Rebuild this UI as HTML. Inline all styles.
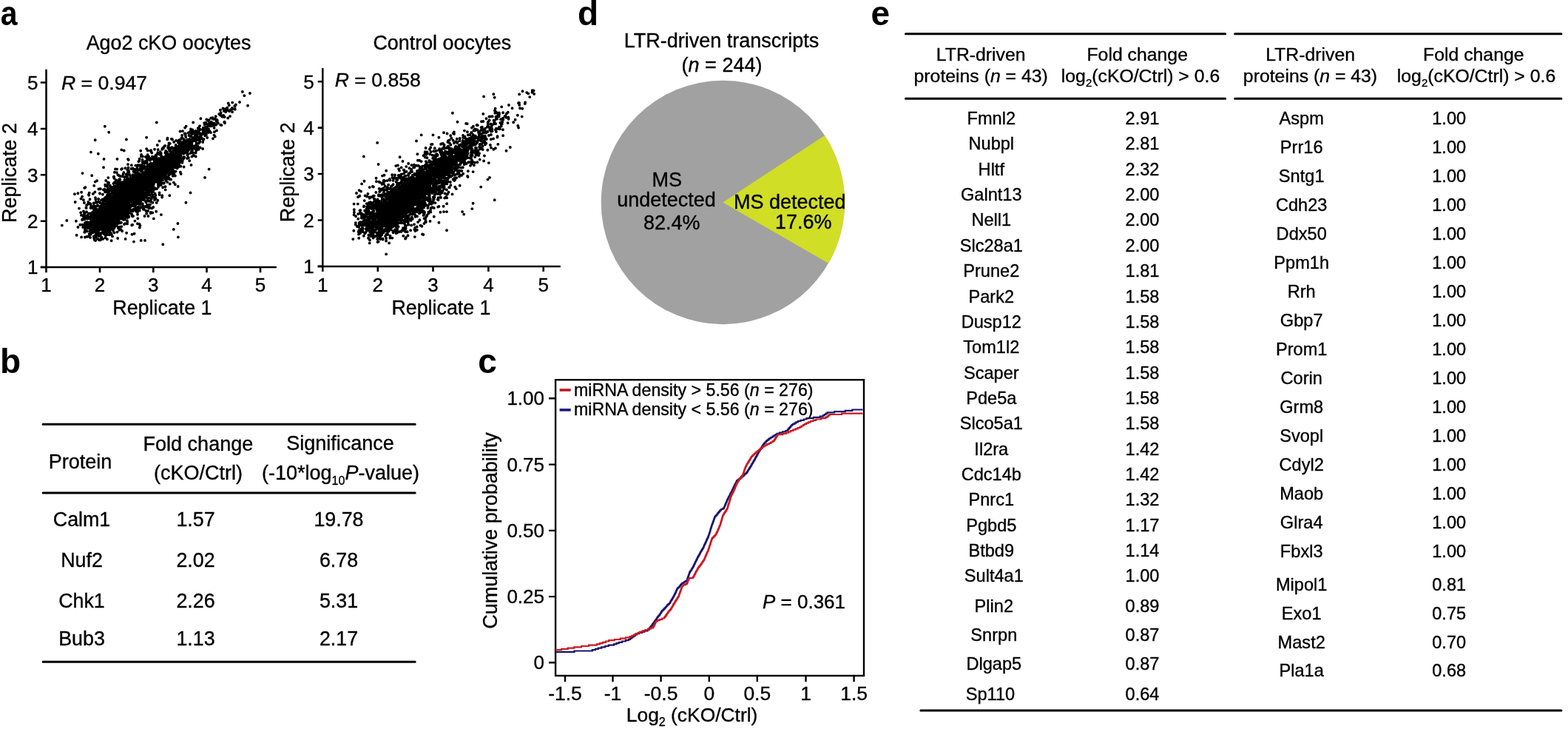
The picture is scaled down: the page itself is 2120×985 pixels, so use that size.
<!DOCTYPE html>
<html><head><meta charset="utf-8"><title>Figure</title>
<style>html,body{margin:0;padding:0;background:#fff;}svg{display:block;}text{fill:#000;stroke:#000;stroke-width:0.35px;}.lab text{stroke:none;}</style></head>
<body><svg width="2120" height="985" viewBox="0 0 2120 985" font-family="'Liberation Sans', Arial, sans-serif">
<rect width="2120" height="985" fill="#fff"/>
<g font-weight="bold" font-size="46" class="lab"><text transform="translate(0.8 34.3) scale(0.89 1)">a</text><text x="0" y="503.8">b</text><text x="646.2" y="504">c</text><text x="781" y="34">d</text><text x="1177.6" y="34">e</text></g><path d="M62.5 93.8V361M54.8 361H373.9" stroke="#000" stroke-width="2.5" fill="none"/><path d="M54.8 111.5H62.5M54.8 174H62.5M54.8 236.3H62.5M54.8 298.7H62.5M54.8 361H62.5M62.5 361V368.2M135 361V368.2M207.3 361V368.2M279.5 361V368.2M352 361V368.2" stroke="#000" stroke-width="2.6" fill="none"/><text x="51.5" y="120.8" font-size="26" text-anchor="end" >5</text><text x="51.5" y="183.3" font-size="26" text-anchor="end" >4</text><text x="51.5" y="245.60000000000002" font-size="26" text-anchor="end" >3</text><text x="51.5" y="308.0" font-size="26" text-anchor="end" >2</text><text x="51.5" y="370.3" font-size="26" text-anchor="end" >1</text><text x="62.5" y="393.6" font-size="26" text-anchor="middle" >1</text><text x="135" y="393.6" font-size="26" text-anchor="middle" >2</text><text x="207.3" y="393.6" font-size="26" text-anchor="middle" >3</text><text x="279.5" y="393.6" font-size="26" text-anchor="middle" >4</text><text x="352" y="393.6" font-size="26" text-anchor="middle" >5</text><text x="228" y="67.1" font-size="26.9" text-anchor="middle" >Ago2 cKO oocytes</text><text x="141" y="120.9" font-size="26.6" text-anchor="middle"><tspan font-style="italic">R</tspan> = 0.947</text><text x="219.4" y="425.3" font-size="26.8" text-anchor="middle" >Replicate 1</text><text transform="translate(21.5 233.5) rotate(-90)" font-size="27" text-anchor="middle">Replicate 2</text><path d="M436.3 91.9V359.9M429.7 359.9H757.8" stroke="#000" stroke-width="2.5" fill="none"/><path d="M429.7 110.2H436.3M429.7 172.6H436.3M429.7 235H436.3M429.7 297.5H436.3M429.7 359.9H436.3M436.3 359.9V367.09999999999997M510.8 359.9V367.09999999999997M585.5 359.9V367.09999999999997M660.4 359.9V367.09999999999997M734.7 359.9V367.09999999999997" stroke="#000" stroke-width="2.6" fill="none"/><text x="424.7" y="119.5" font-size="26" text-anchor="end" >5</text><text x="424.7" y="181.9" font-size="26" text-anchor="end" >4</text><text x="424.7" y="244.3" font-size="26" text-anchor="end" >3</text><text x="424.7" y="306.8" font-size="26" text-anchor="end" >2</text><text x="424.7" y="369.2" font-size="26" text-anchor="end" >1</text><text x="436.3" y="393.6" font-size="26" text-anchor="middle" >1</text><text x="510.8" y="393.6" font-size="26" text-anchor="middle" >2</text><text x="585.5" y="393.6" font-size="26" text-anchor="middle" >3</text><text x="660.4" y="393.6" font-size="26" text-anchor="middle" >4</text><text x="734.7" y="393.6" font-size="26" text-anchor="middle" >5</text><text x="597.8" y="66.7" font-size="26.9" text-anchor="middle" >Control oocytes</text><text x="510.8" y="116.7" font-size="26.6" text-anchor="middle"><tspan font-style="italic">R</tspan> = 0.858</text><text x="596.5" y="425.3" font-size="26.8" text-anchor="middle" >Replicate 1</text><text transform="translate(397.6 232.8) rotate(-90)" font-size="27" text-anchor="middle">Replicate 2</text><path d="M143.4 285.2h0M150.3 297.6h0M143.2 295.7h0M119.6 308.0h0M151.5 303.3h0M144.9 297.9h0M130.7 297.0h0M146.8 273.3h0M143.7 295.4h0M142.7 280.1h0M138.8 276.2h0M146.3 294.4h0M127.8 281.0h0M136.1 289.5h0M131.4 304.1h0M147.1 292.0h0M139.0 296.9h0M134.2 301.2h0M127.1 302.6h0M134.7 296.6h0M138.5 292.2h0M134.4 308.9h0M157.1 292.6h0M153.0 311.7h0M111.1 297.0h0M135.9 296.1h0M132.3 295.5h0M141.5 289.5h0M141.6 304.5h0M169.0 292.3h0M122.3 295.4h0M133.0 286.8h0M168.0 285.0h0M147.8 264.5h0M148.0 296.0h0M131.0 287.4h0M114.6 288.4h0M140.8 298.3h0M140.0 306.7h0M120.7 316.0h0M128.5 298.0h0M137.4 284.4h0M124.8 297.7h0M137.0 295.7h0M139.8 301.5h0M138.9 290.5h0M147.0 292.4h0M151.3 293.7h0M143.1 312.5h0M126.6 274.5h0M149.0 311.1h0M131.2 312.1h0M151.1 308.4h0M122.9 288.1h0M151.6 304.5h0M138.1 289.5h0M120.4 295.0h0M133.9 295.4h0M139.2 312.7h0M142.4 303.6h0M124.2 281.1h0M122.4 316.9h0M141.3 306.5h0M131.7 301.0h0M141.8 286.8h0M149.4 291.5h0M114.6 294.7h0M142.1 309.1h0M156.1 281.5h0M134.1 291.7h0M126.7 319.4h0M149.3 276.2h0M142.1 269.1h0M151.4 303.1h0M133.4 298.0h0M117.0 286.3h0M136.8 315.4h0M132.0 322.7h0M149.6 309.9h0M141.2 303.4h0M114.8 310.3h0M121.1 294.6h0M151.2 290.8h0M148.2 309.6h0M129.2 293.0h0M138.4 275.0h0M144.9 281.4h0M145.2 283.8h0M151.1 293.8h0M142.1 284.7h0M137.0 309.2h0M134.7 289.4h0M153.7 294.4h0M136.4 292.3h0M138.9 310.2h0M117.8 301.2h0M143.2 281.6h0M129.0 313.2h0M150.9 300.8h0M136.6 307.0h0M148.1 312.7h0M156.0 281.3h0M144.0 280.3h0M125.8 291.1h0M116.5 300.1h0M163.8 291.4h0M136.8 294.9h0M128.5 308.6h0M140.5 286.2h0M135.6 285.6h0M150.7 283.1h0M138.9 303.5h0M138.6 296.4h0M128.1 302.0h0M145.2 274.3h0M123.5 299.1h0M148.0 317.3h0M160.5 286.9h0M116.4 280.7h0M147.3 284.6h0M175.3 287.4h0M146.9 310.0h0M126.3 302.0h0M131.1 295.6h0M133.4 290.4h0M146.1 299.4h0M132.6 287.5h0M142.4 299.6h0M135.9 306.4h0M126.2 290.4h0M133.8 309.4h0M138.5 309.9h0M122.2 300.4h0M159.5 296.1h0M137.6 301.5h0M137.6 314.5h0M145.8 313.1h0M132.3 304.4h0M135.1 304.7h0M144.6 280.8h0M142.5 291.8h0M150.5 304.4h0M129.9 291.2h0M123.1 278.7h0M125.4 296.1h0M132.8 295.1h0M161.9 269.1h0M121.4 302.0h0M140.7 300.4h0M138.4 303.5h0M151.4 268.0h0M135.0 315.2h0M129.3 299.6h0M141.8 313.3h0M148.5 293.2h0M148.0 284.3h0M166.9 292.9h0M141.4 287.9h0M129.8 291.0h0M136.6 292.5h0M137.4 277.2h0M140.0 287.7h0M138.0 301.1h0M140.9 304.8h0M114.3 313.7h0M150.4 288.6h0M130.1 303.4h0M121.5 269.3h0M147.6 273.0h0M157.5 295.0h0M145.5 299.4h0M140.7 276.6h0M179.9 292.0h0M151.1 282.7h0M121.9 312.5h0M127.1 305.9h0M139.7 301.2h0M115.9 295.3h0M140.9 295.1h0M131.8 294.3h0M156.1 285.7h0M152.3 293.4h0M139.0 305.9h0M115.0 320.5h0M154.5 314.4h0M140.8 316.0h0M146.3 301.9h0M123.0 289.1h0M164.9 288.4h0M167.6 296.9h0M123.0 314.1h0M143.8 302.3h0M128.7 304.7h0M138.1 304.2h0M120.1 319.1h0M165.4 296.0h0M124.4 288.9h0M134.1 324.3h0M145.7 298.3h0M129.1 325.0h0M135.0 296.1h0M130.3 308.4h0M136.5 322.7h0M121.5 300.5h0M132.1 277.4h0M135.4 296.8h0M133.6 284.8h0M139.2 298.0h0M134.2 324.1h0M149.3 288.7h0M133.7 303.5h0M136.4 315.3h0M128.8 290.5h0M130.8 295.9h0M120.1 308.3h0M145.9 285.1h0M121.9 312.0h0M127.6 292.5h0M143.6 307.2h0M144.2 289.5h0M132.6 312.0h0M109.2 287.2h0M144.5 292.8h0M142.2 279.3h0M118.0 312.4h0M149.6 300.1h0M128.3 290.0h0M139.8 309.7h0M135.8 285.7h0M141.3 291.1h0M115.2 291.7h0M164.6 294.3h0M129.7 292.9h0M116.2 311.8h0M147.4 311.4h0M133.3 318.9h0M143.1 302.7h0M133.5 305.2h0M137.6 305.1h0M127.6 323.9h0M148.2 301.2h0M131.6 295.7h0M125.8 307.5h0M139.5 307.5h0M144.9 323.2h0M135.1 274.1h0M125.9 313.7h0M147.4 275.0h0M113.0 285.4h0M123.5 298.0h0M139.0 304.0h0M118.7 300.9h0M138.8 311.0h0M137.6 294.5h0M151.4 294.0h0M125.2 294.4h0M129.4 288.4h0M143.2 275.5h0M183.2 273.3h0M128.3 309.4h0M127.9 310.7h0M150.9 301.5h0M137.8 309.2h0M112.7 292.3h0M147.5 284.0h0M150.8 279.0h0M131.9 299.3h0M134.3 295.1h0M145.4 302.4h0M125.3 314.5h0M144.8 290.4h0M141.3 293.4h0M128.7 313.1h0M118.3 295.6h0M135.2 318.9h0M125.8 302.8h0M152.9 301.1h0M140.5 303.1h0M149.7 307.3h0M140.4 285.5h0M142.2 289.6h0M127.1 286.2h0M148.1 293.3h0M164.2 306.1h0M133.9 303.0h0M129.8 313.8h0M136.1 292.6h0M131.5 284.9h0M128.3 296.2h0M140.4 304.1h0M134.2 303.0h0M159.2 289.7h0M138.4 314.7h0M143.1 294.5h0M152.2 291.6h0M134.1 305.1h0M159.2 297.1h0M129.3 297.9h0M126.7 310.4h0M133.1 308.7h0M136.8 288.7h0M118.2 300.2h0M137.9 277.7h0M158.5 313.6h0M137.2 286.7h0M129.1 288.6h0M125.3 309.8h0M132.9 316.6h0M135.2 299.0h0M125.1 305.2h0M135.7 324.4h0M130.9 302.5h0M152.0 319.4h0M154.9 296.3h0M138.6 279.6h0M145.3 299.2h0M119.1 293.6h0M147.6 303.0h0M138.0 308.5h0M145.4 313.8h0M161.6 279.4h0M105.4 307.0h0M142.2 277.5h0M122.5 316.0h0M147.0 298.3h0M119.4 301.8h0M131.3 282.9h0M141.3 275.4h0M147.3 303.3h0M139.5 311.1h0M127.0 321.6h0M130.4 284.1h0M151.2 295.7h0M138.3 305.7h0M114.1 304.9h0M150.6 325.3h0M144.4 316.9h0M151.0 283.6h0M133.5 294.5h0M150.4 293.1h0M123.1 313.9h0M146.7 288.8h0M131.3 278.6h0M148.2 310.0h0M153.0 294.0h0M127.8 305.9h0M137.7 293.9h0M139.0 297.7h0M155.6 295.3h0M148.7 305.8h0M120.8 302.7h0M145.0 303.6h0M149.2 296.9h0M169.1 290.8h0M114.1 296.5h0M130.7 306.9h0M157.7 296.9h0M118.8 290.3h0M121.1 305.1h0M145.9 299.2h0M153.1 283.9h0M128.7 297.3h0M146.2 294.9h0M140.1 294.9h0M160.4 307.1h0M138.4 292.5h0M152.7 278.5h0M125.4 294.4h0M135.7 317.2h0M137.0 294.9h0M154.9 304.4h0M146.8 298.4h0M127.5 299.2h0M148.3 309.5h0M149.6 279.1h0M136.8 299.1h0M134.7 289.4h0M135.6 291.0h0M113.9 288.2h0M141.1 282.9h0M141.8 314.5h0M125.9 300.5h0M118.6 308.3h0M130.4 291.3h0M131.5 288.7h0M167.2 275.0h0M115.3 308.2h0M146.6 291.8h0M152.0 293.1h0M143.9 281.3h0M155.5 274.4h0M123.9 305.8h0M105.4 261.2h0M149.5 294.9h0M121.1 306.6h0M133.7 291.8h0M121.4 293.1h0M153.6 287.3h0M150.9 302.2h0M128.0 282.9h0M151.5 293.7h0M140.2 278.9h0M136.4 281.6h0M139.2 312.6h0M135.5 310.1h0M147.3 307.2h0M142.9 293.5h0M133.4 298.3h0M153.0 290.6h0M129.6 309.6h0M142.6 291.4h0M144.5 279.3h0M159.8 307.9h0M131.1 301.8h0M163.6 288.1h0M141.0 298.4h0M135.6 300.6h0M128.7 279.0h0M146.9 280.1h0M139.1 287.2h0M122.5 310.7h0M122.1 275.1h0M130.4 295.3h0M128.6 306.9h0M154.2 297.5h0M158.3 298.2h0M151.0 269.0h0M143.6 293.7h0M132.2 298.4h0M139.2 322.9h0M151.2 285.4h0M169.2 302.1h0M145.5 283.4h0M210.9 225.2h0M143.1 266.4h0M221.9 215.9h0M240.8 208.0h0M142.3 317.7h0M188.8 265.0h0M136.9 300.9h0M180.7 253.8h0M229.7 216.2h0M142.7 294.1h0M276.5 181.6h0M165.7 254.9h0M162.1 300.8h0M186.6 262.5h0M216.5 215.0h0M125.5 280.2h0M188.9 257.5h0M140.2 292.7h0M248.1 207.7h0M186.3 242.8h0M180.2 274.0h0M231.9 208.1h0M149.4 296.0h0M173.0 266.0h0M278.3 179.9h0M169.0 247.5h0M258.9 204.4h0M195.6 247.7h0M166.4 277.7h0M168.5 254.0h0M184.1 247.7h0M170.0 264.5h0M153.7 273.7h0M144.9 263.8h0M126.3 287.1h0M192.1 251.9h0M200.4 235.3h0M222.7 224.6h0M133.4 311.4h0M231.6 227.5h0M176.6 248.2h0M128.0 285.6h0M188.3 249.8h0M225.2 221.3h0M206.8 229.9h0M226.3 229.7h0M231.0 215.2h0M233.1 221.2h0M176.4 249.1h0M127.4 321.7h0M167.6 282.2h0M183.3 223.6h0M168.8 266.9h0M225.8 232.5h0M203.3 203.6h0M185.4 251.4h0M270.1 170.1h0M164.1 291.2h0M235.6 220.2h0M173.6 271.1h0M158.4 275.3h0M214.7 231.1h0M170.3 276.3h0M234.8 225.6h0M152.8 292.1h0M204.7 269.0h0M150.9 272.3h0M178.8 262.3h0M185.2 275.5h0M160.4 296.6h0M215.9 226.4h0M139.0 284.6h0M138.6 269.4h0M236.6 224.4h0M230.5 212.1h0M208.7 219.1h0M196.7 236.2h0M303.2 164.9h0M178.5 316.7h0M155.4 270.5h0M145.0 275.6h0M233.5 220.9h0M203.9 246.8h0M240.8 209.3h0M233.5 214.7h0M173.4 256.9h0M163.6 281.8h0M161.5 289.6h0M293.4 161.9h0M228.0 210.2h0M218.9 233.9h0M188.7 276.4h0M162.1 245.5h0M162.2 253.8h0M176.6 265.1h0M188.2 260.4h0M158.4 252.6h0M205.6 247.9h0M199.3 249.2h0M220.3 213.2h0M188.1 257.6h0M224.0 221.1h0M142.2 279.0h0M267.8 180.6h0M144.7 287.8h0M164.5 252.1h0M226.3 230.7h0M150.5 273.9h0M205.9 211.7h0M136.7 292.6h0M137.2 320.3h0M156.1 303.8h0M135.4 304.2h0M182.4 252.9h0M178.8 266.6h0M192.4 233.2h0M142.8 275.9h0M307.2 145.8h0M175.4 251.1h0M172.0 245.5h0M212.6 239.9h0M174.0 258.3h0M166.0 273.1h0M185.4 247.6h0M237.4 222.3h0M219.3 228.0h0M233.4 216.9h0M181.8 283.0h0M156.0 272.6h0M271.4 160.2h0M185.7 268.1h0M214.1 239.2h0M208.5 212.5h0M265.2 203.9h0M122.7 276.1h0M153.8 254.0h0M173.7 268.6h0M176.8 263.8h0M184.2 258.7h0M196.7 239.3h0M218.4 237.8h0M225.5 238.8h0M145.8 287.7h0M243.6 224.3h0M173.9 292.8h0M141.0 284.8h0M179.1 303.8h0M156.5 276.9h0M189.0 243.0h0M231.0 224.2h0M116.3 312.5h0M158.4 261.2h0M229.1 216.1h0M199.0 248.8h0M210.1 232.7h0M142.3 300.9h0M235.1 216.6h0M129.1 293.2h0M198.8 249.2h0M255.1 199.2h0M275.9 173.4h0M206.0 228.4h0M233.8 221.3h0M174.2 278.0h0M175.6 272.2h0M236.6 199.4h0M182.8 251.3h0M178.4 254.8h0M150.9 303.1h0M169.4 227.2h0M210.9 221.2h0M161.6 277.7h0M154.9 255.8h0M261.3 186.0h0M192.3 244.6h0M171.6 258.0h0M153.5 290.0h0M168.7 274.1h0M173.9 257.8h0M252.1 195.9h0M150.1 257.4h0M267.7 173.5h0M150.9 276.0h0M159.1 251.1h0M231.8 222.7h0M176.1 259.1h0M152.0 271.5h0M171.9 249.4h0M208.0 235.4h0M147.3 317.1h0M168.7 253.2h0M172.0 248.2h0M173.5 266.1h0M212.3 215.0h0M165.0 268.0h0M191.6 279.5h0M200.5 263.5h0M220.4 222.4h0M174.7 256.9h0M259.1 189.5h0M160.1 282.8h0M253.8 204.3h0M159.9 279.8h0M181.0 259.0h0M192.3 229.0h0M284.4 166.0h0M216.8 205.3h0M171.0 264.0h0M245.3 195.9h0M166.1 249.0h0M159.9 276.1h0M207.5 234.9h0M185.8 246.0h0M224.7 207.2h0M161.9 264.3h0M201.2 235.1h0M198.6 211.6h0M202.7 245.2h0M180.7 251.2h0M144.0 257.1h0M240.1 224.7h0M195.0 250.4h0M219.9 241.6h0M173.3 262.9h0M185.6 252.7h0M186.4 247.3h0M226.4 224.6h0M201.4 259.7h0M221.7 212.6h0M194.5 235.2h0M248.4 193.1h0M168.8 250.0h0M134.7 301.9h0M195.4 225.9h0M180.8 259.0h0M150.1 277.9h0M225.0 232.9h0M198.7 242.8h0M201.2 229.8h0M155.0 246.1h0M215.5 263.0h0M190.7 236.8h0M280.2 186.0h0M158.5 268.9h0M177.3 247.2h0M207.9 242.4h0M119.4 293.6h0M135.3 300.4h0M287.7 159.5h0M117.9 294.6h0M204.3 221.5h0M161.0 280.3h0M150.1 266.1h0M115.9 305.0h0M144.8 269.2h0M210.8 209.5h0M161.2 310.7h0M223.5 236.4h0M193.9 234.6h0M292.9 176.4h0M147.1 247.3h0M247.2 200.6h0M223.4 211.6h0M180.1 265.2h0M137.5 305.8h0M250.7 182.9h0M159.9 308.3h0M153.1 252.4h0M223.3 212.0h0M248.5 214.1h0M127.2 250.9h0M179.6 263.2h0M243.7 204.4h0M310.1 150.3h0M227.8 213.0h0M175.8 244.2h0M154.4 289.1h0M282.1 169.3h0M190.6 244.2h0M172.6 284.0h0M167.2 266.0h0M176.0 277.9h0M185.5 237.9h0M193.8 269.8h0M219.5 227.8h0M265.5 193.1h0M225.6 229.2h0M144.5 287.2h0M120.1 288.5h0M154.8 269.7h0M234.1 206.9h0M175.8 264.2h0M169.3 277.3h0M193.6 249.1h0M136.7 291.2h0M158.2 294.2h0M214.9 236.1h0M181.6 267.4h0M163.0 259.8h0M193.0 233.5h0M156.1 261.2h0M150.5 262.0h0M188.7 282.3h0M211.8 225.7h0M181.3 245.1h0M131.0 273.8h0M175.5 262.1h0M222.1 230.8h0M275.6 173.9h0M141.2 279.6h0M203.6 240.8h0M184.7 267.6h0M204.5 232.2h0M266.8 199.9h0M192.5 216.0h0M158.7 261.3h0M185.0 283.5h0M195.0 227.8h0M202.7 235.4h0M298.0 148.8h0M265.7 181.7h0M148.5 287.8h0M200.9 237.6h0M160.5 306.9h0M150.7 316.7h0M216.5 217.9h0M213.8 231.7h0M146.9 278.8h0M265.5 184.4h0M165.1 291.1h0M163.9 300.7h0M226.3 234.0h0M188.2 237.4h0M188.5 265.4h0M187.6 259.4h0M177.4 227.9h0M177.5 254.7h0M190.9 268.1h0M118.5 302.4h0M144.5 293.7h0M196.9 212.1h0M161.9 272.9h0M210.9 229.8h0M242.3 198.7h0M171.0 261.2h0M207.3 248.7h0M288.6 167.8h0M215.2 220.9h0M273.9 174.9h0M274.1 201.0h0M221.1 221.0h0M185.9 260.4h0M160.4 294.5h0M219.1 241.7h0M213.2 238.2h0M175.7 255.1h0M221.3 213.2h0M172.2 276.2h0M234.9 202.9h0M183.7 248.8h0M194.3 263.4h0M188.5 256.3h0M175.6 250.8h0M304.8 147.1h0M146.4 310.5h0M189.2 242.0h0M247.3 202.2h0M216.1 219.7h0M174.0 260.8h0M269.7 179.8h0M150.9 283.9h0M142.3 289.9h0M198.5 217.1h0M130.0 287.5h0M231.3 218.9h0M205.2 206.6h0M211.0 214.0h0M175.1 272.1h0M200.0 250.8h0M151.0 278.2h0M272.4 182.7h0M204.1 203.2h0M213.8 215.6h0M224.6 219.5h0M255.7 188.5h0M246.1 203.6h0M233.1 228.4h0M183.6 252.2h0M167.3 257.2h0M198.9 214.7h0M204.2 237.6h0M200.6 246.9h0M184.3 270.1h0M271.5 186.4h0M152.9 291.2h0M177.4 248.0h0M160.3 264.6h0M236.6 210.9h0M254.5 192.8h0M253.1 207.3h0M155.3 306.4h0M287.2 166.2h0M202.9 225.2h0M172.4 248.6h0M187.6 253.8h0M174.4 263.3h0M208.5 237.9h0M199.8 239.9h0M176.6 266.3h0M195.2 264.1h0M217.2 240.9h0M220.9 240.0h0M176.6 254.7h0M201.6 229.5h0M246.4 219.7h0M164.8 262.3h0M253.4 188.8h0M129.6 315.3h0M140.0 285.3h0M142.1 267.1h0M161.2 288.9h0M246.7 201.4h0M247.4 202.6h0M165.0 227.9h0M264.5 177.0h0M193.8 240.7h0M175.2 272.8h0M189.1 236.5h0M183.1 259.4h0M219.8 221.4h0M128.1 288.6h0M231.8 209.6h0M166.9 263.5h0M230.2 220.3h0M144.1 304.6h0M174.9 268.2h0M188.8 250.0h0M213.7 202.2h0M145.8 287.9h0M269.7 186.0h0M213.8 237.5h0M174.5 273.8h0M226.5 186.6h0M188.0 247.3h0M244.7 207.3h0M299.3 156.3h0M214.8 214.3h0M177.8 276.7h0M169.8 264.1h0M194.2 237.0h0M162.6 280.8h0M151.4 261.9h0M225.1 231.9h0M303.6 158.0h0M233.5 234.2h0M179.0 260.0h0M225.5 222.6h0M229.2 218.4h0M189.0 252.3h0M156.4 285.7h0M142.7 295.2h0M237.7 195.9h0M172.6 254.4h0M162.2 264.0h0M181.0 265.5h0M199.8 240.4h0M252.4 200.4h0M242.0 206.7h0M132.2 295.6h0M260.0 203.2h0M171.8 284.8h0M116.2 301.4h0M136.3 280.3h0M149.8 277.2h0M183.8 252.7h0M152.0 282.8h0M141.0 300.2h0M174.7 259.2h0M279.0 172.4h0M147.0 260.0h0M218.0 242.7h0M206.7 265.3h0M317.6 143.9h0M118.5 302.5h0M241.8 210.1h0M144.4 290.2h0M162.2 266.9h0M183.8 257.7h0M178.2 290.3h0M132.2 313.8h0M238.1 189.9h0M158.4 277.5h0M184.1 266.2h0M182.0 252.1h0M198.3 256.7h0M183.7 261.7h0M182.8 228.9h0M209.8 242.1h0M216.4 208.5h0M171.0 265.2h0M139.9 256.4h0M125.8 261.9h0M205.6 221.2h0M190.1 260.3h0M215.3 232.9h0M274.8 188.8h0M197.0 246.2h0M226.4 225.6h0M154.8 294.7h0M146.5 280.8h0M184.8 270.6h0M140.5 283.3h0M216.7 222.6h0M153.5 301.0h0M209.5 268.7h0M158.0 292.0h0M180.6 268.5h0M173.4 257.9h0M112.5 291.3h0M172.7 233.5h0M233.4 213.0h0M222.0 230.7h0M160.3 269.0h0M169.4 272.8h0M147.6 287.7h0M219.1 229.7h0M258.4 195.2h0M168.2 268.3h0M134.1 304.7h0M193.1 243.5h0M216.7 221.1h0M298.2 168.7h0M221.5 215.7h0M221.9 238.8h0M213.5 244.1h0M223.2 196.9h0M157.3 276.9h0M223.5 252.2h0M165.2 274.8h0M193.6 239.0h0M127.1 310.8h0M218.3 218.2h0M218.1 210.6h0M198.6 261.3h0M195.7 248.7h0M266.0 186.7h0M163.0 295.2h0M148.3 272.9h0M151.6 285.9h0M165.0 259.9h0M178.2 304.3h0M192.3 256.5h0M155.9 264.8h0M130.8 287.9h0M142.6 303.8h0M247.5 205.2h0M191.2 262.5h0M183.4 264.7h0M179.1 246.0h0M181.9 255.3h0M224.8 223.9h0M202.9 221.4h0M144.8 251.7h0M149.6 269.0h0M160.0 292.7h0M135.8 281.1h0M256.7 197.1h0M157.8 281.3h0M129.1 318.4h0M153.0 273.0h0M159.5 275.6h0M209.1 246.3h0M149.8 272.7h0M223.9 241.9h0M201.9 235.2h0M248.2 201.2h0M293.7 164.5h0M335.0 142.8h0M253.8 198.9h0M153.2 291.0h0M169.9 263.0h0M193.5 239.8h0M289.6 169.4h0M223.0 229.1h0M241.2 200.4h0M174.1 253.7h0M221.3 234.9h0M215.3 219.0h0M165.8 262.4h0M220.3 218.3h0M229.5 201.5h0M193.1 269.2h0M237.0 212.4h0M265.3 183.8h0M184.0 246.8h0M178.9 248.0h0M176.3 263.2h0M167.3 272.8h0M198.7 252.0h0M172.8 265.9h0M177.4 264.3h0M162.0 276.9h0M144.0 304.2h0M162.0 286.1h0M191.3 231.0h0M148.4 288.2h0M160.8 268.8h0M274.2 192.0h0M244.3 209.6h0M168.8 278.3h0M179.7 285.3h0M263.7 184.1h0M161.4 265.8h0M172.5 235.6h0M248.1 191.2h0M157.5 276.0h0M261.8 209.7h0M154.6 273.0h0M202.5 248.4h0M186.6 271.3h0M182.5 256.2h0M189.7 243.9h0M183.9 256.5h0M166.0 294.0h0M229.9 219.0h0M224.7 226.9h0M244.7 196.1h0M254.8 196.9h0M146.2 295.3h0M261.0 210.6h0M240.9 192.2h0M171.4 271.4h0M222.0 197.9h0M266.1 199.6h0M159.3 261.4h0M141.8 293.5h0M183.3 272.0h0M324.0 138.0h0M193.9 241.1h0M129.7 273.8h0M179.1 262.5h0M148.2 277.4h0M171.4 264.0h0M195.2 254.1h0M223.7 256.4h0M255.9 195.4h0M182.9 262.6h0M193.5 282.2h0M243.7 211.8h0M149.4 293.7h0M153.2 295.9h0M124.3 279.0h0M175.7 254.2h0M211.9 243.4h0M173.5 248.5h0M217.8 235.3h0M231.4 223.4h0M165.3 281.8h0M173.7 258.6h0M248.2 202.7h0M136.9 270.6h0M171.2 255.6h0M178.9 271.5h0M191.0 268.6h0M133.1 268.9h0M133.0 284.2h0M233.3 215.3h0M156.6 268.9h0M180.1 252.4h0M213.7 221.1h0M187.0 274.4h0M207.7 221.0h0M151.3 258.8h0M163.5 254.9h0M176.3 250.6h0M179.6 274.3h0M197.8 262.6h0M204.5 248.1h0M201.9 227.8h0M157.1 285.0h0M214.8 250.0h0M205.5 252.8h0M202.3 228.1h0M155.7 281.6h0M231.5 209.1h0M285.2 159.5h0M167.0 270.5h0M176.1 284.3h0M181.2 250.7h0M199.6 209.1h0M133.1 272.3h0M244.5 199.7h0M220.0 200.0h0M205.0 214.9h0M155.2 257.9h0M229.0 214.1h0M233.4 222.9h0M143.9 285.3h0M288.7 166.8h0M177.9 264.1h0M212.7 246.1h0M170.0 269.8h0M199.8 233.7h0M244.0 206.5h0M162.9 279.6h0M140.1 307.5h0M172.3 267.6h0M171.1 314.7h0M171.6 284.4h0M177.1 253.6h0M202.0 271.6h0M252.2 202.6h0M138.6 270.3h0M213.8 248.5h0M151.7 253.1h0M253.9 197.8h0M307.1 145.8h0M205.4 245.3h0M261.8 178.5h0M183.1 281.4h0M134.8 299.8h0M146.7 291.6h0M157.4 283.1h0M201.7 281.2h0M240.7 204.5h0M222.2 226.5h0M201.9 228.8h0M167.4 261.9h0M148.0 261.9h0M198.6 262.2h0M197.7 252.7h0M201.5 246.0h0M215.2 248.1h0M173.0 249.6h0M121.8 306.8h0M152.8 288.2h0M157.0 275.5h0M260.4 175.4h0M170.1 264.4h0M223.7 229.9h0M268.4 201.9h0M207.4 244.6h0M165.4 258.5h0M146.1 277.1h0M199.7 240.2h0M240.4 206.1h0M210.1 227.0h0M223.7 221.7h0M214.9 218.6h0M284.6 170.4h0M151.6 260.1h0M187.9 242.6h0M211.2 216.5h0M245.3 200.3h0M170.5 270.1h0M181.6 262.1h0M153.1 283.6h0M236.6 226.5h0M191.6 240.6h0M171.1 263.5h0M147.6 312.8h0M151.7 298.9h0M153.3 281.3h0M201.2 229.0h0M149.1 290.8h0M102.9 298.7h0M122.6 281.0h0M151.9 258.0h0M264.6 181.1h0M308.0 148.7h0M171.4 268.6h0M234.4 216.4h0M255.6 196.2h0M244.0 196.1h0M177.5 253.4h0M154.4 300.1h0M158.9 258.2h0M142.5 321.2h0M208.8 253.7h0M233.9 230.0h0M111.7 296.3h0M195.0 264.9h0M195.2 237.5h0M244.3 199.3h0M249.0 192.4h0M228.2 223.1h0M168.5 277.6h0M172.0 262.8h0M248.4 206.6h0M166.0 270.9h0M199.0 267.8h0M257.1 184.1h0M183.3 241.1h0M136.0 288.2h0M188.6 273.0h0M224.9 233.9h0M188.0 266.6h0M251.8 202.9h0M162.3 270.3h0M165.9 265.2h0M175.5 251.0h0M160.2 299.4h0M215.6 247.9h0M185.8 264.1h0M225.7 222.3h0M173.9 277.4h0M164.9 285.4h0M287.8 187.2h0M163.6 284.2h0M180.8 282.5h0M155.4 268.9h0M189.6 274.4h0M135.0 261.6h0M191.1 261.1h0M153.2 265.5h0M177.6 270.3h0M208.7 243.2h0M218.1 222.7h0M206.9 232.9h0M146.6 261.5h0M197.0 230.2h0M179.4 255.2h0M185.3 259.6h0M122.4 296.0h0M226.6 232.7h0M176.4 253.8h0M265.0 178.6h0M210.2 221.2h0M120.7 260.6h0M141.3 292.7h0M237.3 201.5h0M138.9 262.7h0M220.5 226.3h0M172.5 259.4h0M289.8 166.6h0M198.5 258.2h0M260.0 190.3h0M245.7 193.3h0M172.2 260.6h0M259.5 192.2h0M179.2 247.7h0M152.1 273.3h0M249.5 206.7h0M313.9 146.8h0M173.9 245.0h0M250.9 190.7h0M191.3 266.6h0M248.2 191.5h0M180.9 261.6h0M254.8 198.7h0M215.1 230.6h0M168.8 247.6h0M204.3 246.7h0M183.5 280.2h0M157.5 290.4h0M155.1 284.3h0M180.8 250.1h0M156.1 284.9h0M217.0 239.4h0M240.7 251.9h0M223.7 242.1h0M170.0 264.9h0M200.3 256.5h0M197.3 260.7h0M250.5 193.0h0M144.0 259.6h0M188.9 274.6h0M201.1 276.6h0M176.6 250.3h0M168.9 277.7h0M171.2 272.9h0M240.2 209.5h0M151.0 255.9h0M226.1 205.6h0M292.3 168.6h0M242.4 189.2h0M130.3 303.7h0M228.7 219.9h0M217.0 234.6h0M215.0 227.4h0M131.5 294.6h0M224.0 217.1h0M152.5 282.5h0M252.0 196.2h0M244.3 208.3h0M308.7 139.5h0M170.7 258.9h0M150.4 305.4h0M258.5 222.9h0M232.1 214.8h0M163.4 252.5h0M262.0 199.8h0M219.4 219.6h0M135.1 279.0h0M191.7 275.3h0M168.5 260.6h0M194.4 264.1h0M202.1 246.7h0M159.2 266.7h0M175.1 252.4h0M226.2 234.0h0M178.8 248.7h0M181.0 261.7h0M180.2 262.9h0M193.0 262.5h0M124.7 305.4h0M186.0 235.6h0M148.0 275.7h0M195.4 248.2h0M143.4 296.7h0M236.9 215.3h0M199.2 240.5h0M144.3 290.7h0M197.8 239.2h0M157.9 269.2h0M279.3 177.8h0M208.5 227.1h0M158.2 271.5h0M197.0 239.6h0M175.1 242.3h0M251.2 204.2h0M200.5 231.3h0M192.9 211.5h0M156.7 288.1h0M228.9 218.9h0M288.8 160.9h0M222.0 226.0h0M177.9 244.9h0M204.3 250.6h0M173.9 293.5h0M197.7 242.9h0M156.2 286.4h0M191.1 249.2h0M169.2 257.7h0M152.2 267.8h0M202.2 213.5h0M140.6 294.8h0M186.6 252.4h0M151.9 295.3h0M281.9 176.9h0M286.2 168.4h0M238.4 222.2h0M289.9 178.2h0M201.2 211.5h0M196.9 212.0h0M181.3 270.1h0M188.4 302.7h0M198.6 248.6h0M180.3 275.5h0M185.8 274.7h0M237.6 231.6h0M193.5 264.0h0M132.6 292.0h0M179.7 257.2h0M146.4 259.2h0M169.0 252.4h0M143.8 275.7h0M251.2 203.9h0M276.2 166.2h0M158.0 288.8h0M221.9 225.1h0M220.0 227.7h0M151.8 281.4h0M188.4 242.4h0M267.6 200.3h0M241.3 225.2h0M260.8 177.0h0M146.3 282.1h0M167.9 277.0h0M209.1 244.4h0M201.3 232.5h0M198.8 258.2h0M174.1 262.4h0M179.7 268.6h0M162.5 264.8h0M213.7 235.4h0M262.9 181.3h0M146.2 246.5h0M137.5 289.8h0M221.7 234.8h0M165.2 312.3h0M217.9 245.0h0M164.1 255.2h0M220.5 230.2h0M232.4 223.9h0M243.9 191.3h0M200.4 292.0h0M154.3 240.8h0M191.9 256.7h0M129.9 282.9h0M218.7 229.1h0M188.6 242.2h0M134.9 283.1h0M254.5 208.1h0M249.2 190.4h0M149.6 294.6h0M215.9 228.6h0M242.6 194.6h0M228.0 216.6h0M169.6 293.1h0M139.2 290.3h0M175.4 249.6h0M181.8 276.5h0M188.5 254.2h0M192.2 263.5h0M190.9 211.2h0M174.0 273.5h0M168.8 246.6h0M327.8 124.0h0M192.5 265.4h0M214.6 214.3h0M206.3 244.9h0M195.2 241.4h0M168.4 288.7h0M212.0 229.9h0M178.8 249.3h0M231.9 222.8h0M282.3 162.3h0M189.1 239.2h0M223.9 220.6h0M171.8 298.1h0M191.5 247.1h0M261.1 186.3h0M178.3 249.6h0M165.3 270.8h0M190.3 238.6h0M174.8 253.6h0M173.6 255.7h0M283.1 168.7h0M160.9 280.2h0M167.9 260.5h0M178.3 278.3h0M247.2 200.7h0M164.9 250.4h0M248.4 196.3h0M188.0 240.1h0M156.0 228.4h0M133.6 289.8h0M241.0 197.8h0M206.9 224.8h0M209.5 238.6h0M185.4 259.1h0M169.3 261.9h0M147.6 291.1h0M232.4 212.7h0M200.1 241.9h0M172.8 261.8h0M148.0 255.6h0M185.9 258.0h0M251.6 170.6h0M226.6 222.2h0M165.4 268.7h0M152.3 286.0h0M154.1 238.7h0M154.2 276.7h0M200.8 258.7h0M213.8 242.3h0M222.2 229.9h0M210.1 238.0h0M175.4 254.4h0M222.7 233.2h0M145.4 267.7h0M185.0 256.3h0M228.0 219.8h0M203.9 243.2h0M140.2 284.5h0M146.5 283.4h0M145.6 308.5h0M276.0 177.4h0M179.2 254.4h0M280.0 178.0h0M243.6 210.5h0M255.4 200.4h0M171.4 267.8h0M223.3 221.4h0M337.9 126.0h0M192.0 259.6h0M195.2 224.5h0M160.8 248.2h0M192.8 225.7h0M252.9 192.2h0M173.0 291.6h0M127.9 282.3h0M191.0 253.3h0M184.0 232.2h0M255.8 192.5h0M198.1 201.1h0M154.2 259.8h0M214.3 227.8h0M244.6 207.7h0M202.3 241.0h0M176.1 262.7h0M223.3 226.3h0M168.3 256.8h0M113.5 294.4h0M253.2 197.0h0M139.9 284.8h0M176.9 263.2h0M206.2 287.4h0M169.5 256.9h0M165.8 250.9h0M112.9 270.2h0M220.2 236.7h0M187.3 250.4h0M176.4 240.0h0M244.3 211.7h0M232.5 199.2h0M252.2 196.1h0M274.8 172.6h0M211.6 235.8h0M125.3 286.6h0M182.0 230.5h0M178.3 244.1h0M175.7 237.1h0M185.8 286.1h0M169.4 288.2h0M227.1 220.3h0M229.9 208.0h0M154.4 288.1h0M215.2 231.6h0M185.0 261.2h0M146.3 240.1h0M222.0 225.2h0M193.8 262.2h0M195.5 292.0h0M213.2 270.7h0M124.2 311.5h0M164.6 259.0h0M149.3 299.7h0M173.4 226.5h0M205.9 246.9h0M155.4 260.5h0M191.9 267.8h0M218.9 224.4h0M245.1 214.6h0M178.1 289.2h0M215.2 249.6h0M237.5 210.1h0M179.6 249.6h0M157.7 272.5h0M166.0 279.4h0M193.4 278.1h0M154.8 284.8h0M285.1 169.5h0M149.9 254.7h0M206.0 239.1h0M190.0 241.8h0M201.3 213.3h0M167.6 259.7h0M152.1 297.7h0M268.3 187.1h0M181.6 254.7h0M194.1 251.3h0M189.7 240.5h0M204.8 205.6h0M239.0 201.0h0M232.6 225.1h0M172.5 229.6h0M195.2 240.6h0M159.2 272.7h0M129.3 314.0h0M180.8 263.1h0M155.6 288.1h0M314.5 147.1h0M268.4 193.8h0M171.8 272.7h0M281.5 163.1h0M107.0 281.6h0M156.9 296.8h0M155.8 271.9h0M163.8 288.7h0M193.4 249.3h0M200.2 250.0h0M283.5 177.3h0M233.2 210.8h0M241.9 199.4h0M211.6 240.9h0M171.4 249.8h0M161.2 271.2h0M141.6 300.6h0M159.2 279.8h0M185.5 275.1h0M221.0 220.0h0M139.4 308.6h0M143.6 294.2h0M197.4 245.4h0M146.3 278.7h0M213.9 249.9h0M179.1 271.3h0M150.9 266.0h0M127.0 278.0h0M187.5 260.7h0M128.7 245.6h0M159.2 265.4h0M160.2 267.6h0M193.8 245.1h0M191.0 245.9h0M118.1 291.8h0M187.1 264.1h0M202.3 234.6h0M240.2 213.4h0M224.2 221.2h0M198.1 247.0h0M159.3 295.3h0M152.1 268.2h0M237.2 221.3h0M163.2 274.0h0M231.8 207.3h0M248.8 201.0h0M159.1 290.6h0M187.4 218.3h0M182.3 257.3h0M286.3 170.0h0M227.8 219.6h0M159.6 260.0h0M202.7 234.2h0M172.5 294.0h0M183.2 234.5h0M179.8 236.2h0M194.4 235.5h0M151.7 275.5h0M129.7 309.7h0M194.7 282.1h0M155.1 277.7h0M155.5 267.1h0M285.2 159.8h0M241.3 204.0h0M211.2 285.7h0M137.3 292.6h0M146.1 292.6h0M189.8 227.1h0M246.7 216.5h0M177.7 263.2h0M200.7 255.5h0M204.8 249.0h0M237.1 208.5h0M135.7 316.4h0M196.9 250.5h0M199.8 231.9h0M232.7 214.5h0M209.3 240.9h0M153.5 288.0h0M175.0 277.3h0M129.4 291.0h0M189.7 241.1h0M207.5 256.6h0M201.9 224.8h0M143.8 272.2h0M144.7 282.5h0M260.4 189.9h0M199.8 250.7h0M269.3 179.0h0M198.9 228.3h0M131.6 289.3h0M222.4 217.7h0M247.7 203.4h0M165.0 261.4h0M217.8 225.6h0M190.5 266.0h0M195.7 239.2h0M205.9 232.9h0M152.0 273.6h0M228.0 215.8h0M127.0 305.7h0M123.2 304.6h0M181.2 275.3h0M270.6 188.5h0M268.8 189.5h0M171.8 276.1h0M232.4 210.1h0M218.8 233.8h0M206.2 249.7h0M191.8 229.3h0M186.3 295.2h0M230.9 225.5h0M239.5 211.0h0M318.8 141.4h0M227.0 212.5h0M152.4 293.0h0M206.0 243.6h0M177.1 241.1h0M120.1 302.0h0M171.0 249.3h0M169.4 260.2h0M192.8 263.1h0M189.4 264.3h0M241.8 225.2h0M253.1 189.2h0M226.6 232.0h0M153.5 288.8h0M150.4 272.3h0M131.0 244.2h0M187.2 258.6h0M164.1 259.5h0M171.1 261.2h0M153.2 277.9h0M228.3 211.1h0M213.2 206.3h0M234.5 216.0h0M187.6 260.3h0M216.5 242.5h0M157.0 280.6h0M162.7 291.1h0M164.8 266.7h0M209.9 225.8h0M172.5 251.0h0M168.0 303.0h0M185.3 246.0h0M206.5 236.5h0M195.5 248.8h0M157.8 267.4h0M170.6 235.7h0M198.1 288.5h0M176.8 264.6h0M190.8 263.5h0M224.7 224.3h0M268.9 172.1h0M255.5 183.0h0M219.6 230.4h0M181.3 272.7h0M166.3 254.6h0M182.1 265.8h0M239.4 203.3h0M185.9 232.4h0M114.2 304.1h0M195.6 262.7h0M252.8 200.2h0M167.2 289.1h0M257.8 206.9h0M267.5 197.7h0M208.8 231.9h0M243.7 198.2h0M135.1 255.3h0M240.9 202.8h0M275.5 188.1h0M201.0 213.2h0M197.0 240.0h0M249.5 200.9h0M235.6 201.7h0M160.9 274.5h0M250.8 195.5h0M216.6 217.9h0M189.4 243.8h0M253.1 202.2h0M235.1 218.6h0M232.0 231.1h0M148.9 250.7h0M223.6 216.4h0M147.5 283.2h0M188.8 263.7h0M142.6 311.8h0M125.6 297.8h0M200.5 229.3h0M178.5 252.3h0M184.0 245.3h0M212.1 226.9h0M209.1 244.7h0M148.2 271.3h0M190.9 252.3h0M172.1 246.0h0M148.9 251.3h0M175.7 252.3h0M180.6 270.0h0M161.9 269.9h0M200.0 285.0h0M178.8 228.2h0M286.8 167.4h0M153.3 271.8h0M205.3 226.9h0M143.3 299.4h0M265.9 189.2h0M182.2 269.6h0M182.6 239.6h0M248.4 200.4h0M242.8 220.0h0M141.8 299.8h0M211.5 229.4h0M178.9 260.8h0M211.6 224.1h0M203.8 256.7h0M232.0 231.9h0M198.2 240.1h0M186.0 262.0h0M244.6 205.6h0M136.9 298.5h0M165.0 260.4h0M144.9 272.4h0M177.7 255.1h0M172.6 266.7h0M181.2 258.4h0M145.8 247.0h0M156.6 255.2h0M122.8 291.9h0M206.2 273.8h0M197.0 237.7h0M168.5 272.6h0M159.7 268.4h0M156.2 264.7h0M263.2 179.4h0M195.5 246.5h0M213.9 245.6h0M184.2 269.5h0M188.8 284.6h0M162.2 283.0h0M261.4 189.3h0M142.8 312.4h0M213.9 252.9h0M191.0 259.9h0M179.2 262.7h0M140.5 302.9h0M248.6 225.5h0M162.6 272.9h0M229.7 217.9h0M212.3 220.4h0M218.0 233.0h0M216.9 216.7h0M151.0 291.9h0M165.4 263.0h0M220.5 226.8h0M159.4 302.1h0M268.6 185.2h0M168.9 270.9h0M173.8 247.3h0M168.5 296.6h0M206.9 241.4h0M152.4 266.4h0M182.9 265.2h0M148.1 285.5h0M238.5 199.1h0M144.7 310.2h0M221.9 247.1h0M192.1 239.5h0M205.4 234.0h0M162.9 291.6h0M238.4 212.3h0M224.4 206.0h0M196.9 250.1h0M207.3 246.2h0M174.9 253.4h0M228.3 236.5h0M171.9 288.1h0M225.8 241.8h0M208.7 239.6h0M145.6 298.5h0M186.9 261.5h0M178.1 256.5h0M239.9 198.1h0M202.8 263.8h0M155.5 255.8h0M142.5 293.0h0M199.1 270.4h0M144.2 280.0h0M187.1 261.9h0M233.3 206.0h0M193.4 252.7h0M145.0 277.7h0M173.7 216.0h0M114.3 254.0h0M149.0 310.9h0M188.6 214.8h0M164.1 266.2h0M239.4 206.5h0M195.5 236.2h0M166.3 282.5h0M199.5 247.4h0M252.3 202.2h0M205.2 281.4h0M139.9 274.0h0M175.8 282.6h0M164.7 281.4h0M120.2 263.7h0M145.3 291.6h0M208.4 238.0h0M247.6 213.9h0M168.9 259.7h0M222.3 219.2h0M227.9 213.8h0M257.9 174.4h0M170.2 251.0h0M171.3 261.1h0M205.8 235.8h0M206.4 263.5h0M200.1 240.9h0M246.5 197.2h0M170.5 264.9h0M194.0 242.8h0M128.3 259.5h0M179.1 257.2h0M177.9 285.0h0M152.3 267.6h0M190.3 270.2h0M169.7 265.2h0M199.8 234.8h0M221.3 216.9h0M237.2 213.9h0M194.8 241.0h0M230.1 232.4h0M146.7 256.8h0M188.3 269.1h0M160.5 276.1h0M236.4 222.3h0M160.3 286.5h0M121.7 307.5h0M194.9 246.0h0M248.0 198.3h0M254.2 212.6h0M224.2 230.9h0M173.0 222.1h0M152.1 267.9h0M245.5 202.9h0M224.2 234.6h0M146.8 267.8h0M140.4 286.7h0M160.2 267.3h0M238.2 208.1h0M248.2 202.5h0M259.2 181.3h0M165.5 280.0h0M170.1 260.7h0M190.9 239.9h0M218.7 218.0h0M144.3 292.4h0M163.1 255.2h0M179.2 249.2h0M174.8 264.4h0M170.0 263.6h0M145.2 310.6h0M257.0 178.0h0M172.6 230.1h0M134.9 291.7h0M227.9 199.3h0M192.3 253.5h0M228.5 229.9h0M181.3 260.5h0M166.3 280.6h0M169.2 281.6h0M206.0 241.5h0M217.5 215.0h0M199.7 223.5h0M215.9 224.3h0M253.4 209.6h0M198.5 239.2h0M240.9 215.3h0M241.6 207.1h0M185.5 227.1h0M203.8 272.3h0M168.8 262.2h0M148.3 287.6h0M135.4 296.2h0M255.8 201.1h0M182.8 249.7h0M166.4 266.1h0M270.4 191.0h0M232.1 209.0h0M198.4 256.5h0M235.9 209.1h0M170.4 249.0h0M215.2 245.4h0M275.4 174.0h0M239.3 207.0h0M153.7 238.9h0M221.8 222.4h0M248.6 204.3h0M173.5 247.0h0M166.8 257.9h0M282.0 174.1h0M186.2 267.5h0M154.5 297.4h0M193.8 243.1h0M298.6 152.4h0M214.4 218.9h0M230.0 204.2h0M112.2 307.0h0M157.0 254.7h0M254.9 203.1h0M165.3 252.8h0M263.6 200.5h0M228.3 240.5h0M213.2 233.9h0M278.9 182.3h0M171.2 262.5h0M171.6 260.8h0M205.0 250.5h0M185.8 224.4h0M124.9 289.3h0M251.0 195.4h0M209.6 244.0h0M165.4 238.2h0M224.6 223.8h0M199.0 280.0h0M255.8 201.2h0M206.3 254.7h0M209.0 201.7h0M150.5 265.7h0M182.0 258.7h0M202.4 225.5h0M173.4 288.8h0M169.6 269.5h0M197.2 257.1h0M247.2 202.2h0M235.4 221.7h0M241.3 214.8h0M206.1 235.1h0M241.3 215.1h0M260.4 177.9h0M200.3 241.6h0M226.4 241.6h0M214.3 218.8h0M121.7 304.0h0M175.9 243.4h0M217.5 235.8h0M237.8 225.0h0M179.5 259.7h0M240.1 208.6h0M178.3 276.7h0M191.9 262.5h0M270.3 175.2h0M154.5 296.3h0M187.5 252.5h0M176.9 248.3h0M176.6 244.4h0M178.8 271.9h0M218.4 218.5h0M144.1 272.2h0M150.1 291.6h0M236.8 249.2h0M143.7 279.1h0M209.7 235.0h0M189.3 247.4h0M175.0 278.0h0M156.7 243.3h0M181.1 250.6h0M198.5 220.0h0M156.4 259.5h0M178.1 254.6h0M147.9 297.2h0M167.6 249.4h0M122.8 303.2h0M184.0 250.4h0M163.9 256.8h0M294.8 166.4h0M248.9 195.0h0M180.4 254.3h0M206.2 243.0h0M162.3 295.1h0M237.3 200.9h0M211.8 239.6h0M120.3 304.6h0M217.3 223.9h0M231.4 212.9h0M157.7 265.8h0M225.4 218.4h0M140.9 309.7h0M160.8 242.6h0M184.9 247.3h0M217.9 212.9h0M206.8 235.7h0M181.8 229.1h0M204.9 221.0h0M164.5 270.6h0M258.9 190.0h0M203.8 287.0h0M212.9 208.1h0M188.9 254.5h0M183.1 263.9h0M217.1 229.3h0M210.8 235.7h0M243.9 188.8h0M227.6 197.3h0M184.4 283.1h0M196.0 218.3h0M188.1 245.1h0M165.0 279.2h0M133.1 268.8h0M207.8 249.3h0M159.8 260.1h0M146.0 296.1h0M181.9 254.5h0M185.3 232.8h0M180.9 239.3h0M138.8 279.7h0M158.7 261.8h0M255.5 196.9h0M167.0 279.7h0M174.7 261.5h0M301.3 157.7h0M200.6 235.7h0M161.9 260.4h0M127.6 311.8h0M204.0 242.1h0M135.0 287.2h0M188.1 256.4h0M172.2 290.1h0M125.2 294.9h0M263.9 181.1h0M195.2 267.4h0M240.2 222.5h0M229.4 228.5h0M165.4 276.8h0M189.9 249.3h0M170.2 260.1h0M225.7 206.6h0M211.8 239.6h0M175.3 264.5h0M268.3 185.0h0M197.9 220.2h0M198.3 225.5h0M170.9 284.8h0M210.7 240.8h0M113.9 274.0h0M202.0 228.7h0M161.1 285.0h0M197.6 248.4h0M173.2 258.5h0M192.0 239.8h0M220.2 253.3h0M187.5 258.6h0M188.1 259.0h0M128.7 288.3h0M130.6 313.0h0M233.1 188.5h0M225.7 240.1h0M141.8 299.1h0M282.1 176.3h0M157.7 269.9h0M216.2 237.2h0M203.5 233.5h0M194.4 252.2h0M209.9 223.6h0M132.1 284.8h0M195.8 264.7h0M180.0 263.3h0M210.6 268.0h0M178.5 263.1h0M160.5 268.2h0M163.4 275.8h0M230.8 218.3h0M162.8 281.8h0M200.9 236.5h0M204.5 240.7h0M154.9 232.8h0M209.3 238.6h0M222.5 240.0h0M161.4 262.8h0M192.3 231.3h0M285.1 179.1h0M161.0 292.8h0M165.2 253.2h0M142.0 259.3h0M279.4 167.6h0M144.1 296.8h0M190.5 257.5h0M225.1 209.7h0M149.8 271.7h0M193.8 268.6h0M141.5 255.7h0M149.2 297.7h0M177.4 250.7h0M205.4 229.4h0M177.3 269.0h0M194.4 247.7h0M227.7 232.7h0M226.2 188.4h0M136.7 281.0h0M212.3 225.4h0M165.1 271.0h0M131.0 312.5h0M164.2 279.1h0M224.6 233.6h0M196.6 237.6h0M144.6 280.0h0M263.6 186.1h0M207.3 238.7h0M168.4 242.9h0M167.9 269.0h0M190.7 223.1h0M194.1 282.9h0M237.7 203.4h0M201.5 241.2h0M221.6 233.2h0M181.2 267.2h0M169.6 322.9h0M202.2 223.9h0M153.4 282.6h0M179.7 254.8h0M181.5 251.1h0M228.5 216.2h0M142.2 296.4h0M251.2 185.2h0M184.0 285.5h0M231.2 212.3h0M242.7 194.6h0M160.4 280.3h0M166.9 278.9h0M224.4 208.5h0M184.4 237.1h0M180.9 242.9h0M109.9 290.8h0M150.2 315.1h0M205.3 225.8h0M256.8 195.0h0M170.4 280.4h0M155.8 276.5h0M180.5 231.9h0M198.3 225.9h0M215.1 232.1h0M156.3 253.2h0M114.8 301.4h0M261.8 197.5h0M175.4 272.8h0M248.8 203.1h0M124.7 312.4h0M211.7 245.3h0M170.4 268.6h0M156.2 289.0h0M212.8 196.0h0M250.0 201.3h0M163.7 267.7h0M213.4 223.7h0M139.4 273.9h0M166.6 272.0h0M188.1 269.7h0M175.2 264.2h0M220.1 230.2h0M129.7 272.9h0M219.2 201.8h0M235.7 216.3h0M171.5 253.8h0M119.8 263.1h0M185.8 257.5h0M146.6 260.1h0M183.7 243.6h0M162.5 292.7h0M193.5 260.4h0M180.2 252.6h0M198.6 264.1h0M195.7 238.7h0M200.7 242.4h0M229.2 210.4h0M153.4 269.6h0M232.2 233.9h0M194.2 247.8h0M179.6 271.8h0M157.2 284.7h0M258.6 195.1h0M200.2 246.3h0M166.6 266.1h0M195.1 255.8h0M172.5 242.0h0M168.2 267.8h0M136.2 287.7h0M209.6 261.6h0M168.8 248.2h0M168.7 254.8h0M239.7 218.3h0M130.3 278.8h0M151.3 277.1h0M189.8 243.8h0M244.7 235.1h0M212.0 225.4h0M224.5 226.5h0M122.0 320.9h0M216.7 239.0h0M208.9 238.8h0M215.4 222.3h0M153.8 264.3h0M205.4 228.1h0M235.9 213.4h0M269.8 192.4h0M193.2 238.9h0M161.8 306.7h0M189.6 252.1h0M208.4 219.3h0M224.4 244.0h0M290.7 184.5h0M200.8 277.6h0M155.4 283.8h0M162.0 268.3h0M217.5 226.0h0M153.5 270.1h0M161.3 290.2h0M164.0 281.1h0M240.7 200.1h0M187.1 273.3h0M228.4 219.3h0M221.6 226.9h0M165.8 290.2h0M219.0 212.6h0M203.4 248.0h0M111.4 303.6h0M140.6 280.2h0M201.3 244.8h0M184.2 267.9h0M154.3 281.6h0M188.7 234.8h0M143.2 318.1h0M210.7 228.1h0M180.5 257.0h0M184.4 253.5h0M164.7 271.1h0M230.2 222.0h0M163.9 282.3h0M227.3 240.3h0M160.4 270.1h0M259.4 194.4h0M216.3 243.4h0M157.6 270.9h0M244.1 210.3h0M177.5 250.6h0M231.1 242.5h0M159.9 264.3h0M154.1 258.4h0M235.4 235.1h0M195.7 251.5h0M161.7 273.3h0M155.1 274.3h0M215.9 222.9h0M277.1 183.2h0M135.9 255.3h0M227.9 230.4h0M140.8 289.7h0M207.1 212.5h0M266.1 187.4h0M173.8 234.7h0M204.1 220.6h0M200.3 241.0h0M238.2 211.4h0M159.3 288.6h0M219.1 225.8h0M177.7 268.4h0M176.4 262.0h0M209.0 270.3h0M173.5 252.1h0M158.6 270.3h0M199.0 276.8h0M158.8 280.4h0M258.5 189.3h0M217.5 218.9h0M180.3 269.4h0M258.1 179.8h0M249.5 197.7h0M218.8 237.6h0M143.2 244.0h0M195.0 236.1h0M220.6 232.1h0M264.0 201.5h0M179.2 255.4h0M157.0 257.6h0M300.2 157.6h0M256.7 195.3h0M201.0 236.7h0M160.7 280.4h0M212.1 231.7h0M256.2 217.3h0M232.0 226.6h0M239.6 227.4h0M180.6 241.5h0M239.4 201.2h0M174.3 274.7h0M172.1 263.6h0M172.3 267.2h0M159.9 264.6h0M280.9 169.4h0M136.6 302.8h0M177.8 223.2h0M151.6 276.5h0M149.9 289.4h0M197.9 252.0h0M130.7 290.8h0M186.1 256.7h0M297.7 155.5h0M185.3 257.2h0M206.5 230.0h0M169.2 284.5h0M211.5 232.4h0M135.1 290.8h0M201.2 248.0h0M159.3 236.1h0M293.8 163.0h0M194.4 264.4h0M189.5 275.7h0M186.6 284.3h0M143.4 282.8h0M217.5 215.0h0M246.1 182.9h0M157.9 249.4h0M217.2 220.0h0M193.0 278.9h0M210.1 239.8h0M219.9 243.4h0M150.6 302.5h0M153.9 268.6h0M228.4 211.0h0M117.9 301.0h0M166.5 235.5h0M180.9 268.2h0M134.9 261.2h0M187.6 250.3h0M189.9 230.7h0M214.4 232.5h0M272.3 186.9h0M175.7 271.4h0M237.2 210.0h0M168.4 245.2h0M168.3 270.9h0M171.9 245.0h0M260.9 186.5h0M179.7 267.7h0M189.7 237.6h0M239.9 205.8h0M229.4 242.2h0M185.5 246.1h0M183.5 262.2h0M150.9 283.9h0M214.1 214.7h0M247.7 214.2h0M291.7 157.3h0M171.0 271.6h0M215.9 224.8h0M183.6 253.6h0M231.9 187.7h0M190.6 263.4h0M160.0 267.8h0M135.3 305.1h0M215.2 218.8h0M185.5 239.9h0M233.0 199.8h0M178.0 277.9h0M309.7 142.2h0M149.5 262.2h0M206.8 228.6h0M204.4 234.8h0M231.9 200.5h0M183.4 261.0h0M155.7 279.3h0M152.8 280.8h0M227.4 221.1h0M175.7 236.2h0M201.2 238.1h0M168.3 284.5h0M199.7 254.1h0M202.9 216.8h0M136.4 293.5h0M156.5 271.8h0M269.6 180.7h0M157.8 251.9h0M160.9 237.2h0M183.8 274.6h0M140.2 298.7h0M157.4 289.9h0M200.3 235.3h0M160.2 269.7h0M289.6 172.8h0M141.3 299.7h0M117.5 304.2h0M165.5 258.5h0M162.0 301.4h0M256.1 198.4h0M176.5 269.9h0M206.8 228.7h0M137.1 291.6h0M215.0 223.5h0M211.5 222.8h0M249.4 205.0h0M187.7 237.7h0M214.0 235.4h0M173.8 230.2h0M235.5 219.6h0M161.7 256.8h0M217.5 236.2h0M166.7 269.9h0M211.5 217.5h0M171.9 258.1h0M168.2 275.8h0M166.3 275.9h0M266.6 200.7h0M141.0 303.4h0M131.9 291.4h0M224.5 234.6h0M155.5 284.4h0M175.0 271.5h0M161.7 261.5h0M303.7 164.6h0M173.0 281.4h0M171.3 282.6h0M168.5 261.5h0M196.7 244.7h0M195.2 220.7h0M128.4 287.6h0M221.3 247.7h0M276.6 168.4h0M132.9 309.1h0M208.4 225.5h0M234.6 231.8h0M189.6 244.8h0M178.4 258.9h0M244.1 203.7h0M163.2 253.1h0M175.7 257.2h0M246.7 203.7h0M175.6 249.4h0M223.1 236.4h0M217.0 220.8h0M215.2 228.5h0M282.9 166.5h0M198.6 241.5h0M243.9 218.7h0M211.4 211.4h0M128.6 288.0h0M162.3 277.0h0M285.8 165.1h0M185.9 269.5h0M189.1 260.7h0M154.5 301.0h0M173.8 263.0h0M141.7 289.7h0M160.2 266.2h0M210.2 228.5h0M133.4 255.5h0M152.1 259.5h0M241.7 189.6h0M210.0 235.4h0M229.7 248.5h0M238.2 215.5h0M149.8 253.9h0M171.9 264.0h0M129.2 320.8h0M225.0 226.1h0M172.9 254.5h0M168.4 239.3h0M161.8 294.6h0M212.4 224.9h0M212.4 224.3h0M190.2 242.6h0M133.9 298.5h0M170.1 287.8h0M188.5 258.3h0M160.5 279.3h0M190.2 225.3h0M238.9 215.1h0M175.2 287.3h0M175.4 255.2h0M154.4 265.4h0M236.5 210.9h0M228.5 215.3h0M317.3 143.3h0M196.3 262.5h0M152.1 277.4h0M200.7 232.4h0M179.1 261.3h0M203.1 252.9h0M235.2 191.9h0M182.1 266.8h0M228.8 230.2h0M239.5 211.1h0M174.3 232.6h0M190.6 271.5h0M248.8 188.8h0M156.6 257.1h0M253.1 205.0h0M164.1 263.5h0M177.2 242.3h0M199.1 235.1h0M284.3 167.9h0M182.9 229.9h0M184.7 232.4h0M179.9 252.2h0M165.6 253.0h0M172.9 276.3h0M274.4 177.2h0M257.5 191.1h0M161.2 270.7h0M191.5 244.4h0M146.0 285.1h0M237.8 218.5h0M223.8 227.8h0M202.8 258.0h0M165.7 281.2h0M228.9 225.5h0M223.2 233.1h0M178.6 257.0h0M214.8 215.6h0M145.9 294.2h0M177.0 279.1h0M160.3 284.6h0M205.3 260.0h0M263.2 179.1h0M201.1 261.9h0M179.8 249.8h0M158.4 252.4h0M241.9 216.0h0M215.9 233.2h0M258.0 195.7h0M224.1 204.0h0M149.9 268.1h0M188.5 243.9h0M145.2 284.5h0M138.8 292.1h0M131.9 290.1h0M186.0 289.7h0M178.8 258.7h0M190.1 256.6h0M285.1 166.8h0M142.1 283.9h0M177.7 247.2h0M140.1 284.1h0M153.0 281.2h0M184.6 246.8h0M215.4 243.8h0M144.6 290.3h0M243.5 206.9h0M151.8 276.6h0M228.0 209.3h0M180.6 252.2h0M230.8 216.1h0M206.0 223.3h0M162.2 249.5h0M214.4 238.1h0M157.6 304.9h0M139.7 287.0h0M176.9 266.1h0M257.2 199.7h0M148.9 263.9h0M142.2 249.8h0M263.5 180.5h0M205.0 266.7h0M174.2 243.7h0M162.0 292.2h0M179.7 243.4h0M212.6 226.9h0M196.4 266.2h0M215.3 214.8h0M199.6 238.0h0M228.6 202.3h0M229.2 221.6h0M191.2 266.0h0M270.4 174.7h0M202.0 242.2h0M142.2 284.8h0M219.1 266.5h0M191.5 270.0h0M313.8 146.0h0M222.3 221.8h0M152.5 287.4h0M178.7 258.5h0M258.9 194.1h0M181.6 315.7h0M186.1 282.0h0M172.7 242.8h0M176.9 254.9h0M169.5 273.5h0M197.4 253.5h0M118.9 275.9h0M167.2 270.9h0M158.2 264.4h0M172.9 260.4h0M175.8 262.8h0M175.4 245.9h0M154.6 247.4h0M160.0 256.1h0M209.1 245.0h0M217.8 207.3h0M137.4 277.9h0M197.7 245.0h0M216.0 218.8h0M181.6 266.4h0M208.8 236.2h0M176.5 259.4h0M201.1 237.2h0M116.7 281.0h0M205.2 233.7h0M178.7 276.2h0M155.8 270.7h0M176.4 263.9h0M234.8 215.1h0M226.4 211.5h0M200.0 247.3h0M215.2 208.6h0M183.7 276.4h0M147.2 291.9h0M125.2 307.9h0M175.1 247.9h0M172.6 252.2h0M186.5 253.7h0M198.4 261.3h0M254.9 213.2h0M151.6 277.6h0M166.2 282.0h0M278.4 174.7h0M209.2 211.7h0M176.7 264.6h0M143.6 266.9h0M176.2 267.5h0M187.4 261.7h0M207.1 258.9h0M186.6 269.1h0M228.0 196.4h0M148.2 290.0h0M178.8 265.7h0M165.7 276.6h0M222.3 223.1h0M183.2 239.7h0M223.7 223.1h0M194.2 257.6h0M215.8 222.1h0M179.0 292.3h0M186.5 256.9h0M170.7 265.4h0M211.4 215.1h0M237.7 219.8h0M196.5 233.7h0M202.4 280.2h0M171.8 281.0h0M258.7 184.2h0M236.9 206.2h0M189.4 253.5h0M152.4 273.6h0M174.0 266.2h0M261.8 178.7h0M145.0 283.5h0M149.1 281.8h0M302.7 149.7h0M172.0 269.7h0M172.7 256.7h0M239.9 205.4h0M169.4 269.1h0M197.8 262.1h0M190.7 238.2h0M126.6 294.0h0M170.0 287.5h0M176.8 253.6h0M227.6 213.6h0M156.3 264.7h0M203.8 230.7h0M161.2 261.6h0M177.5 269.0h0M247.5 199.9h0M188.5 269.5h0M330.3 129.3h0M209.3 244.0h0M241.4 207.1h0M199.7 203.5h0M140.9 302.6h0M135.5 297.1h0M129.0 267.1h0M171.2 272.1h0M170.8 259.9h0M156.7 280.4h0M246.2 206.5h0M219.8 217.7h0M196.3 248.4h0M223.3 239.1h0M154.0 277.5h0M231.5 219.8h0M159.8 279.4h0M260.3 186.8h0M165.8 274.3h0M174.4 275.4h0M229.8 193.9h0M217.9 227.0h0M150.1 276.8h0M214.9 228.3h0M172.5 242.6h0M189.3 255.5h0M221.8 232.8h0M201.7 215.6h0M233.0 208.7h0M203.6 228.6h0M191.9 231.6h0M175.7 250.8h0M243.5 177.5h0M160.0 275.3h0M279.9 173.9h0M290.9 160.5h0M299.5 169.1h0M203.0 276.4h0M292.4 168.3h0M228.4 193.5h0M241.9 211.5h0M189.9 240.2h0M215.4 230.6h0M141.8 286.1h0M117.9 319.7h0M198.4 239.8h0M201.3 230.4h0M232.7 234.1h0M200.7 240.3h0M201.3 234.9h0M248.3 212.5h0M265.3 189.2h0M157.0 281.9h0M147.2 270.3h0M171.1 279.8h0M168.5 274.6h0M144.7 309.2h0M160.8 270.6h0M263.0 186.7h0M152.4 284.5h0M129.2 310.1h0M178.6 263.2h0M184.0 280.9h0M208.4 216.2h0M159.3 272.9h0M176.5 256.2h0M168.9 286.7h0M139.9 269.2h0M186.1 223.2h0M185.3 243.4h0M180.9 252.9h0M199.7 222.6h0M161.6 279.8h0M176.6 244.7h0M189.0 239.8h0M237.8 199.5h0M121.6 305.2h0M163.1 254.5h0M204.0 232.2h0M175.9 278.2h0M188.5 249.1h0M216.4 223.0h0M208.8 233.9h0M125.6 299.4h0M138.3 281.2h0M209.3 219.7h0M191.6 241.7h0M255.7 201.2h0M191.8 255.3h0M160.9 297.3h0M236.8 208.0h0M144.6 293.1h0M201.2 267.8h0M225.1 222.8h0M227.1 213.3h0M162.4 258.0h0M173.1 284.7h0M183.1 254.9h0M163.2 267.4h0M244.4 224.7h0M196.7 231.9h0M249.2 191.4h0M317.8 147.8h0M160.9 281.6h0M172.2 276.5h0M193.0 220.2h0M211.1 242.3h0M175.2 264.6h0M311.9 148.2h0M191.3 252.0h0M163.4 300.9h0M260.5 200.3h0M193.7 233.3h0M171.6 241.9h0M158.0 289.0h0M191.4 265.0h0M157.4 251.8h0M314.2 138.6h0M203.8 232.8h0M177.4 266.5h0M147.3 275.8h0M161.1 267.3h0M311.0 157.1h0M200.0 233.4h0M135.6 286.6h0M231.5 218.6h0M192.7 218.4h0M206.5 227.8h0M181.7 258.4h0M187.8 265.8h0M196.2 245.5h0M182.5 263.5h0M109.5 268.5h0M153.5 283.4h0M184.0 252.5h0M133.9 300.4h0M177.8 255.3h0M177.5 265.4h0M226.7 227.9h0M209.7 261.8h0M175.6 262.7h0M179.9 266.3h0M215.8 244.2h0M230.5 213.8h0M145.6 280.7h0M137.0 299.3h0M154.3 269.7h0M146.8 265.5h0M228.7 221.2h0M235.2 214.2h0M247.0 177.1h0M192.3 254.9h0M192.3 247.3h0M160.0 265.9h0M159.5 261.5h0M205.9 247.8h0M237.0 221.7h0M205.3 235.4h0M207.0 231.2h0M182.3 251.5h0M166.0 271.2h0M182.3 240.2h0M228.3 215.5h0M197.6 253.4h0M155.9 270.1h0M162.0 270.2h0M203.2 231.0h0M246.8 201.0h0M148.6 271.7h0M212.6 231.9h0M152.7 274.5h0M168.3 255.0h0M163.9 279.1h0M272.6 180.8h0M127.2 282.5h0M209.9 232.6h0M185.7 252.5h0M269.3 180.4h0M155.3 261.0h0M173.5 259.3h0M201.9 251.1h0M171.2 293.9h0M155.3 272.7h0M157.8 233.1h0M188.8 307.5h0M208.5 267.0h0M259.4 211.6h0M161.5 291.6h0M140.8 306.0h0M162.3 242.4h0M204.4 237.7h0M217.9 226.6h0M145.0 282.0h0M226.7 216.5h0M213.4 219.2h0M265.3 196.0h0M141.3 271.5h0M208.6 227.8h0M220.9 200.6h0M129.5 310.7h0M238.6 211.8h0M245.7 186.3h0M216.1 232.8h0M214.0 234.5h0M219.8 222.3h0M176.0 261.5h0M117.1 277.2h0M181.5 261.6h0M163.5 284.0h0M237.2 213.4h0M180.4 273.7h0M187.1 262.8h0M125.4 303.1h0M217.7 249.9h0M153.0 266.7h0M264.8 196.4h0M205.1 245.2h0M154.8 251.5h0M164.2 257.1h0M271.2 185.6h0M231.6 214.4h0M155.5 277.2h0M258.8 201.0h0M161.2 270.8h0M236.1 232.0h0M127.3 302.7h0M182.3 270.5h0M183.7 269.9h0M176.8 266.1h0M132.3 298.8h0M127.2 311.5h0M171.0 243.5h0M215.6 230.4h0M177.5 245.9h0M166.6 257.9h0M135.5 296.7h0M169.2 256.1h0M165.8 269.3h0M151.9 266.4h0M184.9 240.0h0M198.2 251.9h0M197.9 232.3h0M181.6 266.0h0M156.3 276.6h0M181.5 262.6h0M203.6 288.1h0M130.6 300.0h0M171.9 262.9h0M135.6 305.4h0M117.1 307.0h0M189.4 304.7h0M172.2 279.8h0M219.2 226.1h0M172.5 261.3h0M217.2 238.5h0M258.8 197.4h0M194.5 253.5h0M200.4 236.6h0M166.6 277.7h0M223.2 219.1h0M172.1 239.4h0M171.9 238.6h0M146.0 284.5h0M145.3 273.1h0M164.6 275.0h0M178.4 241.0h0M246.9 217.0h0M144.8 305.2h0M153.4 248.0h0M176.3 264.7h0M303.9 166.2h0M186.7 267.5h0M165.3 268.0h0M236.8 237.5h0M155.1 291.4h0M209.5 231.2h0M121.2 294.0h0M278.4 165.8h0M184.4 257.0h0M178.2 273.1h0M163.6 310.3h0M168.5 249.2h0M198.8 260.7h0M170.6 283.6h0M253.0 214.0h0M159.6 251.5h0M206.4 266.3h0M212.0 255.0h0M260.9 206.5h0M173.9 266.8h0M179.8 245.1h0M197.7 241.7h0M191.1 209.0h0M119.4 301.2h0M236.5 202.9h0M182.8 259.6h0M153.1 267.7h0M178.5 250.6h0M121.2 307.4h0M165.1 280.5h0M248.0 194.8h0M176.8 252.0h0M204.6 238.4h0M178.0 264.8h0M224.2 216.1h0M170.2 263.9h0M202.0 230.6h0M159.5 286.6h0M152.4 281.9h0M154.9 264.5h0M249.2 212.3h0M182.6 263.4h0M161.2 275.0h0M214.9 235.4h0M203.2 228.9h0M166.2 267.6h0M280.4 174.7h0M225.0 214.9h0M239.0 221.1h0M185.5 248.9h0M202.8 258.2h0M233.9 213.8h0M147.6 299.5h0M167.5 283.7h0M195.9 255.5h0M142.1 298.7h0M264.5 183.5h0M179.2 283.5h0M174.3 268.2h0M229.3 264.3h0M260.0 190.9h0M191.3 261.1h0M161.4 276.1h0M155.6 280.4h0M210.1 255.4h0M185.9 286.7h0M308.1 159.5h0M243.2 197.5h0M159.9 283.9h0M216.0 250.3h0M296.2 154.3h0M128.9 318.3h0M186.7 279.6h0M242.4 201.3h0M173.9 282.7h0M186.9 248.9h0M159.0 258.9h0M216.4 223.8h0M142.8 278.6h0M196.0 260.9h0M154.2 308.5h0M230.2 210.0h0M218.0 230.8h0M188.3 258.2h0M182.7 248.2h0M179.2 246.0h0M180.3 270.0h0M195.0 248.7h0M208.1 242.3h0M177.3 250.5h0M168.3 272.3h0M162.9 257.1h0M164.8 261.6h0M217.0 242.6h0M190.1 244.7h0M281.3 170.2h0M174.4 253.9h0M190.8 252.0h0M148.7 257.3h0M204.9 262.0h0M172.1 267.1h0M150.0 271.3h0M182.8 237.8h0M254.7 179.4h0M168.3 287.5h0M175.4 281.6h0M176.6 248.3h0M179.6 227.4h0M246.6 197.0h0M167.4 274.5h0M180.9 257.7h0M162.2 278.5h0M145.6 268.8h0M165.4 263.3h0M153.9 289.6h0M209.0 237.2h0M241.3 214.3h0M164.1 265.0h0M162.3 274.1h0M245.2 195.2h0M180.4 262.5h0M259.3 194.0h0M172.1 252.7h0M144.4 276.8h0M153.8 257.7h0M227.1 223.7h0M215.5 190.6h0M177.0 257.6h0M233.5 218.5h0M129.3 269.6h0M206.8 251.4h0M168.6 249.3h0M126.7 300.0h0M225.4 214.4h0M162.5 273.2h0M210.1 240.7h0M152.0 269.3h0M206.0 258.8h0M214.6 229.3h0M176.6 247.6h0M165.7 264.8h0M216.0 231.1h0M201.0 251.2h0M174.8 269.4h0M188.0 254.1h0M177.9 253.0h0M176.0 265.8h0M228.0 216.2h0M271.4 183.1h0M172.3 272.1h0M180.3 256.9h0M147.8 274.9h0M152.6 301.0h0M234.8 202.2h0M165.3 274.9h0M198.4 237.7h0M132.7 285.1h0M154.0 263.4h0M214.9 240.6h0M188.3 217.5h0M196.1 244.5h0M188.2 223.1h0M194.1 244.3h0M233.4 212.0h0M266.3 181.8h0M211.0 229.6h0M181.2 257.2h0M150.8 282.4h0M160.7 260.6h0M178.7 267.0h0M246.7 186.7h0M128.7 292.6h0M164.2 281.0h0M148.7 280.9h0M243.9 232.7h0M165.4 276.5h0M119.3 300.8h0M108.3 303.7h0M195.3 238.2h0M123.0 292.8h0M237.5 208.1h0M243.1 216.2h0M154.5 292.2h0M184.0 273.2h0M194.6 262.2h0M149.4 308.3h0M157.0 300.5h0M174.4 281.8h0M184.4 257.1h0M190.1 238.0h0M129.0 312.7h0M190.0 241.0h0M179.9 257.8h0M169.7 257.5h0M159.4 259.6h0M238.9 217.0h0M270.6 199.5h0M172.9 271.1h0M174.1 256.1h0M123.7 292.2h0M177.0 271.6h0M222.8 232.0h0M184.5 261.2h0M202.6 242.3h0M172.4 251.1h0M167.3 233.3h0M220.9 231.5h0M219.6 221.9h0M182.5 265.0h0M178.4 248.2h0M152.2 256.9h0M157.9 264.4h0M262.4 190.3h0M198.6 236.3h0M244.7 210.8h0M208.8 222.2h0M271.9 187.3h0M163.9 249.4h0M172.6 257.3h0M181.5 255.8h0M305.2 151.3h0M175.7 270.0h0M174.2 242.1h0M264.6 206.5h0M240.6 223.8h0M166.4 265.3h0M267.0 177.3h0M204.9 230.1h0M252.3 189.6h0M213.0 226.5h0M221.8 219.6h0M167.4 279.8h0M255.5 194.7h0M164.1 228.8h0M241.7 210.7h0M171.4 260.6h0M184.9 243.2h0M183.9 251.7h0M194.0 247.9h0M234.8 246.6h0M134.8 294.2h0M163.5 264.2h0M288.1 168.3h0M131.1 316.5h0M167.4 273.9h0M225.8 221.3h0M129.7 308.9h0M174.2 292.4h0M155.6 273.1h0M264.4 189.8h0M153.5 274.9h0M223.6 233.4h0M172.1 277.5h0M188.3 255.3h0M135.6 274.3h0M145.0 301.4h0M175.7 271.6h0M129.1 282.4h0M165.3 246.2h0M194.9 251.9h0M218.2 247.5h0M249.7 180.5h0M259.3 198.0h0M152.6 287.4h0M156.6 270.9h0M272.8 186.8h0M178.0 250.4h0M160.5 253.9h0M241.5 211.9h0M158.0 265.1h0M231.0 214.5h0M168.8 256.3h0M249.5 200.0h0M195.3 270.5h0M222.6 216.8h0M232.1 204.9h0M269.5 190.2h0M162.4 278.6h0M158.0 251.6h0M140.4 294.5h0M127.8 300.8h0M181.4 278.2h0M198.6 251.7h0M245.2 199.7h0M184.3 276.1h0M289.5 182.6h0M184.1 237.3h0M235.3 222.6h0M158.7 245.0h0M152.6 296.0h0M262.4 186.8h0M187.2 271.6h0M232.0 200.4h0M164.0 256.1h0M213.2 228.5h0M197.4 273.2h0M171.3 261.1h0M186.5 263.2h0M230.2 235.2h0M140.9 283.4h0M158.1 285.0h0M239.6 218.0h0M153.7 267.9h0M190.2 242.9h0M119.4 272.9h0M179.1 260.8h0M229.2 199.6h0M180.2 242.8h0M177.9 269.9h0M185.4 246.3h0M123.2 300.8h0M148.8 314.7h0M189.5 223.9h0M130.6 306.5h0M240.9 192.8h0M230.7 222.7h0M141.3 284.2h0M185.4 260.1h0M245.0 193.3h0M202.8 230.8h0M250.9 180.7h0M222.6 213.8h0M146.3 274.4h0M178.0 259.0h0M168.1 287.6h0M181.8 269.7h0M170.5 271.3h0M174.4 258.7h0M246.3 194.1h0M172.1 274.7h0M138.4 281.9h0M152.2 262.1h0M164.3 263.9h0M152.6 259.6h0M167.6 249.3h0M160.1 257.5h0M241.0 210.0h0M235.5 222.1h0M164.7 280.0h0M226.8 208.3h0M256.7 199.0h0M175.6 246.1h0M167.3 286.5h0M214.0 243.1h0M200.2 271.8h0M205.4 243.8h0M139.7 274.7h0M285.6 164.6h0M164.5 247.4h0M201.3 223.6h0M150.1 257.2h0M187.3 242.9h0M134.4 283.1h0M235.9 214.3h0M134.9 288.2h0M135.2 297.9h0M237.3 203.3h0M162.5 261.3h0M177.3 255.8h0M230.4 201.5h0M205.7 229.2h0M207.6 245.7h0M205.4 214.9h0M134.6 318.7h0M246.9 196.8h0M274.7 173.7h0M161.2 279.7h0M165.1 266.8h0M268.4 180.0h0M208.7 224.5h0M276.6 181.2h0M142.5 251.4h0M134.7 281.6h0M164.4 266.3h0M256.5 195.1h0M158.7 277.1h0M130.4 304.8h0M187.2 229.3h0M254.8 195.8h0M301.5 146.4h0M248.6 200.5h0M241.9 218.4h0M124.1 299.6h0M178.3 267.2h0M169.0 259.2h0M199.0 251.7h0M155.9 279.0h0M232.6 225.4h0M246.6 198.7h0M193.9 249.7h0M187.4 270.5h0M187.4 237.5h0M202.1 234.2h0M219.5 214.4h0M152.8 272.9h0M255.3 190.4h0M193.4 256.1h0M161.9 242.2h0M214.8 219.3h0M167.5 276.6h0M226.4 213.7h0M292.4 163.6h0M205.1 232.6h0M219.2 264.3h0M188.0 282.0h0M256.5 187.9h0M242.0 205.9h0M127.6 288.3h0M236.1 214.4h0M161.2 269.9h0M156.0 294.2h0M178.2 251.4h0M164.3 272.6h0M244.9 206.9h0M146.5 291.1h0M141.3 288.2h0M162.5 287.3h0M177.1 254.5h0M215.4 230.0h0M153.0 287.1h0M160.6 273.3h0M128.7 293.2h0M160.5 243.6h0M172.2 300.1h0M287.6 159.3h0M277.9 171.6h0M163.2 287.3h0M188.1 245.0h0M207.1 237.7h0M145.2 250.1h0M190.2 280.3h0M219.2 229.7h0M176.8 262.1h0M159.6 248.9h0M193.5 263.0h0M243.3 200.4h0M192.8 275.3h0M206.1 239.8h0M190.1 238.5h0M220.8 224.9h0M175.7 256.8h0M163.5 263.0h0M156.1 267.6h0M215.5 260.5h0M194.8 250.9h0M180.1 264.1h0M195.5 244.5h0M302.1 155.9h0M230.5 227.0h0M126.3 306.2h0M247.7 198.5h0M210.4 263.9h0M164.6 293.3h0M250.4 197.2h0M182.3 255.9h0M231.1 208.1h0M173.4 278.2h0M236.6 209.5h0M162.1 249.8h0M223.4 206.5h0M225.7 220.1h0M145.4 284.3h0M214.6 248.6h0M206.5 232.9h0M177.8 250.9h0M201.8 244.9h0M181.0 268.3h0M240.4 201.1h0M172.0 302.4h0M238.4 217.3h0M179.4 237.7h0M314.1 151.2h0M147.7 278.2h0M236.5 218.0h0M156.9 259.7h0M156.1 282.2h0M227.1 199.7h0M216.6 230.6h0M236.9 210.5h0M159.2 322.0h0M144.1 285.8h0M216.2 231.4h0M185.9 302.2h0M264.7 211.5h0M269.2 186.0h0M207.3 280.0h0M211.7 273.9h0M193.1 258.2h0M178.6 264.2h0M189.4 259.2h0M174.2 257.1h0M191.9 223.2h0M170.5 259.5h0M164.0 264.5h0M177.1 263.4h0M145.9 254.0h0M192.0 263.9h0M198.8 219.8h0M279.3 161.5h0M126.5 294.3h0M137.6 289.8h0M163.0 238.2h0M188.9 254.0h0M179.2 250.8h0M281.7 179.1h0M126.0 304.9h0M169.7 248.8h0M139.2 285.2h0M179.3 265.4h0M214.7 235.6h0M126.9 284.2h0M237.5 212.4h0M182.4 298.6h0M149.4 281.5h0M123.5 292.7h0M161.3 272.2h0M165.3 278.0h0M228.0 220.6h0M137.7 300.2h0M194.6 243.7h0M219.5 212.3h0M175.5 259.2h0M211.0 211.0h0M158.0 268.9h0M208.7 238.9h0M188.4 275.0h0M288.3 160.6h0M184.2 268.6h0M171.6 258.5h0M208.0 239.2h0M169.4 269.6h0M176.0 256.5h0M192.4 231.2h0M227.3 216.1h0M172.1 275.7h0M188.1 250.9h0M173.3 252.9h0M207.3 213.8h0M223.2 217.1h0M216.3 246.3h0M184.5 230.4h0M275.7 180.6h0M157.7 278.7h0M258.6 178.9h0M214.4 233.3h0M131.1 292.9h0M204.9 259.5h0M153.4 305.5h0M178.5 254.5h0M129.8 319.6h0M221.6 223.4h0M164.4 279.8h0M257.9 177.0h0M149.2 263.0h0M111.1 265.7h0M176.8 253.3h0M184.2 248.7h0M226.3 246.1h0M306.1 149.4h0M270.7 188.2h0M223.5 220.1h0M156.9 247.1h0M196.7 279.0h0M165.8 253.5h0M162.3 281.1h0M233.7 237.8h0M177.2 248.9h0M218.4 236.3h0M182.3 263.9h0M210.4 242.1h0M274.0 180.1h0M208.1 241.5h0M241.4 221.6h0M173.5 289.3h0M190.7 264.6h0M211.8 165.5h0M141.8 170.7h0M147.2 178.7h0M128.7 189.2h0M170.9 188.5h0M198.1 185.8h0M122.9 205.6h0M132.8 207.7h0M164.3 202.4h0M167.7 203.5h0M190.2 203.8h0M140.5 214.9h0M158.5 214.9h0M173.0 215.1h0M140.0 226.2h0M158.2 228.6h0M111.5 234.1h0M124.2 237.3h0M100.9 262.3h0M101.7 273.0h0M110.1 259.7h0M115.4 253.1h0M83.8 304.6h0M90.3 298.0h0M103.6 317.8h0M110.1 320.4h0M180.9 326.6h0M190.7 324.9h0M196.0 324.9h0M220.3 330.2h0M234.8 309.9h0M240.9 320.4h0M251.4 273.7h0M257.5 260.5h0M277.0 239.9h0M282.6 228.6h0M240.4 302.0h0M217.9 290.1h0M207.8 295.4h0M197.3 284.8h0M261.2 165.5h0M250.1 172.6h0" stroke="#000" stroke-width="3.9" stroke-linecap="round" fill="none"/><path d="M521.5 296.3h0M509.8 277.6h0M511.6 318.4h0M478.3 311.7h0M547.9 299.5h0M537.1 309.5h0M513.0 312.3h0M531.1 303.1h0M523.0 283.8h0M509.3 299.2h0M534.4 297.4h0M513.3 287.7h0M513.0 292.1h0M505.4 300.6h0M525.8 287.5h0M516.7 305.6h0M527.3 283.9h0M508.4 290.8h0M520.4 299.3h0M503.7 314.0h0M532.2 271.0h0M521.4 292.4h0M523.8 253.1h0M525.1 301.2h0M501.8 287.4h0M531.2 296.8h0M552.1 282.6h0M491.5 290.2h0M490.0 312.0h0M493.7 301.9h0M532.2 288.8h0M520.5 292.4h0M536.1 282.1h0M530.2 278.0h0M521.8 282.6h0M523.0 289.8h0M515.6 299.6h0M532.6 305.6h0M499.8 308.7h0M511.4 303.0h0M522.3 284.4h0M547.9 291.7h0M505.8 313.8h0M500.7 290.6h0M509.1 307.2h0M534.3 300.4h0M514.5 298.3h0M540.1 282.7h0M536.9 304.4h0M535.3 287.8h0M495.1 305.0h0M520.9 305.1h0M538.3 296.5h0M519.8 275.9h0M534.8 296.2h0M557.3 275.3h0M522.9 282.9h0M513.8 301.4h0M505.7 291.7h0M529.0 297.6h0M515.1 303.2h0M515.4 309.9h0M516.6 283.4h0M529.0 296.9h0M500.9 306.0h0M493.3 315.4h0M538.0 279.7h0M519.6 295.8h0M543.1 297.3h0M518.2 314.5h0M506.2 293.6h0M526.2 288.6h0M517.1 313.1h0M497.8 284.3h0M503.8 287.9h0M547.4 299.7h0M524.2 300.2h0M525.2 298.3h0M513.8 293.4h0M507.0 299.1h0M533.0 312.2h0M516.6 275.5h0M505.9 293.4h0M516.2 278.4h0M503.5 281.7h0M521.5 296.3h0M536.9 285.3h0M504.6 288.2h0M541.8 278.4h0M507.4 299.3h0M520.9 301.8h0M504.6 297.4h0M514.7 305.8h0M519.1 301.5h0M511.2 322.8h0M506.8 296.2h0M507.2 310.6h0M504.9 305.0h0M492.6 301.5h0M514.0 291.4h0M524.9 268.0h0M533.3 288.0h0M529.0 310.2h0M558.7 282.5h0M523.6 300.9h0M510.9 291.0h0M549.1 295.6h0M501.2 308.0h0M534.3 297.1h0M502.7 306.5h0M524.2 316.8h0M486.1 311.2h0M533.1 290.9h0M515.8 279.3h0M502.5 302.2h0M545.9 292.3h0M530.9 283.6h0M519.1 287.1h0M506.1 276.5h0M517.6 286.9h0M515.7 295.3h0M530.3 273.9h0M531.5 271.1h0M507.4 303.4h0M509.3 294.6h0M509.6 318.6h0M496.2 304.7h0M508.7 308.4h0M516.8 297.6h0M529.7 297.8h0M540.0 291.1h0M505.1 299.1h0M527.4 285.6h0M511.1 293.2h0M552.4 293.2h0M517.6 311.5h0M526.6 276.1h0M503.0 279.7h0M505.1 303.7h0M521.7 286.2h0M512.1 315.9h0M524.2 313.4h0M492.7 304.3h0M529.2 272.4h0M503.6 311.8h0M546.6 298.2h0M513.6 274.5h0M536.4 314.7h0M495.5 291.7h0M525.4 286.2h0M503.8 300.7h0M510.4 293.9h0M518.8 259.9h0M513.2 310.4h0M522.7 297.4h0M530.6 294.4h0M529.1 300.7h0M516.9 312.3h0M496.0 279.1h0M505.2 294.8h0M515.1 318.2h0M530.7 286.0h0M514.4 290.1h0M514.2 314.3h0M533.9 291.7h0M529.3 288.2h0M522.0 288.3h0M501.9 293.3h0M523.5 317.0h0M524.0 268.8h0M503.8 295.3h0M535.5 266.4h0M526.7 254.8h0M486.0 304.6h0M520.4 310.0h0M497.6 288.3h0M537.0 292.1h0M531.6 297.0h0M500.2 312.5h0M503.8 275.9h0M520.0 299.8h0M514.4 313.7h0M543.4 294.0h0M530.5 306.5h0M513.7 293.5h0M527.8 297.5h0M485.0 316.6h0M523.4 285.2h0M532.6 299.2h0M515.4 285.6h0M506.7 280.8h0M527.6 296.8h0M550.5 294.8h0M521.7 290.9h0M500.0 287.3h0M542.1 288.5h0M487.5 300.3h0M526.6 292.7h0M508.8 292.7h0M533.6 282.3h0M504.4 307.1h0M540.1 295.2h0M523.3 292.6h0M490.0 310.2h0M486.0 300.7h0M513.2 288.7h0M539.6 289.3h0M520.4 301.8h0M519.5 304.3h0M514.5 272.4h0M530.5 279.8h0M524.6 307.5h0M523.0 304.2h0M502.2 273.9h0M537.9 269.7h0M540.7 287.1h0M497.0 284.6h0M556.1 304.4h0M530.2 291.4h0M510.4 286.7h0M529.1 301.9h0M527.5 281.8h0M508.6 282.0h0M489.0 309.5h0M536.8 286.0h0M508.7 275.8h0M510.6 301.3h0M565.1 300.1h0M553.3 286.4h0M534.0 295.6h0M510.9 279.2h0M529.0 289.6h0M520.1 262.5h0M505.9 304.1h0M497.3 293.5h0M492.4 292.0h0M527.0 281.9h0M519.8 291.7h0M521.0 286.0h0M532.2 291.8h0M504.5 316.4h0M498.1 302.3h0M489.2 304.3h0M512.9 298.1h0M530.8 289.5h0M515.9 303.2h0M528.9 274.4h0M499.0 278.7h0M505.8 297.4h0M497.9 308.8h0M548.9 320.9h0M532.3 285.5h0M505.9 305.6h0M505.8 302.5h0M517.4 303.1h0M494.7 286.1h0M525.5 276.4h0M497.1 296.1h0M512.3 286.8h0M501.5 300.1h0M510.5 294.5h0M496.5 309.6h0M492.5 300.4h0M502.5 307.7h0M507.2 292.3h0M513.5 284.8h0M519.5 290.0h0M543.4 272.6h0M531.7 255.8h0M514.2 323.0h0M530.3 291.2h0M507.1 304.7h0M542.1 294.4h0M527.4 309.9h0M496.1 299.3h0M530.8 294.7h0M531.8 299.3h0M506.1 305.2h0M510.6 327.0h0M486.7 288.2h0M500.8 302.7h0M502.8 310.7h0M526.7 288.3h0M523.3 301.8h0M561.5 312.0h0M511.9 284.4h0M537.3 311.6h0M519.7 296.9h0M522.8 291.7h0M499.3 281.5h0M487.0 286.7h0M505.8 295.4h0M530.9 301.2h0M544.3 293.3h0M528.3 277.6h0M526.5 268.9h0M504.6 290.7h0M543.5 296.5h0M540.4 275.4h0M509.6 301.5h0M517.6 299.9h0M502.0 302.1h0M542.4 280.6h0M525.0 289.1h0M516.8 281.8h0M525.0 275.7h0M525.6 285.8h0M511.6 326.6h0M498.0 321.7h0M497.3 297.6h0M489.8 302.4h0M525.9 264.2h0M554.8 285.6h0M490.5 303.4h0M520.6 281.4h0M525.1 278.7h0M502.2 301.5h0M521.7 287.3h0M500.4 313.7h0M538.1 301.8h0M508.6 280.7h0M520.0 312.4h0M529.6 279.5h0M511.3 287.3h0M489.0 291.7h0M509.6 284.6h0M530.9 283.9h0M517.0 322.8h0M522.1 306.6h0M500.6 306.7h0M520.7 281.8h0M530.3 306.2h0M519.0 303.5h0M549.7 291.3h0M514.9 278.0h0M501.3 317.5h0M491.8 318.8h0M537.3 281.4h0M517.4 322.5h0M535.0 285.9h0M525.9 298.4h0M545.0 308.3h0M539.1 294.7h0M512.2 309.1h0M522.9 291.1h0M536.2 285.1h0M498.1 280.0h0M542.2 288.6h0M538.3 288.1h0M534.5 297.9h0M515.1 295.5h0M523.3 279.4h0M500.0 324.2h0M519.3 285.5h0M508.7 303.8h0M519.8 293.1h0M510.2 292.2h0M523.0 282.1h0M537.7 286.4h0M496.9 304.9h0M533.5 286.5h0M485.7 302.4h0M482.9 306.0h0M516.4 292.2h0M518.5 282.9h0M525.6 290.7h0M491.3 299.1h0M517.4 311.5h0M520.4 295.5h0M539.0 313.5h0M516.7 285.4h0M527.0 304.5h0M502.3 281.4h0M515.3 256.0h0M511.0 301.4h0M529.9 274.1h0M502.1 293.2h0M504.7 305.1h0M527.8 303.0h0M547.7 279.7h0M524.6 274.5h0M523.3 288.5h0M512.7 315.6h0M536.2 303.5h0M527.2 295.1h0M546.8 269.5h0M523.8 289.3h0M502.8 294.0h0M509.0 280.9h0M502.2 301.1h0M497.8 300.7h0M539.1 291.6h0M531.6 314.3h0M498.0 293.4h0M547.6 281.7h0M522.4 280.6h0M502.7 313.9h0M524.7 303.5h0M517.2 282.4h0M505.7 293.3h0M486.5 284.4h0M519.0 305.5h0M523.2 290.5h0M527.5 288.0h0M528.5 298.2h0M510.6 289.3h0M520.2 279.8h0M513.8 286.7h0M504.6 321.5h0M512.5 283.5h0M540.5 283.0h0M494.6 314.0h0M522.3 305.0h0M521.4 293.5h0M506.7 289.8h0M511.1 302.1h0M504.4 294.2h0M518.6 292.1h0M523.7 261.1h0M503.6 315.0h0M568.5 248.7h0M509.0 273.9h0M520.4 289.9h0M514.6 273.6h0M511.8 294.8h0M539.7 276.2h0M510.5 306.0h0M540.3 287.8h0M537.1 303.0h0M501.2 319.3h0M535.4 293.7h0M507.7 305.7h0M563.3 275.6h0M512.0 279.3h0M502.9 300.5h0M487.0 301.5h0M497.1 297.2h0M508.8 318.7h0M502.0 295.0h0M498.2 299.3h0M506.9 297.9h0M548.6 308.1h0M485.3 306.9h0M552.4 261.4h0M575.4 239.0h0M632.4 199.6h0M626.8 212.7h0M639.9 196.1h0M567.6 228.0h0M624.3 208.5h0M567.9 271.8h0M590.3 225.0h0M611.0 216.5h0M706.2 146.7h0M577.3 246.9h0M542.4 313.0h0M629.9 194.3h0M539.6 282.4h0M559.3 256.1h0M553.5 264.9h0M549.2 297.3h0M631.1 199.0h0M591.0 228.3h0M547.8 278.8h0M586.8 269.6h0M518.7 244.0h0M581.1 218.4h0M554.5 270.7h0M541.7 282.7h0M573.4 302.1h0M536.9 259.4h0M577.3 242.9h0M534.8 285.9h0M546.7 247.2h0M597.7 246.9h0M682.6 156.9h0M609.6 221.7h0M575.1 295.7h0M549.4 267.5h0M594.8 254.9h0M659.3 202.7h0M604.9 227.5h0M564.7 230.9h0M570.2 252.4h0M583.3 237.4h0M643.6 207.4h0M532.2 293.8h0M622.9 211.9h0M557.1 246.3h0M578.2 236.0h0M670.6 151.3h0M538.8 276.5h0M512.5 312.7h0M600.7 228.7h0M538.3 273.8h0M649.6 195.0h0M530.9 270.3h0M523.5 274.0h0M628.7 204.7h0M570.3 254.5h0M616.9 215.5h0M516.2 300.4h0M664.0 199.6h0M533.8 265.7h0M611.7 226.6h0M528.7 285.8h0M515.4 306.7h0M543.6 254.5h0M568.8 245.6h0M635.3 182.0h0M569.3 231.1h0M604.7 229.6h0M719.7 122.1h0M550.6 293.2h0M632.4 206.9h0M565.0 266.0h0M572.2 241.1h0M516.6 248.9h0M618.9 203.4h0M516.3 290.2h0M512.8 291.2h0M550.7 257.5h0M523.1 290.2h0M595.1 222.7h0M600.5 208.6h0M523.1 266.4h0M610.5 228.7h0M557.3 289.7h0M562.6 257.8h0M655.9 173.7h0M540.6 236.9h0M544.0 293.2h0M523.1 276.1h0M618.0 199.5h0M550.8 273.0h0M539.8 258.5h0M540.0 263.9h0M613.6 212.7h0M578.5 249.0h0M532.5 282.9h0M590.9 220.2h0M579.7 225.6h0M663.5 167.5h0M543.9 283.2h0M560.7 276.4h0M550.3 241.5h0M557.8 259.4h0M539.1 228.3h0M559.6 259.0h0M524.8 264.4h0M503.5 300.0h0M544.6 273.1h0M514.4 296.6h0M536.4 295.0h0M512.7 245.7h0M593.6 238.4h0M615.3 227.2h0M536.7 294.8h0M589.0 252.1h0M601.7 220.6h0M566.9 262.2h0M511.4 309.5h0M617.7 235.3h0M614.6 222.4h0M580.1 248.0h0M527.1 288.6h0M646.6 203.8h0M627.9 208.5h0M595.4 286.7h0M565.0 271.7h0M498.4 317.8h0M590.8 217.0h0M491.7 292.1h0M600.1 230.9h0M598.2 225.2h0M540.0 230.6h0M648.5 195.0h0M517.0 237.6h0M608.9 246.0h0M598.2 219.5h0M549.3 225.1h0M553.0 273.3h0M622.4 202.8h0M611.5 262.4h0M549.6 257.2h0M560.4 264.6h0M566.9 249.9h0M673.1 155.8h0M572.0 256.2h0M557.4 266.4h0M527.1 289.5h0M534.3 304.6h0M489.9 307.2h0M577.3 249.7h0M557.3 250.5h0M542.2 300.0h0M504.8 295.7h0M555.6 270.1h0M550.1 277.2h0M527.9 306.2h0M565.2 234.1h0M556.8 255.0h0M600.9 224.1h0M555.1 289.0h0M628.4 197.1h0M542.5 299.7h0M593.8 240.1h0M593.1 229.2h0M571.4 279.7h0M579.7 242.3h0M515.2 292.7h0M494.8 288.5h0M567.1 272.6h0M534.1 276.1h0M585.8 227.0h0M559.1 252.4h0M596.3 233.6h0M593.1 256.3h0M565.8 252.7h0M549.1 267.7h0M539.4 265.0h0M680.1 183.2h0M491.3 300.8h0M538.4 247.8h0M622.2 222.5h0M577.7 235.0h0M643.9 206.2h0M596.8 239.9h0M512.2 289.2h0M553.3 268.8h0M617.2 220.1h0M613.9 178.4h0M554.7 276.6h0M575.3 222.8h0M576.2 292.9h0M499.1 288.8h0M537.4 262.7h0M510.9 307.2h0M552.6 282.6h0M554.1 233.7h0M601.0 229.1h0M637.3 211.1h0M555.6 271.4h0M568.4 243.7h0M579.6 237.4h0M603.3 245.9h0M537.0 282.2h0M609.6 230.8h0M516.2 284.9h0M570.9 245.3h0M609.3 227.6h0M543.9 253.7h0M576.6 251.1h0M560.9 256.2h0M527.5 318.7h0M581.7 246.3h0M539.6 272.1h0M604.6 225.1h0M563.0 223.8h0M538.6 270.8h0M569.4 250.9h0M526.2 268.9h0M521.8 265.8h0M518.0 314.3h0M543.2 256.8h0M610.4 232.4h0M547.0 238.4h0M573.0 269.5h0M512.6 254.9h0M534.3 267.0h0M592.2 223.7h0M507.4 301.6h0M659.8 168.3h0M564.6 265.7h0M653.3 153.9h0M619.5 210.6h0M526.7 255.1h0M590.3 223.9h0M564.8 243.4h0M577.3 236.5h0M603.3 230.3h0M528.1 264.5h0M546.5 284.2h0M545.2 271.4h0M513.4 300.6h0M554.0 269.8h0M591.8 269.5h0M563.0 243.8h0M577.2 260.6h0M549.6 274.3h0M591.6 222.4h0M549.8 274.9h0M562.7 281.9h0M605.9 225.9h0M594.8 236.5h0M607.3 235.6h0M567.7 266.4h0M605.4 221.7h0M493.6 264.4h0M556.9 254.5h0M645.4 191.1h0M632.2 190.5h0M538.8 279.1h0M532.8 288.8h0M497.2 299.2h0M538.7 236.9h0M547.3 260.5h0M488.2 288.4h0M529.8 266.0h0M540.3 284.4h0M579.8 242.5h0M590.3 230.8h0M544.3 261.6h0M560.5 255.4h0M578.9 277.9h0M571.6 260.0h0M556.4 262.4h0M598.4 233.8h0M589.2 224.9h0M543.5 285.3h0M572.8 253.4h0M630.5 221.3h0M513.0 308.7h0M526.4 310.3h0M607.0 219.9h0M516.3 281.2h0M587.0 236.5h0M558.6 272.2h0M591.5 225.2h0M567.6 245.9h0M556.9 260.2h0M619.0 230.5h0M657.5 160.3h0M565.8 271.9h0M613.7 213.3h0M560.5 255.1h0M604.3 262.9h0M529.7 290.8h0M543.4 283.4h0M571.0 250.4h0M550.6 256.0h0M605.4 192.0h0M525.4 308.4h0M541.1 262.5h0M535.3 277.8h0M545.8 258.1h0M622.7 218.1h0M514.2 293.5h0M577.5 206.9h0M537.0 276.4h0M564.3 283.6h0M617.0 227.2h0M573.7 289.0h0M616.8 255.1h0M543.1 240.0h0M560.5 271.4h0M560.2 282.1h0M495.6 308.5h0M545.3 292.2h0M567.7 256.4h0M572.7 257.5h0M522.3 316.6h0M615.9 225.4h0M583.6 234.7h0M531.4 312.9h0M532.4 298.5h0M572.1 230.5h0M485.7 301.4h0M540.5 287.5h0M549.7 254.7h0M560.5 268.0h0M554.3 258.6h0M575.5 242.8h0M561.1 307.7h0M542.9 274.2h0M651.0 164.3h0M507.8 298.4h0M558.0 284.5h0M570.0 261.5h0M557.8 295.8h0M612.3 202.2h0M566.2 260.5h0M593.9 226.2h0M616.0 208.0h0M600.3 198.1h0M527.3 276.3h0M642.2 219.6h0M564.8 243.4h0M599.6 216.0h0M637.9 172.6h0M577.6 267.8h0M513.2 279.2h0M564.9 263.6h0M526.5 305.7h0M536.2 285.9h0M531.2 279.4h0M523.7 270.0h0M628.5 219.1h0M588.8 213.8h0M513.5 272.2h0M621.4 215.7h0M497.0 304.1h0M531.7 273.0h0M565.3 270.6h0M616.8 206.6h0M601.3 232.7h0M586.5 243.4h0M626.7 204.6h0M604.6 236.0h0M604.6 180.5h0M536.1 283.6h0M504.5 310.2h0M540.4 265.4h0M607.9 228.5h0M571.4 246.4h0M610.2 225.2h0M612.6 242.4h0M578.4 230.3h0M584.5 209.6h0M536.6 279.4h0M627.7 222.3h0M523.5 285.5h0M548.6 254.1h0M516.7 303.8h0M575.2 228.3h0M494.3 293.0h0M637.3 203.6h0M506.2 290.8h0M572.2 246.7h0M563.5 268.0h0M532.8 285.6h0M623.4 205.2h0M550.5 274.1h0M648.0 207.3h0M540.9 301.1h0M524.2 274.0h0M587.3 234.3h0M608.7 221.1h0M577.1 253.6h0M545.9 254.5h0M540.1 294.2h0M669.0 149.5h0M602.3 230.5h0M496.0 311.5h0M556.2 271.8h0M637.8 189.0h0M663.9 176.8h0M637.2 198.3h0M568.3 266.7h0M536.9 272.0h0M499.6 288.5h0M585.5 234.1h0M538.3 282.2h0M541.4 263.0h0M530.5 269.4h0M547.9 264.5h0M614.6 227.1h0M653.2 192.0h0M580.7 262.3h0M575.1 267.9h0M530.6 297.2h0M497.5 276.4h0M496.2 265.5h0M603.6 218.8h0M588.4 260.4h0M609.4 216.4h0M590.0 246.5h0M556.7 277.1h0M504.3 282.7h0M566.6 283.3h0M499.3 289.4h0M665.4 174.7h0M578.7 250.0h0M543.9 264.2h0M661.7 172.0h0M538.4 260.5h0M583.8 229.6h0M571.6 275.2h0M601.6 261.4h0M537.8 259.0h0M589.6 239.7h0M625.7 190.1h0M526.1 301.9h0M648.7 215.6h0M564.3 246.3h0M620.5 232.8h0M539.0 255.3h0M634.5 186.9h0M518.7 290.4h0M588.1 222.8h0M519.3 257.8h0M496.4 298.0h0M549.5 265.1h0M592.2 235.6h0M513.4 298.3h0M533.8 310.5h0M628.8 209.5h0M569.5 262.6h0M575.7 236.9h0M527.8 297.5h0M539.1 278.1h0M580.7 265.8h0M561.4 244.1h0M580.4 263.9h0M644.3 193.5h0M574.0 257.3h0M501.6 299.9h0M552.3 303.5h0M574.6 274.0h0M616.5 198.5h0M552.5 293.2h0M550.1 273.8h0M554.0 255.6h0M545.9 289.4h0M532.1 285.0h0M550.3 265.4h0M596.2 207.6h0M579.6 237.8h0M572.9 287.9h0M569.7 236.8h0M498.5 284.8h0M610.2 219.7h0M607.0 239.3h0M567.8 244.6h0M490.8 299.2h0M662.4 174.6h0M516.5 283.3h0M508.3 271.9h0M599.7 237.3h0M505.9 304.2h0M587.4 266.6h0M556.6 266.8h0M532.2 254.6h0M596.8 221.1h0M631.1 200.9h0M596.2 260.0h0M547.6 266.4h0M639.1 203.4h0M545.2 265.8h0M487.8 309.9h0M542.7 235.5h0M639.9 205.7h0M523.9 299.4h0M575.3 223.1h0M576.1 246.8h0M615.9 222.2h0M568.7 271.1h0M677.5 165.6h0M546.1 281.3h0M540.0 275.5h0M513.6 303.1h0M521.4 275.8h0M539.9 254.6h0M582.2 257.8h0M527.4 243.6h0M658.7 171.6h0M591.0 245.2h0M597.1 237.7h0M625.1 198.2h0M600.8 241.1h0M519.9 256.4h0M504.4 304.2h0M565.5 235.1h0M530.3 283.3h0M630.0 206.3h0M520.0 271.0h0M570.3 264.9h0M598.2 200.8h0M549.6 262.4h0M569.9 253.9h0M654.8 192.1h0M561.2 236.3h0M560.4 261.6h0M537.1 276.4h0M513.5 317.6h0M628.7 197.4h0M618.3 211.1h0M514.5 277.6h0M602.8 244.8h0M571.0 242.5h0M544.4 268.6h0M556.7 274.9h0M598.4 228.7h0M505.4 285.1h0M539.4 272.8h0M552.9 257.7h0M537.8 240.9h0M561.9 273.1h0M566.6 248.4h0M584.6 236.4h0M515.5 275.0h0M565.1 258.2h0M538.2 272.2h0M638.0 196.7h0M514.3 304.6h0M531.6 249.3h0M594.9 230.5h0M553.1 270.2h0M545.5 266.7h0M567.4 297.2h0M584.2 254.7h0M499.3 277.3h0M560.0 263.6h0M572.7 275.4h0M493.8 290.4h0M566.5 242.8h0M522.9 255.1h0M578.8 249.7h0M603.4 222.6h0M568.6 237.9h0M541.5 312.8h0M570.0 240.7h0M493.3 297.2h0M540.3 286.9h0M646.9 188.4h0M569.0 264.8h0M639.8 191.8h0M550.5 260.2h0M554.0 251.7h0M520.4 290.5h0M632.1 238.0h0M542.2 253.9h0M583.4 224.3h0M571.2 230.3h0M577.0 226.4h0M586.3 251.9h0M557.2 256.3h0M541.8 241.0h0M530.9 272.9h0M585.2 236.0h0M661.6 162.4h0M618.9 212.7h0M669.6 146.7h0M593.1 241.8h0M514.4 273.9h0M518.0 278.1h0M577.4 205.5h0M594.1 254.0h0M581.2 208.4h0M551.9 299.2h0M597.3 240.3h0M563.8 273.6h0M587.7 263.5h0M621.7 203.1h0M557.7 259.7h0M625.7 190.0h0M621.4 190.3h0M537.5 279.4h0M694.2 165.2h0M537.4 307.7h0M564.6 262.7h0M601.6 224.1h0M621.8 215.3h0M609.4 195.8h0M554.7 254.8h0M579.5 245.2h0M573.3 244.8h0M565.3 269.3h0M619.8 209.9h0M546.1 263.0h0M572.3 265.3h0M585.2 241.7h0M600.9 213.1h0M621.5 208.5h0M514.1 301.9h0M556.7 257.9h0M555.6 252.0h0M530.5 292.2h0M570.7 234.8h0M595.0 227.2h0M571.8 229.2h0M662.9 196.0h0M549.0 304.9h0M579.4 266.6h0M653.3 164.0h0M589.6 218.5h0M537.4 300.2h0M567.3 241.1h0M616.3 197.8h0M668.6 163.6h0M599.2 228.1h0M606.0 190.3h0M488.1 258.6h0M551.8 260.6h0M619.0 198.9h0M505.8 264.6h0M583.1 275.8h0M506.7 319.5h0M636.6 189.2h0M535.8 240.6h0M507.3 298.3h0M512.9 291.7h0M650.6 172.1h0M556.1 270.2h0M536.7 266.0h0M586.2 227.1h0M480.8 303.6h0M529.6 285.7h0M553.5 243.2h0M550.0 244.3h0M588.7 246.8h0M550.9 271.0h0M553.5 264.3h0M579.5 250.8h0M538.2 275.8h0M541.8 287.5h0M523.5 255.2h0M564.2 256.1h0M558.5 260.8h0M547.6 271.3h0M548.0 258.1h0M555.0 252.0h0M584.5 246.2h0M484.0 266.3h0M606.3 208.3h0M515.4 311.2h0M615.3 252.8h0M531.4 271.5h0M586.8 226.1h0M616.9 210.1h0M504.9 319.1h0M594.0 230.5h0M586.4 252.5h0M553.0 275.3h0M579.2 237.1h0M532.6 260.2h0M570.4 252.6h0M538.1 297.7h0M605.8 225.1h0M593.0 231.2h0M590.9 216.3h0M541.7 277.3h0M657.7 178.1h0M664.6 172.2h0M564.0 262.4h0M538.7 260.8h0M520.1 244.7h0M593.2 223.2h0M617.2 214.0h0M513.2 259.0h0M487.4 313.2h0M581.5 233.4h0M568.3 263.4h0M577.2 254.1h0M593.1 237.8h0M537.5 301.0h0M575.4 261.9h0M545.0 259.2h0M578.3 237.7h0M618.3 198.9h0M573.3 265.4h0M534.2 283.5h0M613.9 193.4h0M614.7 240.2h0M562.8 269.0h0M488.4 301.5h0M535.7 286.3h0M547.2 232.8h0M583.7 228.8h0M555.2 282.4h0M577.5 233.5h0M515.2 255.4h0M572.6 290.9h0M586.7 233.2h0M544.8 258.8h0M563.6 247.7h0M605.9 220.2h0M636.0 223.7h0M544.2 277.3h0M551.6 263.7h0M524.3 304.2h0M510.8 291.8h0M590.5 257.3h0M575.8 300.0h0M495.9 311.8h0M585.3 233.4h0M534.0 283.9h0M551.0 267.1h0M580.6 239.2h0M575.8 236.9h0M569.4 267.5h0M485.4 311.2h0M585.0 230.3h0M567.4 297.5h0M503.9 292.8h0M627.3 201.3h0M570.0 253.9h0M559.2 247.5h0M602.3 241.0h0M562.0 262.5h0M521.1 310.6h0M590.2 224.9h0M596.6 202.7h0M584.0 233.5h0M642.7 195.5h0M651.9 171.8h0M525.2 273.9h0M540.5 265.9h0M599.8 215.0h0M575.5 255.2h0M579.7 255.8h0M606.6 216.5h0M598.8 226.5h0M558.0 280.1h0M561.3 247.6h0M557.1 295.2h0M556.8 264.6h0M507.7 277.3h0M490.8 313.3h0M533.7 262.9h0M545.9 278.7h0M604.5 217.9h0M639.8 189.5h0M563.9 257.3h0M584.9 237.3h0M539.7 275.8h0M560.4 310.2h0M561.2 273.1h0M555.8 268.5h0M576.6 245.0h0M578.0 261.7h0M648.7 189.2h0M551.1 260.4h0M514.3 313.7h0M560.7 246.2h0M541.7 278.4h0M557.8 236.6h0M619.1 209.5h0M523.5 262.1h0M556.8 256.7h0M586.4 233.7h0M524.8 280.8h0M567.1 243.2h0M609.3 250.3h0M582.5 205.2h0M620.9 213.0h0M596.0 238.3h0M583.8 241.9h0M516.4 299.7h0M539.5 293.9h0M635.5 197.2h0M577.5 259.7h0M539.7 262.0h0M580.4 241.1h0M489.2 303.5h0M589.8 230.9h0M512.9 282.0h0M618.9 215.3h0M565.5 256.5h0M719.5 124.7h0M521.7 300.0h0M585.8 251.8h0M510.7 299.1h0M637.9 221.6h0M557.5 241.3h0M606.1 214.2h0M565.4 249.7h0M534.7 301.1h0M532.0 268.4h0M513.8 287.4h0M543.6 301.1h0M571.7 251.2h0M620.5 213.3h0M610.7 223.1h0M591.9 236.7h0M553.6 281.1h0M580.7 227.6h0M547.1 292.7h0M575.4 249.0h0M607.8 222.4h0M566.8 270.0h0M534.2 259.3h0M556.5 275.8h0M593.0 229.1h0M540.6 255.3h0M515.5 299.4h0M555.7 274.0h0M517.1 279.8h0M648.6 200.4h0M573.4 263.8h0M511.3 298.8h0M591.4 257.3h0M601.6 227.4h0M575.7 234.5h0M523.6 244.1h0M569.5 248.9h0M580.8 247.3h0M611.3 211.4h0M559.9 222.6h0M669.4 152.8h0M563.5 268.8h0M650.2 199.4h0M557.7 250.0h0M490.5 294.9h0M534.3 300.4h0M514.2 321.3h0M500.6 304.1h0M625.3 206.2h0M549.3 282.9h0M584.3 222.7h0M533.4 283.1h0M542.9 239.7h0M534.7 293.7h0M620.7 230.8h0M569.5 276.1h0M547.5 269.2h0M543.4 249.0h0M665.6 157.4h0M586.2 237.4h0M601.4 217.2h0M499.8 275.4h0M552.3 284.8h0M587.8 251.7h0M631.4 199.9h0M567.4 236.6h0M558.9 253.4h0M563.9 268.1h0M559.6 266.7h0M557.2 280.5h0M629.4 193.6h0M600.9 229.4h0M637.1 212.6h0M511.9 264.5h0M644.4 209.0h0M516.2 287.8h0M518.4 254.1h0M607.3 232.7h0M620.0 211.8h0M530.5 305.5h0M546.3 257.8h0M549.0 241.9h0M544.3 248.0h0M518.7 269.0h0M596.0 226.4h0M545.7 272.1h0M544.6 254.5h0M566.7 265.4h0M490.7 308.8h0M587.2 216.5h0M591.6 238.2h0M553.8 277.9h0M592.7 267.2h0M560.9 245.1h0M544.7 249.2h0M582.9 242.1h0M554.0 255.6h0M567.7 287.7h0M549.6 291.0h0M648.1 185.6h0M589.0 261.4h0M558.5 253.3h0M590.8 218.3h0M550.9 268.5h0M544.4 262.7h0M611.3 209.5h0M591.6 223.3h0M517.5 304.3h0M556.4 245.7h0M559.2 254.1h0M577.3 229.7h0M527.8 278.1h0M508.2 271.2h0M558.1 258.7h0M542.2 290.4h0M521.6 283.4h0M562.2 259.3h0M620.4 226.1h0M568.0 249.0h0M614.3 205.0h0M531.1 287.3h0M611.4 237.1h0M560.6 254.7h0M533.4 282.4h0M563.7 281.0h0M528.8 277.4h0M562.1 267.9h0M570.4 305.7h0M645.4 219.3h0M568.7 281.7h0M495.4 282.1h0M558.2 263.5h0M587.3 244.3h0M559.3 271.5h0M606.2 220.2h0M528.5 280.1h0M560.0 303.3h0M641.9 185.9h0M582.4 272.2h0M585.0 229.3h0M584.0 232.3h0M592.3 232.5h0M588.5 274.1h0M530.4 239.9h0M616.0 209.8h0M546.7 270.9h0M565.3 248.6h0M590.5 221.9h0M543.1 262.3h0M524.0 312.1h0M600.8 249.4h0M617.3 211.1h0M579.5 248.7h0M512.8 310.9h0M580.3 217.0h0M665.5 177.2h0M515.9 305.8h0M556.4 264.5h0M558.1 245.5h0M611.3 231.0h0M599.7 218.2h0M573.9 257.2h0M595.3 237.7h0M588.3 248.9h0M571.8 252.8h0M553.0 250.6h0M548.3 252.2h0M590.1 219.7h0M579.6 235.7h0M564.4 281.4h0M610.2 204.0h0M555.7 262.8h0M537.9 223.4h0M496.7 309.3h0M550.4 266.7h0M607.9 222.0h0M596.2 215.7h0M503.4 274.2h0M544.6 287.8h0M543.0 300.5h0M565.9 271.5h0M560.1 256.8h0M585.7 248.2h0M548.7 237.6h0M548.9 248.0h0M525.7 262.9h0M540.7 247.5h0M513.4 316.0h0M568.6 241.0h0M573.8 247.0h0M542.9 244.8h0M534.4 299.2h0M618.0 207.8h0M504.9 314.1h0M583.4 238.3h0M584.6 261.0h0M569.6 218.1h0M621.7 250.7h0M601.6 228.1h0M571.5 249.3h0M553.5 284.9h0M529.7 257.0h0M602.7 246.3h0M615.0 201.9h0M581.5 298.9h0M571.3 278.4h0M576.4 208.9h0M487.1 315.0h0M582.5 234.7h0M548.4 256.4h0M599.0 221.6h0M520.9 272.4h0M606.4 226.0h0M627.0 194.8h0M510.3 282.3h0M528.4 294.8h0M574.3 265.4h0M504.0 305.8h0M605.4 230.1h0M566.5 242.5h0M608.8 212.1h0M522.1 325.5h0M588.8 259.7h0M499.4 304.4h0M606.1 216.8h0M545.3 318.8h0M573.0 247.8h0M525.8 298.8h0M610.9 229.2h0M649.3 185.3h0M556.8 243.9h0M576.1 262.3h0M637.8 208.7h0M555.5 273.5h0M576.7 260.8h0M591.6 209.2h0M579.0 231.4h0M627.9 176.6h0M620.5 201.2h0M662.3 175.6h0M565.0 254.6h0M625.2 210.1h0M520.1 263.0h0M609.2 213.7h0M687.3 158.4h0M525.4 291.2h0M558.6 257.0h0M605.9 225.3h0M522.1 266.7h0M601.2 234.6h0M589.2 225.2h0M561.1 276.6h0M540.7 262.4h0M552.5 294.3h0M580.5 237.0h0M628.6 197.4h0M582.7 240.1h0M709.8 140.0h0M548.1 322.5h0M544.8 268.1h0M594.9 218.4h0M528.6 286.8h0M600.5 250.0h0M614.7 223.1h0M575.6 243.2h0M558.5 259.2h0M600.4 200.7h0M586.9 232.9h0M609.7 226.3h0M572.6 210.2h0M556.3 283.0h0M510.5 269.4h0M539.3 252.1h0M582.0 248.7h0M586.8 281.0h0M623.3 219.3h0M583.6 243.8h0M621.2 215.7h0M568.1 242.4h0M544.4 276.2h0M614.1 220.5h0M589.0 228.4h0M528.8 270.3h0M552.0 265.0h0M710.1 138.5h0M638.5 217.7h0M545.8 229.8h0M566.3 257.7h0M550.8 258.3h0M541.3 262.8h0M684.7 153.8h0M564.5 278.5h0M572.1 277.0h0M582.2 199.3h0M594.8 245.1h0M563.3 262.8h0M561.3 267.4h0M527.5 299.8h0M620.8 208.9h0M504.5 264.9h0M612.8 205.4h0M597.2 217.5h0M606.5 259.8h0M547.8 270.7h0M625.0 204.1h0M523.6 283.2h0M582.6 255.5h0M618.8 231.7h0M606.5 237.1h0M674.9 171.7h0M606.4 219.2h0M564.6 268.5h0M564.6 266.5h0M597.4 206.9h0M545.3 242.8h0M564.9 263.4h0M488.7 294.5h0M539.8 252.8h0M535.8 306.9h0M573.7 242.7h0M584.8 260.6h0M594.5 219.9h0M673.3 194.9h0M560.2 262.4h0M629.9 187.7h0M518.3 282.8h0M585.2 259.0h0M612.7 214.7h0M659.7 169.3h0M536.2 296.2h0M571.4 276.4h0M570.9 248.4h0M565.5 262.3h0M563.8 310.8h0M504.7 301.1h0M513.4 284.6h0M563.8 259.9h0M515.2 292.8h0M653.9 179.6h0M628.0 204.2h0M503.0 315.7h0M541.1 265.0h0M626.0 194.4h0M614.5 202.4h0M520.8 302.9h0M558.9 272.5h0M638.1 208.4h0M592.6 270.1h0M534.1 257.1h0M593.8 237.1h0M616.6 215.4h0M564.6 243.6h0M588.7 254.8h0M619.4 210.2h0M514.0 246.6h0M538.5 287.6h0M600.4 220.5h0M545.4 310.1h0M595.4 239.2h0M525.7 266.2h0M602.4 215.9h0M510.3 280.3h0M616.8 202.9h0M590.1 252.9h0M548.5 260.5h0M540.9 286.8h0M552.0 254.7h0M537.9 288.0h0M517.7 287.2h0M626.5 216.4h0M589.7 226.3h0M626.2 202.8h0M537.7 313.1h0M510.2 303.7h0M599.0 229.6h0M599.7 217.0h0M497.6 309.1h0M639.7 232.1h0M554.6 273.8h0M547.3 312.3h0M562.7 259.7h0M599.8 237.6h0M555.9 262.0h0M563.3 266.0h0M549.3 293.3h0M496.7 283.4h0M546.2 263.6h0M514.0 309.9h0M592.7 229.3h0M551.2 295.8h0M632.7 202.4h0M530.4 321.6h0M631.9 193.6h0M533.4 282.7h0M529.0 279.6h0M575.0 240.7h0M607.9 216.6h0M572.0 265.6h0M553.1 268.4h0M670.0 175.4h0M586.2 231.9h0M531.6 300.0h0M555.6 265.0h0M640.4 176.4h0M605.0 220.6h0M660.4 164.1h0M531.8 264.5h0M579.0 237.2h0M535.5 271.9h0M555.2 249.5h0M586.6 229.7h0M497.5 279.3h0M563.4 243.7h0M581.9 259.5h0M603.7 200.0h0M553.4 282.5h0M505.0 282.1h0M591.8 246.3h0M548.3 309.5h0M578.8 253.5h0M585.3 226.2h0M532.0 281.5h0M556.4 257.5h0M497.3 261.9h0M524.1 309.1h0M484.6 313.3h0M564.5 256.3h0M519.5 282.8h0M533.3 239.9h0M567.2 262.8h0M610.5 205.9h0M556.8 271.7h0M565.4 282.1h0M589.7 236.1h0M643.2 186.3h0M561.7 259.9h0M574.7 237.5h0M543.0 251.0h0M550.1 286.9h0M521.4 312.3h0M563.2 261.3h0M552.2 263.2h0M551.0 261.0h0M670.9 177.9h0M551.0 266.1h0M576.0 239.3h0M565.4 278.8h0M608.1 193.7h0M654.9 174.7h0M545.6 257.1h0M613.3 232.3h0M619.1 216.5h0M545.7 255.6h0M611.9 224.4h0M560.7 248.9h0M537.4 279.3h0M542.3 278.2h0M577.3 239.9h0M663.8 188.3h0M528.3 255.9h0M596.3 237.7h0M554.7 296.6h0M571.1 241.2h0M502.6 282.2h0M535.1 279.0h0M551.8 247.1h0M544.6 284.7h0M566.9 275.2h0M607.8 207.7h0M550.5 253.0h0M547.3 285.1h0M531.5 302.3h0M544.9 272.2h0M619.9 205.7h0M561.4 259.4h0M567.8 268.6h0M594.3 220.8h0M620.2 232.6h0M612.8 212.2h0M554.7 270.1h0M518.9 272.9h0M492.1 294.7h0M522.0 262.0h0M540.3 258.8h0M593.0 219.1h0M572.8 237.1h0M541.3 271.2h0M601.8 213.4h0M517.9 292.2h0M514.8 277.5h0M523.3 291.9h0M530.4 293.0h0M553.8 263.4h0M529.8 278.1h0M547.1 287.5h0M630.3 198.8h0M505.1 293.8h0M514.8 276.5h0M531.6 243.9h0M588.0 239.7h0M591.2 238.7h0M562.8 271.6h0M547.4 264.7h0M536.8 250.0h0M608.8 231.5h0M522.8 276.7h0M576.4 252.0h0M515.4 285.1h0M554.0 252.2h0M637.4 200.6h0M567.9 252.3h0M667.1 187.4h0M499.8 296.7h0M575.7 246.8h0M588.7 244.8h0M602.9 219.2h0M556.8 293.8h0M569.5 248.2h0M573.4 254.7h0M553.1 240.4h0M528.4 307.7h0M507.9 311.1h0M577.8 222.5h0M566.9 256.1h0M597.9 230.9h0M599.0 194.0h0M516.6 285.1h0M610.8 229.1h0M649.7 201.2h0M624.1 219.5h0M598.3 234.5h0M617.1 240.2h0M507.9 293.5h0M564.1 284.9h0M639.4 192.1h0M574.1 224.1h0M542.8 264.2h0M567.5 266.2h0M596.7 209.2h0M673.5 174.0h0M599.0 216.0h0M550.5 273.9h0M605.9 235.5h0M596.5 243.7h0M686.8 151.8h0M594.7 228.1h0M569.0 254.1h0M558.2 253.6h0M500.8 273.3h0M537.8 293.8h0M569.5 286.5h0M520.1 264.8h0M601.2 267.6h0M579.0 256.8h0M622.2 221.3h0M652.5 197.7h0M568.3 243.0h0M561.0 262.7h0M493.0 303.3h0M582.0 235.2h0M585.1 213.9h0M542.7 281.0h0M550.4 265.3h0M528.2 264.8h0M617.9 207.4h0M599.3 229.2h0M620.7 196.4h0M526.4 293.0h0M702.2 141.9h0M541.3 284.9h0M533.7 288.6h0M595.1 262.7h0M533.2 260.8h0M663.9 182.0h0M554.9 270.7h0M607.2 206.3h0M636.3 209.9h0M532.4 277.1h0M534.3 257.7h0M558.5 271.0h0M544.4 247.6h0M650.8 180.8h0M618.2 192.2h0M620.9 210.7h0M560.4 249.5h0M601.1 210.9h0M572.2 266.0h0M543.9 282.3h0M647.8 182.8h0M496.5 301.7h0M556.2 247.8h0M551.8 278.9h0M511.4 308.9h0M534.6 253.2h0M574.4 258.1h0M564.9 216.8h0M549.1 291.6h0M589.0 212.3h0M556.4 223.1h0M615.7 229.9h0M549.2 270.3h0M548.0 278.9h0M595.6 233.6h0M540.3 279.9h0M541.9 267.9h0M512.9 280.8h0M530.2 298.3h0M551.6 301.0h0M612.3 215.1h0M574.7 241.5h0M558.3 278.9h0M596.0 237.2h0M597.6 240.1h0M560.6 272.7h0M554.9 274.3h0M537.3 267.4h0M557.4 252.3h0M526.8 271.8h0M647.2 209.9h0M540.7 277.0h0M535.4 270.3h0M539.4 274.1h0M594.6 231.4h0M593.1 226.3h0M637.6 197.4h0M574.6 205.9h0M555.7 239.7h0M597.5 246.7h0M529.0 304.4h0M592.7 233.4h0M575.9 252.4h0M675.9 174.2h0M636.0 200.4h0M545.8 289.9h0M549.6 277.9h0M607.9 218.9h0M499.7 324.0h0M543.3 293.2h0M571.6 231.7h0M577.5 213.3h0M563.7 240.7h0M628.9 212.1h0M538.5 251.2h0M570.9 254.3h0M547.2 253.8h0M547.6 306.8h0M566.0 254.4h0M531.7 261.8h0M559.8 246.2h0M570.3 252.5h0M538.7 267.1h0M547.2 278.5h0M563.5 252.3h0M530.7 256.3h0M584.5 194.9h0M631.9 207.3h0M598.9 210.6h0M607.3 210.7h0M582.0 240.5h0M573.8 261.9h0M512.8 288.6h0M573.1 285.6h0M631.3 209.8h0M596.7 218.7h0M546.2 270.1h0M576.5 257.5h0M619.6 213.0h0M582.6 281.3h0M655.8 195.4h0M537.8 278.7h0M603.5 222.2h0M587.4 216.8h0M568.1 244.9h0M574.3 239.1h0M591.8 233.6h0M594.2 241.4h0M636.0 219.1h0M577.8 233.6h0M629.6 214.2h0M532.1 298.6h0M566.7 262.3h0M589.7 249.4h0M557.6 266.1h0M625.1 206.2h0M588.7 235.3h0M541.1 266.8h0M624.0 236.9h0M597.5 214.5h0M536.3 258.5h0M582.7 218.4h0M585.7 242.0h0M571.1 231.8h0M522.5 294.7h0M616.2 191.4h0M595.5 227.4h0M560.2 254.5h0M567.4 229.3h0M589.2 248.7h0M559.2 270.0h0M545.7 275.1h0M541.1 271.9h0M562.5 283.4h0M550.7 313.3h0M551.9 262.4h0M607.7 207.4h0M592.4 261.8h0M571.1 258.1h0M545.6 259.4h0M540.3 261.5h0M493.2 284.8h0M657.3 193.8h0M530.7 271.1h0M525.8 312.2h0M576.2 232.6h0M574.1 243.2h0M545.5 271.3h0M497.9 287.5h0M518.6 299.3h0M637.6 184.8h0M573.8 271.6h0M561.5 292.7h0M659.2 178.0h0M528.5 258.7h0M534.4 285.9h0M593.5 234.8h0M576.6 235.8h0M645.5 191.7h0M596.8 259.3h0M484.2 289.1h0M597.3 245.1h0M538.5 273.5h0M538.5 262.2h0M537.7 277.7h0M597.2 212.9h0M644.9 186.1h0M549.8 249.7h0M563.4 271.1h0M566.8 288.3h0M588.4 232.5h0M506.4 268.8h0M567.7 273.2h0M642.2 176.3h0M558.9 239.7h0M517.6 298.3h0M487.3 284.1h0M568.0 284.8h0M528.9 269.4h0M537.3 249.0h0M522.9 290.1h0M683.3 157.0h0M668.1 163.0h0M585.9 234.6h0M618.1 200.6h0M552.9 267.5h0M560.3 267.4h0M607.1 200.7h0M592.8 235.7h0M551.5 318.2h0M537.5 263.9h0M654.2 174.9h0M547.0 299.7h0M571.8 256.2h0M629.1 209.1h0M600.0 244.4h0M562.5 243.8h0M532.4 285.7h0M587.8 200.2h0M500.1 313.8h0M593.3 215.7h0M482.0 261.0h0M539.2 273.1h0M527.1 305.5h0M530.7 284.8h0M626.9 185.3h0M543.8 311.6h0M575.1 253.3h0M508.3 260.0h0M614.1 214.5h0M503.0 288.7h0M598.5 212.3h0M672.1 157.5h0M503.9 279.5h0M546.9 297.4h0M548.6 250.0h0M654.9 210.5h0M533.0 294.6h0M592.7 215.2h0M534.1 272.2h0M511.8 278.0h0M478.8 283.3h0M560.7 247.9h0M606.3 213.1h0M564.3 266.9h0M529.7 265.2h0M595.2 205.4h0M620.9 235.1h0M578.3 251.0h0M635.5 195.4h0M520.6 299.9h0M517.4 295.2h0M687.6 160.7h0M594.7 230.7h0M547.2 258.9h0M537.9 268.1h0M604.0 224.2h0M485.9 312.8h0M569.3 268.4h0M644.1 200.0h0M544.8 268.6h0M564.1 230.9h0M538.8 265.9h0M569.1 233.1h0M509.3 314.6h0M667.3 167.6h0M518.6 280.5h0M641.9 174.5h0M591.2 248.1h0M532.4 273.7h0M612.5 213.4h0M552.4 261.5h0M584.4 280.3h0M632.7 207.3h0M533.9 289.3h0M598.6 227.0h0M672.6 184.3h0M647.5 180.0h0M615.8 212.8h0M578.7 245.2h0M521.5 282.1h0M632.1 193.7h0M530.1 271.9h0M628.9 210.8h0M551.7 268.9h0M568.2 262.1h0M576.1 269.6h0M592.2 231.4h0M552.3 275.6h0M558.6 240.3h0M551.9 280.2h0M577.4 225.7h0M575.6 245.4h0M603.9 256.5h0M547.9 296.1h0M568.0 235.4h0M570.3 261.8h0M597.4 237.7h0M579.1 268.4h0M547.4 303.2h0M595.7 224.0h0M514.3 257.7h0M593.5 260.5h0M589.9 238.7h0M596.8 230.7h0M525.5 282.0h0M596.9 237.7h0M535.4 257.6h0M645.3 209.2h0M598.3 231.9h0M514.8 292.7h0M551.5 261.1h0M513.4 322.4h0M574.1 287.0h0M601.8 245.3h0M602.0 220.7h0M551.5 255.3h0M579.4 286.5h0M552.2 236.8h0M572.3 239.2h0M606.4 199.0h0M604.7 219.6h0M546.2 290.3h0M520.8 251.8h0M587.1 249.6h0M670.8 173.8h0M604.4 205.4h0M651.9 184.8h0M558.8 249.9h0M628.3 205.0h0M478.9 286.8h0M577.6 224.3h0M620.4 198.6h0M580.9 230.2h0M629.9 211.8h0M589.2 243.5h0M538.5 265.1h0M532.3 274.4h0M577.9 251.9h0M635.4 187.1h0M585.8 220.6h0M528.6 259.0h0M535.0 265.8h0M545.4 282.8h0M574.8 277.9h0M564.2 261.9h0M553.0 275.7h0M564.2 255.6h0M495.2 292.4h0M651.4 194.6h0M567.9 238.0h0M637.4 185.8h0M552.2 221.0h0M552.6 258.0h0M563.8 248.0h0M577.7 247.9h0M542.5 277.0h0M554.6 270.3h0M661.0 171.9h0M613.8 216.0h0M547.0 272.0h0M594.2 235.2h0M555.6 297.9h0M638.5 196.4h0M521.3 279.4h0M611.4 217.4h0M552.0 242.2h0M572.3 258.4h0M529.1 273.9h0M548.2 257.1h0M556.7 294.1h0M534.7 281.6h0M604.3 248.4h0M687.9 142.0h0M555.2 267.9h0M607.4 204.8h0M546.3 240.6h0M532.8 271.2h0M614.0 181.0h0M596.2 226.8h0M620.9 204.1h0M546.4 229.7h0M604.1 275.3h0M534.1 278.4h0M562.8 269.8h0M651.9 183.5h0M593.5 245.5h0M648.2 198.4h0M606.3 220.8h0M617.7 223.3h0M552.7 260.9h0M624.7 207.6h0M631.6 211.0h0M585.0 274.3h0M657.4 188.0h0M543.5 266.0h0M581.8 269.3h0M572.7 268.4h0M532.3 278.1h0M544.4 265.1h0M519.0 248.6h0M484.3 295.8h0M610.3 186.7h0M570.0 258.1h0M702.0 138.9h0M550.4 243.4h0M507.0 296.0h0M628.8 220.7h0M517.0 279.5h0M581.8 222.4h0M625.8 226.2h0M589.0 209.2h0M539.4 283.1h0M518.9 264.2h0M603.0 221.6h0M623.9 202.5h0M637.4 191.4h0M564.3 256.5h0M567.2 263.5h0M651.4 173.5h0M542.7 271.8h0M605.7 223.7h0M545.4 257.6h0M511.3 294.7h0M531.3 293.3h0M590.3 237.4h0M556.3 228.9h0M603.8 245.3h0M579.3 288.4h0M539.4 264.0h0M572.5 237.1h0M566.5 267.9h0M493.6 290.8h0M564.8 281.4h0M652.9 183.9h0M527.3 269.5h0M588.9 228.5h0M604.6 226.2h0M529.5 277.8h0M518.2 292.4h0M601.4 248.1h0M515.8 256.6h0M560.1 254.5h0M549.5 262.0h0M605.4 207.7h0M569.7 238.3h0M574.6 252.2h0M543.4 295.9h0M516.6 308.5h0M551.5 294.6h0M607.0 220.4h0M601.8 228.2h0M590.6 228.1h0M548.0 266.2h0M503.7 265.8h0M626.4 210.0h0M596.1 237.2h0M533.9 286.3h0M535.9 272.9h0M602.8 233.5h0M612.2 233.4h0M543.4 297.6h0M507.3 277.5h0M636.6 213.1h0M574.5 208.5h0M680.0 159.7h0M639.5 190.9h0M536.0 271.5h0M563.8 239.3h0M540.1 264.2h0M577.2 255.3h0M593.8 214.7h0M543.5 239.5h0M563.1 250.4h0M521.4 299.2h0M596.5 234.3h0M568.2 260.8h0M593.9 228.2h0M617.3 212.5h0M554.3 245.5h0M607.6 233.5h0M532.4 265.3h0M594.2 201.3h0M571.3 263.8h0M555.2 283.7h0M563.1 269.2h0M491.9 279.2h0M531.3 267.1h0M546.5 266.9h0M566.7 256.6h0M558.4 256.9h0M536.8 271.5h0M548.1 254.1h0M554.6 241.1h0M576.7 220.1h0M597.7 218.1h0M623.7 215.5h0M578.4 280.9h0M556.5 255.5h0M546.6 270.3h0M539.2 264.4h0M573.1 254.3h0M631.8 200.1h0M494.2 297.3h0M541.6 267.3h0M566.6 236.2h0M511.8 271.8h0M593.7 247.4h0M510.5 292.6h0M541.2 258.5h0M488.9 291.0h0M551.7 293.1h0M574.8 212.6h0M570.3 280.1h0M529.4 284.9h0M525.1 249.8h0M585.8 266.4h0M575.3 268.3h0M573.4 286.5h0M575.0 266.9h0M604.5 221.9h0M570.4 227.6h0M525.5 303.4h0M611.8 221.4h0M581.4 243.3h0M565.5 280.1h0M555.9 270.8h0M522.2 322.0h0M574.3 260.1h0M550.7 261.5h0M511.7 295.7h0M542.2 265.8h0M605.5 245.4h0M542.6 226.4h0M587.8 256.1h0M552.9 281.2h0M580.9 201.8h0M560.5 256.6h0M590.8 209.8h0M665.5 157.2h0M537.2 264.8h0M540.9 238.3h0M537.2 278.2h0M611.6 211.3h0M560.1 274.8h0M645.5 185.6h0M602.0 226.1h0M558.7 254.1h0M596.3 213.6h0M590.0 238.0h0M643.0 199.8h0M591.1 244.6h0M619.8 216.9h0M565.6 223.9h0M598.7 257.7h0M522.2 312.0h0M564.8 256.5h0M587.3 242.9h0M533.5 298.5h0M511.7 293.1h0M538.3 252.5h0M595.2 257.6h0M521.0 319.1h0M585.0 247.6h0M600.7 206.4h0M550.6 259.6h0M553.5 227.3h0M584.1 234.0h0M546.2 279.8h0M589.5 225.4h0M581.6 233.1h0M543.7 311.3h0M604.1 246.3h0M615.7 225.9h0M506.3 270.7h0M611.3 222.7h0M571.3 277.8h0M514.9 293.2h0M530.5 288.6h0M531.8 280.8h0M536.3 261.2h0M541.6 260.5h0M533.6 304.5h0M560.6 251.8h0M509.7 283.4h0M547.2 281.4h0M582.5 220.4h0M590.4 222.5h0M573.6 295.3h0M539.5 239.0h0M605.1 246.0h0M560.3 253.9h0M625.6 206.5h0M631.9 200.2h0M567.2 264.1h0M523.6 294.1h0M552.7 255.9h0M625.7 194.3h0M627.0 214.0h0M631.9 213.2h0M628.4 215.9h0M547.6 272.4h0M585.7 251.0h0M608.9 202.1h0M572.3 240.6h0M609.0 219.3h0M532.0 287.9h0M509.5 281.4h0M659.6 165.8h0M593.6 215.5h0M606.8 239.8h0M628.8 185.9h0M702.1 127.4h0M592.8 246.5h0M616.6 211.7h0M504.5 317.6h0M511.9 316.4h0M571.2 271.9h0M672.4 185.6h0M613.8 216.9h0M676.3 166.0h0M613.5 205.2h0M640.9 189.9h0M562.8 255.5h0M577.4 255.8h0M576.3 238.1h0M609.2 233.4h0M569.3 226.2h0M582.5 226.6h0M603.7 225.3h0M568.3 242.8h0M603.1 230.3h0M599.4 237.4h0M501.2 303.8h0M566.8 271.1h0M514.2 286.4h0M558.4 254.9h0M551.4 294.1h0M552.0 251.7h0M530.5 279.6h0M617.2 212.4h0M679.2 164.7h0M535.8 266.9h0M567.8 256.9h0M572.9 260.1h0M577.5 230.6h0M573.2 274.8h0M570.2 232.6h0M554.7 257.1h0M535.4 296.5h0M559.8 265.6h0M537.5 265.0h0M586.8 256.9h0M562.4 274.9h0M553.9 265.6h0M569.5 253.6h0M565.9 238.9h0M575.7 266.6h0M629.8 213.5h0M573.8 245.8h0M516.5 263.2h0M655.7 187.7h0M558.1 243.2h0M644.2 192.0h0M517.5 281.4h0M580.4 224.0h0M630.1 166.9h0M637.6 211.5h0M567.6 253.4h0M525.1 259.6h0M551.1 282.4h0M553.7 260.0h0M533.3 289.1h0M530.5 288.2h0M540.7 297.1h0M565.9 239.7h0M481.1 292.3h0M569.6 249.1h0M597.1 227.5h0M529.6 284.4h0M530.4 283.3h0M552.4 246.8h0M544.0 243.6h0M611.0 216.8h0M559.6 258.2h0M645.8 207.2h0M570.0 256.2h0M648.1 177.9h0M677.5 167.2h0M542.8 272.1h0M635.2 190.0h0M594.2 239.1h0M570.6 263.9h0M519.5 236.7h0M560.2 267.3h0M531.1 283.5h0M558.7 263.0h0M593.7 202.7h0M631.3 206.7h0M577.4 291.0h0M576.2 222.7h0M599.5 246.7h0M591.4 219.8h0M486.3 264.8h0M525.8 292.8h0M613.8 227.8h0M654.5 190.5h0M516.9 283.3h0M531.1 281.9h0M539.4 292.7h0M543.8 271.7h0M557.7 274.9h0M521.0 270.5h0M506.5 305.4h0M645.6 175.7h0M559.9 283.8h0M526.6 271.4h0M606.2 217.2h0M536.4 256.4h0M611.2 205.7h0M600.8 222.5h0M615.6 217.7h0M545.2 265.7h0M606.7 240.1h0M492.1 278.5h0M568.3 256.4h0M552.8 266.5h0M627.7 197.1h0M550.8 262.7h0M505.2 312.5h0M561.4 250.8h0M563.4 274.5h0M574.7 250.9h0M523.0 291.8h0M527.4 272.6h0M551.0 241.9h0M601.3 226.1h0M579.1 235.6h0M603.6 226.9h0M498.8 288.2h0M565.9 271.5h0M591.4 261.9h0M611.0 214.7h0M565.8 236.4h0M539.9 251.1h0M561.9 262.3h0M566.1 264.0h0M518.9 303.1h0M556.4 248.2h0M600.3 218.7h0M605.5 231.1h0M500.2 312.8h0M553.7 248.2h0M509.9 299.7h0M614.1 205.6h0M596.1 237.7h0M595.7 222.9h0M535.6 272.0h0M485.3 304.4h0M524.7 285.0h0M570.8 283.0h0M497.1 288.7h0M546.3 300.9h0M656.2 184.5h0M523.1 299.7h0M600.4 240.4h0M578.1 246.9h0M617.5 230.1h0M637.7 215.7h0M650.3 175.9h0M528.0 307.3h0M580.9 248.0h0M604.5 245.8h0M580.5 233.7h0M643.1 186.7h0M581.4 246.6h0M607.6 189.5h0M615.3 199.6h0M569.2 246.7h0M585.9 226.5h0M529.9 271.5h0M581.1 242.0h0M580.4 251.8h0M560.1 260.4h0M547.0 267.7h0M618.0 216.6h0M565.0 261.8h0M674.9 152.5h0M630.0 197.2h0M609.8 226.9h0M541.0 268.9h0M610.5 214.7h0M575.3 250.2h0M564.2 245.4h0M520.7 281.8h0M593.2 227.5h0M591.8 254.4h0M557.1 274.9h0M548.8 280.1h0M535.8 245.8h0M492.7 271.1h0M517.9 246.9h0M631.8 191.1h0M533.9 265.9h0M680.1 152.2h0M529.7 302.9h0M640.9 223.2h0M626.1 211.3h0M621.6 200.9h0M587.2 222.2h0M499.3 293.0h0M635.1 213.5h0M616.8 204.8h0M560.9 245.5h0M616.4 204.2h0M540.8 288.1h0M550.1 257.7h0M622.6 195.4h0M626.8 191.5h0M570.9 225.0h0M551.1 275.1h0M655.7 183.7h0M619.7 200.5h0M573.0 269.9h0M530.2 281.6h0M585.3 245.7h0M500.0 279.6h0M660.9 183.0h0M592.9 233.7h0M557.9 269.7h0M585.0 235.7h0M527.3 321.5h0M545.1 276.1h0M503.9 297.1h0M543.5 274.7h0M535.5 315.0h0M559.2 262.4h0M511.5 296.7h0M575.0 246.5h0M512.9 316.0h0M614.0 235.6h0M598.0 226.6h0M606.1 219.2h0M645.8 169.2h0M584.3 257.3h0M552.3 235.3h0M596.5 230.9h0M543.4 265.9h0M494.7 309.4h0M513.1 285.3h0M503.0 276.7h0M566.7 241.5h0M518.2 255.2h0M530.2 251.0h0M564.4 208.2h0M578.6 252.0h0M664.8 169.6h0M559.9 255.6h0M534.4 286.8h0M618.3 193.3h0M551.5 270.0h0M559.8 256.8h0M616.2 214.7h0M573.3 248.2h0M593.8 221.0h0M549.2 279.9h0M526.8 241.9h0M600.8 231.2h0M554.0 278.4h0M540.3 258.5h0M564.1 257.4h0M637.2 179.3h0M636.9 188.8h0M604.2 267.2h0M565.3 248.2h0M535.5 271.0h0M636.5 200.3h0M607.7 253.4h0M609.4 209.3h0M621.4 230.6h0M557.0 232.0h0M590.4 208.2h0M616.1 205.7h0M563.9 249.2h0M557.3 267.9h0M608.4 228.0h0M560.8 320.1h0M637.0 188.8h0M586.9 239.0h0M529.1 287.5h0M627.5 192.1h0M597.1 194.1h0M637.6 179.1h0M605.9 197.6h0M601.6 237.0h0M574.9 259.9h0M539.7 292.0h0M606.8 218.6h0M608.5 233.6h0M551.1 263.7h0M574.8 205.1h0M504.9 252.5h0M627.1 209.0h0M581.0 247.6h0M595.4 251.7h0M527.3 261.7h0M579.7 245.8h0M539.8 263.2h0M583.3 229.9h0M566.1 263.8h0M625.4 209.6h0M509.5 293.6h0M511.6 273.8h0M662.5 157.4h0M555.7 272.4h0M600.4 235.9h0M560.4 271.1h0M580.8 243.6h0M701.0 139.3h0M497.5 311.1h0M595.6 228.1h0M561.3 241.1h0M576.2 255.6h0M529.2 268.1h0M511.9 263.3h0M637.2 193.6h0M596.7 232.7h0M499.7 267.7h0M567.4 251.2h0M523.5 295.8h0M706.5 123.3h0M574.7 225.7h0M501.4 304.9h0M613.6 211.7h0M588.7 216.5h0M579.4 235.6h0M602.7 266.5h0M531.2 256.6h0M556.4 256.5h0M480.9 301.1h0M634.9 197.7h0M670.1 167.3h0M604.6 241.0h0M597.3 225.2h0M495.7 275.1h0M551.7 266.8h0M508.0 288.6h0M517.6 290.2h0M601.8 235.9h0M640.4 193.3h0M592.2 279.6h0M692.5 146.2h0M612.4 220.6h0M553.7 267.6h0M612.8 180.2h0M581.4 251.8h0M610.3 200.9h0M499.7 298.0h0M633.8 200.3h0M515.2 281.6h0M598.3 250.6h0M672.2 160.6h0M559.6 241.2h0M559.8 263.0h0M601.8 217.8h0M541.5 283.1h0M542.8 291.3h0M596.1 194.8h0M511.7 297.2h0M548.0 313.0h0M656.8 179.1h0M505.9 278.2h0M588.7 234.6h0M618.6 203.0h0M558.4 252.1h0M531.5 288.8h0M632.5 239.1h0M517.4 269.5h0M670.8 160.8h0M674.6 155.4h0M513.9 272.2h0M606.6 238.3h0M545.6 279.8h0M579.7 233.2h0M545.4 253.1h0M534.9 287.2h0M598.4 237.4h0M489.9 289.2h0M578.5 238.4h0M569.4 267.7h0M544.2 283.5h0M594.3 201.3h0M567.5 252.5h0M544.6 258.4h0M556.9 258.1h0M570.7 273.2h0M632.8 231.3h0M545.2 255.8h0M523.6 282.9h0M525.0 296.1h0M563.1 270.1h0M499.7 280.9h0M503.9 252.0h0M625.3 192.5h0M518.4 295.4h0M590.4 203.6h0M551.9 251.8h0M632.9 200.3h0M619.3 223.3h0M616.6 204.9h0M579.9 247.1h0M528.5 290.3h0M596.2 237.0h0M592.5 233.0h0M575.6 269.8h0M560.2 226.3h0M540.2 258.6h0M568.5 227.2h0M562.9 267.9h0M516.6 303.8h0M560.3 265.2h0M651.5 187.9h0M616.0 223.6h0M640.7 186.5h0M561.4 248.3h0M535.7 252.7h0M527.2 284.3h0M569.7 242.4h0M607.9 200.2h0M604.7 214.9h0M601.2 218.4h0M546.6 267.8h0M583.7 257.9h0M538.6 276.7h0M616.8 224.2h0M590.9 222.0h0M531.4 262.7h0M579.4 252.8h0M621.0 238.5h0M568.5 304.6h0M560.8 271.8h0M615.3 242.5h0M603.5 226.5h0M558.3 287.6h0M656.2 192.6h0M668.1 166.0h0M635.8 187.8h0M630.9 195.4h0M575.3 256.0h0M635.2 192.2h0M532.0 277.9h0M523.0 284.0h0M560.4 234.6h0M584.4 246.7h0M529.5 274.9h0M655.3 175.9h0M512.7 296.2h0M489.9 312.8h0M563.3 276.3h0M653.2 186.5h0M604.2 221.6h0M567.7 225.4h0M595.6 266.6h0M595.1 230.1h0M573.2 232.5h0M583.6 260.0h0M561.7 258.9h0M505.1 298.8h0M617.6 214.6h0M545.4 263.4h0M581.6 235.2h0M586.4 229.4h0M624.9 215.2h0M543.9 283.5h0M610.6 221.5h0M619.3 226.4h0M571.1 266.3h0M568.2 260.5h0M596.0 267.0h0M538.9 293.2h0M558.4 276.2h0M506.1 272.5h0M525.2 267.7h0M540.0 297.2h0M569.1 244.5h0M592.1 231.1h0M551.2 265.4h0M530.3 282.2h0M579.1 230.5h0M599.3 210.8h0M518.3 312.6h0M610.3 215.3h0M496.7 302.6h0M596.5 225.0h0M552.2 270.7h0M563.2 269.0h0M603.8 226.1h0M626.0 182.9h0M667.6 162.8h0M628.3 191.1h0M577.7 206.9h0M512.5 290.3h0M558.7 274.2h0M567.7 245.8h0M552.3 280.2h0M594.9 230.1h0M552.7 259.7h0M644.6 169.0h0M556.2 259.1h0M525.2 296.8h0M542.9 267.4h0M549.8 285.3h0M592.3 217.6h0M645.9 203.5h0M624.2 217.7h0M618.0 212.2h0M538.4 273.7h0M533.9 294.5h0M525.6 269.7h0M585.9 269.3h0M555.5 267.7h0M567.0 231.7h0M612.0 206.4h0M561.7 244.3h0M643.9 174.9h0M553.4 290.6h0M604.3 232.5h0M545.3 241.7h0M617.9 211.9h0M585.7 273.6h0M528.1 254.9h0M561.3 258.9h0M514.1 263.8h0M543.6 301.3h0M560.6 286.6h0M629.6 204.6h0M705.7 157.6h0M561.7 274.3h0M602.9 211.5h0M541.2 239.8h0M502.7 314.2h0M563.5 259.5h0M652.7 202.0h0M518.7 288.0h0M561.6 262.4h0M553.7 256.5h0M507.8 293.0h0M570.9 233.1h0M563.4 263.1h0M580.2 218.7h0M561.8 248.3h0M524.7 305.5h0M570.5 248.9h0M590.3 223.5h0M537.9 248.3h0M590.9 224.9h0M525.4 299.9h0M560.3 261.3h0M538.6 293.1h0M546.4 289.8h0M609.2 200.9h0M499.5 266.5h0M617.7 202.1h0M652.7 176.7h0M621.7 187.0h0M513.2 280.2h0M575.0 262.8h0M679.9 175.2h0M566.7 273.0h0M540.3 271.5h0M551.4 255.0h0M589.9 216.7h0M630.1 212.8h0M582.1 273.7h0M556.9 260.1h0M587.4 235.5h0M557.5 250.9h0M544.1 265.9h0M517.7 323.5h0M580.8 263.2h0M530.5 265.9h0M550.7 261.1h0M546.4 261.1h0M551.0 299.6h0M579.9 225.3h0M622.4 217.1h0M567.1 216.8h0M538.5 275.4h0M573.1 252.3h0M602.8 232.1h0M557.8 259.2h0M609.0 237.4h0M505.8 292.7h0M566.1 272.9h0M642.7 202.6h0M613.4 215.5h0M536.1 242.3h0M563.2 247.8h0M677.7 170.5h0M612.7 206.3h0M533.0 273.1h0M538.8 263.4h0M564.0 292.3h0M526.5 297.1h0M593.8 222.0h0M670.5 157.7h0M588.1 204.5h0M588.4 232.6h0M515.1 301.8h0M555.7 231.1h0M615.7 210.5h0M637.8 192.7h0M562.4 244.9h0M575.9 239.1h0M564.6 256.0h0M572.7 273.7h0M639.8 186.9h0M524.0 278.8h0M515.3 309.1h0M639.9 170.8h0M686.6 166.1h0M511.1 305.7h0M597.3 204.4h0M607.5 224.0h0M529.0 251.7h0M523.1 278.1h0M569.5 247.4h0M545.8 260.6h0M609.0 224.2h0M561.9 291.7h0M618.5 201.5h0M541.2 274.3h0M655.6 194.1h0M624.3 231.0h0M624.6 210.0h0M553.4 270.0h0M552.8 260.4h0M534.0 236.5h0M615.8 198.7h0M531.3 267.7h0M551.5 291.8h0M560.5 266.5h0M589.6 247.3h0M572.5 268.1h0M571.9 266.6h0M517.8 294.6h0M547.7 278.9h0M512.3 275.9h0M626.2 219.1h0M540.1 238.7h0M592.2 222.1h0M501.4 281.1h0M556.8 252.6h0M598.5 253.4h0M506.6 270.3h0M532.6 268.0h0M557.5 281.3h0M566.3 245.8h0M576.3 242.8h0M522.2 304.8h0M585.8 246.6h0M582.7 254.3h0M581.8 246.6h0M538.2 286.0h0M558.7 256.3h0M631.0 203.9h0M625.6 210.5h0M531.8 265.6h0M642.5 186.1h0M549.1 296.8h0M633.3 219.2h0M577.8 240.5h0M672.4 152.6h0M561.2 267.9h0M574.3 253.9h0M602.7 226.6h0M544.5 217.9h0M557.4 274.6h0M578.5 268.6h0M580.5 271.7h0M562.5 256.5h0M583.0 274.2h0M509.1 300.8h0M606.8 216.5h0M539.6 272.5h0M559.2 267.0h0M538.5 281.5h0M562.7 267.6h0M615.1 216.2h0M629.8 203.9h0M572.8 236.3h0M576.0 252.7h0M508.6 240.7h0M573.0 280.4h0M562.4 235.1h0M549.0 253.0h0M532.2 287.8h0M575.9 261.0h0M528.9 288.4h0M675.4 173.4h0M571.0 236.2h0M544.9 273.7h0M594.1 241.9h0M522.0 265.1h0M582.3 286.6h0M643.8 191.2h0M623.7 196.8h0M518.9 288.1h0M519.6 284.8h0M563.7 286.2h0M674.7 157.3h0M560.7 248.4h0M574.2 243.0h0M535.5 262.4h0M630.9 199.4h0M610.7 213.4h0M497.4 302.2h0M514.8 264.9h0M509.7 279.1h0M527.2 273.5h0M519.6 297.8h0M552.3 284.1h0M588.9 218.5h0M634.1 219.2h0M580.0 260.2h0M604.6 228.6h0M514.2 294.4h0M631.9 187.9h0M675.0 154.2h0M557.4 259.4h0M598.9 237.0h0M585.1 243.8h0M609.9 208.2h0M597.8 244.1h0M509.9 306.4h0M536.1 257.8h0M619.2 204.1h0M593.0 231.9h0M512.1 294.0h0M536.5 267.1h0M522.4 262.2h0M575.6 253.4h0M550.9 287.1h0M566.2 254.4h0M572.3 273.7h0M507.2 296.1h0M572.6 229.3h0M587.0 254.0h0M546.2 282.0h0M601.2 224.9h0M672.9 152.9h0M515.1 308.9h0M563.7 238.0h0M586.3 204.3h0M585.5 272.1h0M529.5 262.0h0M544.2 269.7h0M530.2 236.2h0M541.7 276.5h0M618.4 198.9h0M520.7 273.2h0M547.9 270.2h0M559.1 226.0h0M593.1 251.9h0M611.6 212.2h0M561.5 261.9h0M534.5 275.3h0M560.0 257.1h0M517.4 268.9h0M538.7 267.1h0M549.3 272.6h0M587.1 250.2h0M610.8 225.1h0M536.9 298.8h0M543.9 274.9h0M547.6 244.5h0M558.0 250.6h0M560.2 268.5h0M596.8 235.1h0M559.9 266.1h0M512.3 315.9h0M627.1 197.7h0M530.3 301.9h0M642.9 183.7h0M571.5 240.8h0M574.1 237.7h0M515.5 302.1h0M572.3 240.6h0M544.1 289.2h0M596.3 237.1h0M609.9 231.5h0M624.7 206.5h0M528.9 298.9h0M546.0 287.5h0M638.3 201.0h0M591.1 234.6h0M608.6 225.0h0M554.1 278.7h0M588.3 246.6h0M605.6 221.8h0M519.6 290.3h0M539.5 275.2h0M588.7 255.3h0M642.1 204.6h0M543.5 263.4h0M596.9 226.4h0M538.6 283.0h0M514.8 283.5h0M602.3 234.1h0M534.1 289.8h0M564.1 251.6h0M545.8 272.5h0M596.6 238.6h0M498.7 273.9h0M535.8 313.1h0M514.9 296.5h0M568.6 270.9h0M630.3 203.0h0M609.3 224.0h0M586.4 257.7h0M551.4 253.3h0M631.7 210.1h0M562.4 260.3h0M616.3 211.8h0M634.0 200.4h0M602.8 231.2h0M582.8 238.2h0M582.9 239.0h0M557.0 255.0h0M574.0 240.8h0M541.6 288.3h0M535.2 280.9h0M632.8 182.4h0M544.0 246.6h0M504.5 304.4h0M617.8 187.8h0M643.7 209.5h0M599.7 248.6h0M533.1 301.9h0M663.7 177.5h0M607.7 202.2h0M621.4 201.3h0M556.4 264.4h0M597.4 249.5h0M554.3 264.2h0M547.7 256.5h0M531.7 296.9h0M538.2 280.2h0M557.5 280.5h0M614.9 216.7h0M580.8 224.3h0M499.3 306.6h0M610.1 208.7h0M586.7 235.3h0M563.8 268.1h0M567.0 254.1h0M551.6 274.2h0M523.3 284.0h0M631.9 178.3h0M516.7 268.9h0M638.6 209.4h0M566.5 260.2h0M562.1 254.9h0M543.5 289.8h0M520.9 286.9h0M575.9 218.3h0M574.5 238.5h0M615.0 236.4h0M516.2 317.2h0M512.4 274.7h0M527.6 266.1h0M582.6 255.0h0M590.2 221.9h0M502.3 266.3h0M570.3 275.8h0M564.0 264.3h0M549.2 252.0h0M639.8 190.7h0M546.8 286.6h0M573.9 253.4h0M544.8 248.6h0M566.1 250.6h0M591.6 222.5h0M532.5 261.4h0M547.5 276.7h0M525.1 295.7h0M549.0 274.6h0M684.3 158.8h0M497.2 301.7h0M497.3 301.4h0M553.6 241.9h0M539.2 292.2h0M622.8 203.0h0M504.1 295.6h0M641.0 183.9h0M537.5 261.6h0M508.1 307.7h0M533.6 285.1h0M542.0 277.4h0M579.9 241.3h0M527.2 302.4h0M714.3 126.4h0M598.5 216.3h0M563.4 268.1h0M532.5 263.8h0M703.0 146.3h0M534.5 277.6h0M603.9 227.2h0M634.5 191.5h0M533.0 285.8h0M603.2 240.9h0M543.2 268.8h0M634.0 198.0h0M626.2 185.9h0M590.2 232.6h0M573.7 251.3h0M538.2 306.4h0M678.2 144.4h0M649.0 199.2h0M598.6 224.1h0M637.5 190.6h0M560.5 251.7h0M533.0 295.9h0M602.2 208.1h0M539.3 292.1h0M538.9 266.4h0M586.3 210.8h0M495.4 290.9h0M581.0 267.9h0M556.3 267.1h0M507.9 277.4h0M535.5 303.5h0M582.0 284.1h0M559.6 269.9h0M574.0 250.9h0M503.7 293.6h0M599.6 278.8h0M521.4 294.8h0M538.7 282.7h0M612.4 214.4h0M523.0 262.0h0M562.7 284.3h0M538.2 282.6h0M544.9 241.0h0M600.5 215.8h0M564.0 276.9h0M603.0 232.4h0M519.7 295.9h0M607.1 253.1h0M548.8 250.2h0M579.6 263.2h0M539.7 290.4h0M532.9 266.5h0M572.9 237.6h0M531.8 298.8h0M599.4 220.5h0M545.4 266.6h0M575.1 227.1h0M485.7 257.2h0M506.0 303.2h0M614.3 244.0h0M598.7 227.1h0M543.2 241.5h0M600.3 231.1h0M566.3 259.1h0M609.4 238.2h0M549.6 231.9h0M539.4 292.6h0M619.5 208.8h0M536.5 289.9h0M680.3 161.5h0M537.4 242.7h0M529.5 281.9h0M566.9 271.4h0M574.3 259.4h0M582.8 224.2h0M532.0 264.3h0M526.1 274.3h0M596.8 246.0h0M622.9 209.6h0M490.2 310.7h0M566.5 248.6h0M505.4 288.9h0M647.0 179.0h0M548.6 287.7h0M548.9 249.6h0M564.6 284.8h0M652.1 176.6h0M614.6 220.5h0M569.4 247.7h0M557.9 271.1h0M503.5 303.6h0M543.9 255.7h0M575.0 300.1h0M549.2 250.3h0M510.2 322.9h0M629.7 201.8h0M608.2 214.2h0M650.4 190.5h0M548.3 276.7h0M563.8 257.3h0M538.6 306.2h0M583.0 195.1h0M532.0 241.6h0M652.2 185.6h0M609.6 230.2h0M607.8 225.4h0M605.4 242.3h0M512.0 298.5h0M612.8 233.2h0M505.3 300.6h0M593.1 253.0h0M590.8 226.3h0M522.9 288.8h0M538.0 270.5h0M573.5 273.3h0M573.6 239.5h0M569.2 233.7h0M556.2 245.1h0M563.7 306.4h0M568.4 234.4h0M699.8 155.8h0M544.0 272.5h0M639.6 182.0h0M515.1 284.7h0M535.1 269.1h0M643.1 207.8h0M626.2 234.7h0M642.7 183.6h0M581.7 218.7h0M523.3 257.6h0M562.6 247.9h0M539.4 261.4h0M610.7 205.3h0M591.9 226.5h0M612.6 189.7h0M528.6 266.8h0M555.2 263.4h0M544.0 264.4h0M558.6 273.0h0M546.0 250.3h0M642.2 212.1h0M566.5 245.6h0M619.6 201.6h0M563.7 237.9h0M510.3 316.0h0M505.7 289.0h0M576.5 277.0h0M622.4 205.7h0M574.0 263.6h0M579.3 258.2h0M567.2 273.6h0M596.8 233.5h0M610.6 224.1h0M564.1 231.9h0M536.2 270.8h0M505.8 268.5h0M559.7 273.6h0M559.5 256.8h0M572.9 232.6h0M541.8 264.5h0M530.0 265.1h0M589.2 235.2h0M603.8 219.6h0M597.7 260.4h0M512.8 273.8h0M568.3 278.0h0M678.7 167.5h0M527.3 288.5h0M556.3 271.1h0M611.9 218.2h0M534.3 287.9h0M563.6 274.3h0M632.3 203.8h0M611.5 212.6h0M478.6 290.3h0M600.0 234.8h0M549.0 262.4h0M503.2 286.8h0M600.6 196.0h0M545.6 271.5h0M578.9 271.1h0M516.5 266.7h0M599.9 218.4h0M616.3 222.4h0M590.7 210.3h0M696.6 161.8h0M587.7 221.5h0M545.4 257.6h0M594.6 232.7h0M572.6 229.7h0M597.2 216.9h0M613.2 217.2h0M661.4 157.8h0M602.2 204.4h0M539.6 265.2h0M675.0 154.5h0M609.0 215.2h0M677.0 161.2h0M639.3 219.0h0M552.2 252.2h0M528.4 309.9h0M605.0 262.2h0M603.1 223.3h0M554.0 256.7h0M529.3 290.1h0M613.2 205.0h0M544.0 268.5h0M655.6 191.7h0M552.6 264.1h0M594.1 227.4h0M552.8 250.6h0M585.8 218.1h0M600.0 218.2h0M510.9 320.8h0M544.7 265.5h0M560.8 272.3h0M553.7 268.1h0M575.7 252.0h0M636.4 200.0h0M546.7 287.7h0M575.6 200.0h0M558.6 261.7h0M536.4 261.1h0M513.9 288.9h0M575.6 298.8h0M517.7 269.5h0M609.8 238.8h0M657.8 188.0h0M605.1 227.6h0M623.5 226.6h0M560.8 289.8h0M596.3 207.6h0M525.1 261.7h0M539.4 278.5h0M571.7 224.6h0M548.3 269.8h0M591.4 210.3h0M567.6 231.2h0M580.7 275.2h0M600.6 254.9h0M595.2 244.5h0M595.1 259.7h0M637.0 206.3h0M551.7 268.7h0M512.1 278.9h0M538.4 280.9h0M549.7 286.9h0M568.2 255.8h0M657.3 179.5h0M538.9 283.5h0M538.8 273.6h0M562.5 275.3h0M538.0 268.4h0M600.8 212.1h0M636.1 193.2h0M531.8 259.9h0M556.4 240.4h0M605.3 198.1h0M591.7 237.1h0M568.3 260.1h0M596.7 238.3h0M545.9 234.6h0M552.6 275.5h0M541.6 263.9h0M553.4 266.0h0M595.5 242.6h0M515.2 272.2h0M615.7 225.8h0M543.8 271.5h0M547.7 289.3h0M596.2 223.5h0M603.0 219.9h0M623.9 212.7h0M628.4 184.8h0M530.8 276.5h0M563.4 261.3h0M542.3 291.1h0M530.6 262.4h0M617.2 216.4h0M580.3 231.8h0M600.7 252.8h0M596.2 236.7h0M548.8 259.3h0M510.2 192.9h0M491.8 211.4h0M511.6 222.0h0M540.6 212.2h0M611.9 152.8h0M654.1 130.4h0M667.3 127.2h0M668.7 131.7h0M712.2 125.1h0M716.2 131.1h0M721.5 122.5h0M722.2 127.0h0M489.1 248.4h0M492.5 244.7h0M478.6 275.6h0M483.8 275.6h0M477.3 323.1h0M485.2 321.8h0M499.7 328.4h0M526.1 328.4h0M522.2 343.4h0M604.0 311.2h0M625.1 286.1h0M627.2 289.6h0M638.3 282.1h0M639.6 274.8h0M650.2 252.6h0M659.4 242.6h0M662.0 239.9h0M668.7 270.3h0M684.5 203.8h0M689.8 199.0h0M700.3 170.0h0M701.1 172.6h0M569.7 182.4h0M563.0 190.5h0M585.5 182.4h0M593.4 185.8h0M600.0 179.2h0M609.2 183.2h0M618.5 164.7h0M631.7 167.3h0M535.3 224.1h0M522.2 230.7h0M519.5 243.9h0M509.0 245.2h0M499.7 253.1h0M593.4 279.0h0M600.0 286.1h0M604.0 286.1h0M571.0 316.5h0M572.3 317.0h0M555.1 311.2h0M586.8 292.8h0M593.4 300.7h0M654.1 217.5h0M660.8 220.1h0M669.9 200.3h0M667.3 201.7h0" stroke="#000" stroke-width="3.9" stroke-linecap="round" fill="none"/><circle cx="977.4" cy="273.45" r="164.7" fill="#a1a1a1"/><path d="M977.4 273.45L1115.06 183.03A164.7 164.7 0 0 1 1120.03 355.80Z" fill="#d1de26"/><text x="975.5" y="64.4" font-size="27" text-anchor="middle" >LTR-driven transcripts</text><text x="976" y="96.6" font-size="27" text-anchor="middle">(<tspan font-style="italic">n</tspan> = 244)</text><text x="901.7" y="252.2" font-size="27" text-anchor="middle" >MS</text><text x="901" y="278.6" font-size="27" text-anchor="middle" >undetected</text><text x="908.2" y="309.5" font-size="27" text-anchor="middle" >82.4%</text><text x="1067.8" y="281.6" font-size="27" text-anchor="middle" >MS detected</text><text x="1086.2" y="308.8" font-size="27" text-anchor="middle" >17.6%</text><path d="M58.1 573.2H561.2M58.1 666.1H561.2M58.1 894.2H561.2" stroke="#000" stroke-width="3" stroke-linecap="round" fill="none"/><text x="108.5" y="632.5" font-size="27" text-anchor="middle" >Protein</text><text x="267.9" y="608.7" font-size="27" text-anchor="middle" >Fold change</text><text x="268.1" y="647.5" font-size="27" text-anchor="middle" >(cKO/Ctrl)</text><text x="460" y="607.5" font-size="27" text-anchor="middle" >Significance</text><text x="460.5" y="647.5" font-size="27" text-anchor="middle">(-10*log<tspan font-size="16" dy="7">10</tspan><tspan dy="-7" font-style="italic">P</tspan>-value)</text><text x="110.5" y="711.3" font-size="26.8" text-anchor="middle" >Calm1</text><text x="264.5" y="711.3" font-size="26.8" text-anchor="middle" >1.57</text><text x="458" y="711.3" font-size="26.8" text-anchor="middle" >19.78</text><text x="110.5" y="766.3" font-size="26.8" text-anchor="middle" >Nuf2</text><text x="264.5" y="766.3" font-size="26.8" text-anchor="middle" >2.02</text><text x="458" y="766.3" font-size="26.8" text-anchor="middle" >6.78</text><text x="110.5" y="821.3" font-size="26.8" text-anchor="middle" >Chk1</text><text x="264.5" y="821.3" font-size="26.8" text-anchor="middle" >2.26</text><text x="458" y="821.3" font-size="26.8" text-anchor="middle" >5.31</text><text x="110.5" y="871.5" font-size="26.8" text-anchor="middle" >Bub3</text><text x="264.5" y="871.5" font-size="26.8" text-anchor="middle" >1.13</text><text x="458" y="871.5" font-size="26.8" text-anchor="middle" >2.17</text><rect x="751.1" y="513.2" width="416.9" height="399.8" fill="none" stroke="#000" stroke-width="2.4"/><path d="M742 538.3H751M742 627.6H751M742 716.9H751M742 806.1H751M742 895.2H751M764 913V921.2M828.5 913V921.2M893.6 913V921.2M958.8 913V921.2M1023.8 913V921.2M1089.5 913V921.2M1154.6 913V921.2" stroke="#000" stroke-width="2.4" fill="none"/><text x="736" y="547.3" font-size="26" text-anchor="end" >1.00</text><text x="736" y="636.6" font-size="26" text-anchor="end" >0.75</text><text x="736" y="725.9" font-size="26" text-anchor="end" >0.50</text><text x="736" y="815.1" font-size="26" text-anchor="end" >0.25</text><text x="736" y="904.2" font-size="26" text-anchor="end" >0</text><text x="764" y="946.2" font-size="26.5" text-anchor="middle" >-1.5</text><text x="828.5" y="946.2" font-size="26.5" text-anchor="middle" >-1</text><text x="893.6" y="946.2" font-size="26.5" text-anchor="middle" >-0.5</text><text x="958.8" y="946.2" font-size="26.5" text-anchor="middle" >0</text><text x="1023.8" y="946.2" font-size="26.5" text-anchor="middle" >0.5</text><text x="1089.5" y="946.2" font-size="26.5" text-anchor="middle" >1</text><text x="1154.6" y="946.2" font-size="26.5" text-anchor="middle" >1.5</text><text x="846.8" y="975.3" font-size="26.4">Log<tspan font-size="16" dy="6">2</tspan><tspan dy="-6"> (cKO/Ctrl)</tspan></text><text transform="translate(671.5 717) rotate(-90)" font-size="27" text-anchor="middle">Cumulative probability</text><path d="M751.0 880.8H776.5V879.5H800.8V878.2H805.0V876.9H808.8V875.6H813.2V874.3H818.3V873.0H822.8V871.7H829.9V870.4H833.4V869.1H836.7V867.8H841.1V866.5H845.9V865.2H849.9V864.0H851.9V862.7H853.7V861.4H855.4V860.1H857.2V858.8H858.8V857.5H861.1V856.2H864.3V854.9H868.3V853.6H871.5V852.3H875.6V851.0H877.5V849.7H878.3V848.4H879.4V847.1H880.2V845.8H881.3V844.6H882.2V843.3H883.0V842.0H884.2V840.7H885.0V839.4H885.9V838.1H886.9V836.8H887.7V835.5H888.6V834.2H889.5V832.9H890.5V831.6H891.7V830.3H892.6V829.0H893.4V827.7H894.3V826.4H895.1V825.2H896.4V823.9H897.5V822.6H898.7V821.3H900.0V820.0H901.2V818.7H902.3V817.4H903.6V816.1H905.0V814.8H906.1V813.5H906.7V812.2H907.5V810.9H908.3V809.6H909.1V808.3H909.8V807.0H910.5V805.8H911.2V804.5H911.9V803.2H912.6V801.9H913.2V800.6H913.8V799.3H914.3V798.0H914.9V796.7H915.5V795.4H916.5V794.1H917.8V792.8H919.0V791.5H920.1V790.2H921.3V788.9H922.5V787.6H924.8V786.3H926.7V785.1H928.7V783.8H929.2V782.5H929.6V781.2H930.0V779.9H930.4V778.6H931.0V777.3H931.4V776.0H931.8V774.7H932.2V773.4H932.9V772.1H933.7V770.8H934.7V769.5H935.5V768.2H936.3V766.9H937.0V765.7H937.7V764.4H938.3V763.1H938.8V761.8H939.5V760.5H940.1V759.2H940.8V757.9H941.3V756.6H942.1V755.3H942.7V754.0H943.2V752.7H944.1V751.4H944.8V750.1H945.5V748.8H946.2V747.5H946.9V746.2H947.6V745.0H948.3V743.7H949.0V742.4H950.0V741.1H950.7V739.8H951.3V738.5H951.8V737.2H952.4V735.9H953.0V734.6H953.6V733.3H954.3V732.0H954.8V730.7H955.4V729.4H955.9V728.1H956.6V726.8H957.1V725.6H957.7V724.3H958.1V723.0H958.6V721.7H959.0V720.4H959.5V719.1H959.9V717.8H960.3V716.5H960.6V715.2H961.0V713.9H961.4V712.6H961.8V711.3H962.2V710.0H962.6V708.7H963.1V707.4H963.7V706.2H964.1V704.9H964.5V703.6H965.0V702.3H965.4V701.0H965.9V699.7H966.3V698.4H967.3V697.1H968.4V695.8H969.5V694.5H970.5V693.2H971.6V691.9H972.6V690.6H973.6V689.3H975.1V688.0H977.5V686.8H978.9V685.5H979.5V684.2H980.0V682.9H980.5V681.6H981.1V680.3H981.6V679.0H982.2V677.7H982.8V676.4H983.3V675.1H983.9V673.8H984.6V672.5H985.3V671.2H986.0V669.9H986.7V668.6H987.3V667.3H987.9V666.1H988.6V664.8H989.3V663.5H989.9V662.2H990.5V660.9H991.2V659.6H991.8V658.3H992.4V657.0H993.0V655.7H993.6V654.4H994.4V653.1H995.1V651.8H995.7V650.5H996.3V649.2H998.0V647.9H999.6V646.7H1001.2V645.4H1002.8V644.1H1004.4V642.8H1005.8V641.5H1007.2V640.2H1008.7V638.9H1009.9V637.6H1010.7V636.3H1011.5V635.0H1012.3V633.7H1013.3V632.4H1014.1V631.1H1014.8V629.8H1015.6V628.5H1016.3V627.2H1017.1V626.0H1017.8V624.7H1018.6V623.4H1019.3V622.1H1020.1V620.8H1020.8V619.5H1021.5V618.2H1022.2V616.9H1022.9V615.6H1023.5V614.3H1024.4V613.0H1025.0V611.7H1025.7V610.4H1026.4V609.1H1027.3V607.8H1028.1V606.6H1028.9V605.3H1029.7V604.0H1030.4V602.7H1031.3V601.4H1032.3V600.1H1033.1V598.8H1034.4V597.5H1035.7V596.2H1037.0V594.9H1038.6V593.6H1040.0V592.3H1042.2V591.0H1044.4V589.7H1046.4V588.4H1048.6V587.2H1050.5V585.9H1053.9V584.6H1058.1V583.3H1062.3V582.0H1064.8V580.7H1065.9V579.4H1067.0V578.1H1068.1V576.8H1069.1V575.5H1070.4V574.2H1071.9V572.9H1074.4V571.6H1076.3V570.3H1078.8V569.0H1082.4V567.8H1086.7V566.5H1090.4V565.2H1099.9V563.9H1108.7V562.6H1112.7V561.3H1114.7V560.0H1116.6V558.7H1118.6V557.4H1128.1V556.1H1142.7V554.8H1152.3V553.5H1166.5" stroke="#18146a" stroke-width="2.2" fill="none"/><path d="M751.0 878.2H759.2V876.9H767.7V875.6H776.3V874.3H786.0V873.0H796.2V871.7H806.8V870.4H810.9V869.1H814.9V867.8H818.9V866.5H823.3V865.2H831.0V864.0H838.7V862.7H846.0V861.4H851.5V860.1H854.3V858.8H856.9V857.5H859.7V856.2H862.6V854.9H865.4V853.6H868.8V852.3H872.5V851.0H876.2V849.7H880.0V848.4H883.1V847.1H883.7V845.8H884.3V844.6H885.0V843.3H885.7V842.0H886.3V840.7H886.9V839.4H888.9V838.1H891.8V836.8H895.3V835.5H898.1V834.2H899.1V832.9H900.1V831.6H900.9V830.3H901.8V829.0H902.7V827.7H903.6V826.4H904.6V825.2H905.7V823.9H906.8V822.6H907.7V821.3H908.4V820.0H909.2V818.7H909.9V817.4H910.7V816.1H911.5V814.8H912.3V813.5H913.0V812.2H914.0V810.9H914.7V809.6H915.5V808.3H916.3V807.0H917.2V805.8H917.8V804.5H918.2V803.2H918.7V801.9H919.1V800.6H919.6V799.3H920.1V798.0H920.5V796.7H921.0V795.4H921.4V794.1H921.9V792.8H922.3V791.5H924.1V790.2H927.2V788.9H929.0V787.6H929.4V786.3H929.9V785.1H930.3V783.8H930.8V782.5H931.6V781.2H936.7V779.9H937.8V778.6H938.4V777.3H939.1V776.0H939.8V774.7H940.4V773.4H941.1V772.1H941.7V770.8H942.6V769.5H943.3V768.2H943.9V766.9H944.7V765.7H945.9V764.4H946.9V763.1H947.8V761.8H948.7V760.5H949.7V759.2H950.5V757.9H951.4V756.6H952.2V755.3H952.7V754.0H953.3V752.7H953.8V751.4H954.4V750.1H955.0V748.8H955.5V747.5H956.1V746.2H956.7V745.0H957.2V743.7H957.8V742.4H958.2V741.1H958.6V739.8H959.0V738.5H959.4V737.2H959.9V735.9H960.3V734.6H960.7V733.3H961.0V732.0H961.6V730.7H962.0V729.4H962.4V728.1H962.9V726.8H964.2V725.6H965.4V724.3H966.7V723.0H967.8V721.7H968.5V720.4H969.2V719.1H969.8V717.8H970.3V716.5H970.9V715.2H971.5V713.9H972.1V712.6H972.6V711.3H973.1V710.0H973.7V708.7H974.1V707.4H974.5V706.2H974.8V704.9H975.2V703.6H975.6V702.3H975.9V701.0H976.3V699.7H976.6V698.4H977.1V697.1H977.5V695.8H978.3V694.5H979.1V693.2H979.9V691.9H980.8V690.6H981.7V689.3H982.5V688.0H983.2V686.8H983.7V685.5H984.1V684.2H984.4V682.9H984.7V681.6H985.1V680.3H985.8V679.0H986.1V677.7H986.5V676.4H986.8V675.1H987.3V673.8H987.6V672.5H987.9V671.2H988.4V669.9H989.0V668.6H989.5V667.3H990.2V666.1H990.9V664.8H991.6V663.5H992.2V662.2H992.8V660.9H993.3V659.6H993.9V658.3H994.4V657.0H994.9V655.7H995.5V654.4H996.1V653.1H996.7V651.8H997.5V650.5H998.4V649.2H999.3V647.9H1000.3V646.7H1001.1V645.4H1002.0V644.1H1002.8V642.8H1003.9V641.5H1004.7V640.2H1005.2V638.9H1005.6V637.6H1006.0V636.3H1006.4V635.0H1006.8V633.7H1007.3V632.4H1007.9V631.1H1008.3V629.8H1009.0V628.5H1009.8V627.2H1010.5V626.0H1011.3V624.7H1012.0V623.4H1012.8V622.1H1013.6V620.8H1014.4V619.5H1015.2V618.2H1015.9V616.9H1017.2V615.6H1018.5V614.3H1019.8V613.0H1021.3V611.7H1022.7V610.4H1024.5V609.1H1025.9V607.8H1027.5V606.6H1029.3V605.3H1031.0V604.0H1032.5V602.7H1034.6V601.4H1037.1V600.1H1039.8V598.8H1042.2V597.5H1044.6V596.2H1046.5V594.9H1047.2V593.6H1048.1V592.3H1049.0V591.0H1049.7V589.7H1050.6V588.4H1051.5V587.2H1058.4V585.9H1062.8V584.6H1066.1V583.3H1069.1V582.0H1072.3V580.7H1075.6V579.4H1078.6V578.1H1081.4V576.8H1083.7V575.5H1086.0V574.2H1087.9V572.9H1090.2V571.6H1092.8V570.3H1096.0V569.0H1099.6V567.8H1103.1V566.5H1110.1V565.2H1116.2V563.9H1118.3V562.6H1119.9V561.3H1121.6V560.0H1138.1V558.7H1166.5" stroke="#cc1820" stroke-width="2.2" fill="none"/><path d="M756.6 527H771.7" stroke="#c0141e" stroke-width="3.6"/><path d="M756.6 553.9H771.7" stroke="#1a1a80" stroke-width="3.6"/><text x="776" y="535.3" font-size="23.2">miRNA density &gt; 5.56 (<tspan font-style="italic">n</tspan> = 276)</text><text x="776" y="560.5" font-size="23.2">miRNA density &lt; 5.56 (<tspan font-style="italic">n</tspan> = 276)</text><text x="1087" y="821.7" font-size="26" text-anchor="middle"><tspan font-style="italic">P</tspan> = 0.361</text><path d="M1224.5 45.8H1656.6M1669.7 45.8H2110.9M1224.5 133.2H1656.6M1669.7 133.2H2110.9M1244.9 960H2110.9" stroke="#000" stroke-width="3.1" stroke-linecap="round" fill="none"/><text x="1326.2" y="82" font-size="24.8" text-anchor="middle" >LTR-driven</text><text x="1326.2" y="111" font-size="24.8" text-anchor="middle">proteins (<tspan font-style="italic">n</tspan> = 43)</text><text x="1537.7" y="82" font-size="24.8" text-anchor="middle" >Fold change</text><text x="1542" y="111" font-size="24.8" text-anchor="middle">log<tspan font-size="15" dy="6">2</tspan><tspan dy="-6">(cKO/Ctrl) &gt; 0.6</tspan></text><text x="1771.6" y="82" font-size="24.8" text-anchor="middle" >LTR-driven</text><text x="1771.5" y="111" font-size="24.8" text-anchor="middle">proteins (<tspan font-style="italic">n</tspan> = 43)</text><text x="1992.3" y="82" font-size="24.8" text-anchor="middle" >Fold change</text><text x="1996" y="111" font-size="24.8" text-anchor="middle">log<tspan font-size="15" dy="6">2</tspan><tspan dy="-6">(cKO/Ctrl) &gt; 0.6</tspan></text><text x="1340.3" y="168.0" font-size="23.6" text-anchor="middle" >Fmnl2</text><text x="1544.5" y="168.0" font-size="23.6" text-anchor="middle" >2.91</text><text x="1340.3" y="202.3" font-size="23.6" text-anchor="middle" >Nubpl</text><text x="1544.5" y="202.3" font-size="23.6" text-anchor="middle" >2.81</text><text x="1340.3" y="236.7" font-size="23.6" text-anchor="middle" >Hltf</text><text x="1544.5" y="236.7" font-size="23.6" text-anchor="middle" >2.32</text><text x="1340.3" y="271.1" font-size="23.6" text-anchor="middle" >Galnt13</text><text x="1544.5" y="271.1" font-size="23.6" text-anchor="middle" >2.00</text><text x="1340.3" y="305.4" font-size="23.6" text-anchor="middle" >Nell1</text><text x="1544.5" y="305.4" font-size="23.6" text-anchor="middle" >2.00</text><text x="1340.3" y="339.8" font-size="23.6" text-anchor="middle" >Slc28a1</text><text x="1544.5" y="339.8" font-size="23.6" text-anchor="middle" >2.00</text><text x="1340.3" y="374.1" font-size="23.6" text-anchor="middle" >Prune2</text><text x="1544.5" y="374.1" font-size="23.6" text-anchor="middle" >1.81</text><text x="1340.3" y="408.5" font-size="23.6" text-anchor="middle" >Park2</text><text x="1544.5" y="408.5" font-size="23.6" text-anchor="middle" >1.58</text><text x="1340.3" y="442.8" font-size="23.6" text-anchor="middle" >Dusp12</text><text x="1544.5" y="442.8" font-size="23.6" text-anchor="middle" >1.58</text><text x="1340.3" y="477.2" font-size="23.6" text-anchor="middle" >Tom1l2</text><text x="1544.5" y="477.2" font-size="23.6" text-anchor="middle" >1.58</text><text x="1340.3" y="511.5" font-size="23.6" text-anchor="middle" >Scaper</text><text x="1544.5" y="511.5" font-size="23.6" text-anchor="middle" >1.58</text><text x="1340.3" y="545.9" font-size="23.6" text-anchor="middle" >Pde5a</text><text x="1544.5" y="545.9" font-size="23.6" text-anchor="middle" >1.58</text><text x="1340.3" y="580.2" font-size="23.6" text-anchor="middle" >Slco5a1</text><text x="1544.5" y="580.2" font-size="23.6" text-anchor="middle" >1.58</text><text x="1340.3" y="614.5" font-size="23.6" text-anchor="middle" >Il2ra</text><text x="1544.5" y="614.5" font-size="23.6" text-anchor="middle" >1.42</text><text x="1340.3" y="648.9" font-size="23.6" text-anchor="middle" >Cdc14b</text><text x="1544.5" y="648.9" font-size="23.6" text-anchor="middle" >1.42</text><text x="1340.3" y="683.2" font-size="23.6" text-anchor="middle" >Pnrc1</text><text x="1544.5" y="683.2" font-size="23.6" text-anchor="middle" >1.32</text><text x="1340.3" y="717.6" font-size="23.6" text-anchor="middle" >Pgbd5</text><text x="1544.5" y="717.6" font-size="23.6" text-anchor="middle" >1.17</text><text x="1340.3" y="752.0" font-size="23.6" text-anchor="middle" >Btbd9</text><text x="1544.5" y="752.0" font-size="23.6" text-anchor="middle" >1.14</text><text x="1343.8" y="786.3" font-size="23.6" text-anchor="middle" >Sult4a1</text><text x="1544.5" y="786.3" font-size="23.6" text-anchor="middle" >1.00</text><text x="1343.8" y="826.6" font-size="23.6" text-anchor="middle" >Plin2</text><text x="1544.5" y="826.6" font-size="23.6" text-anchor="middle" >0.89</text><text x="1343.8" y="866" font-size="23.6" text-anchor="middle" >Snrpn</text><text x="1544.5" y="866" font-size="23.6" text-anchor="middle" >0.87</text><text x="1343.8" y="905" font-size="23.6" text-anchor="middle" >Dlgap5</text><text x="1544.5" y="905" font-size="23.6" text-anchor="middle" >0.87</text><text x="1339" y="946.3" font-size="23.6" text-anchor="middle" >Sp110</text><text x="1544.5" y="946.3" font-size="23.6" text-anchor="middle" >0.64</text><text x="1759.7" y="168.0" font-size="23.6" text-anchor="middle" >Aspm</text><text x="1959.2" y="168.0" font-size="23.6" text-anchor="middle" >1.00</text><text x="1759.7" y="207.0" font-size="23.6" text-anchor="middle" >Prr16</text><text x="1959.2" y="207.0" font-size="23.6" text-anchor="middle" >1.00</text><text x="1759.7" y="246.0" font-size="23.6" text-anchor="middle" >Sntg1</text><text x="1959.2" y="246.0" font-size="23.6" text-anchor="middle" >1.00</text><text x="1759.7" y="285.1" font-size="23.6" text-anchor="middle" >Cdh23</text><text x="1959.2" y="285.1" font-size="23.6" text-anchor="middle" >1.00</text><text x="1759.7" y="324.1" font-size="23.6" text-anchor="middle" >Ddx50</text><text x="1959.2" y="324.1" font-size="23.6" text-anchor="middle" >1.00</text><text x="1759.7" y="363.1" font-size="23.6" text-anchor="middle" >Ppm1h</text><text x="1959.2" y="363.1" font-size="23.6" text-anchor="middle" >1.00</text><text x="1759.7" y="402.1" font-size="23.6" text-anchor="middle" >Rrh</text><text x="1959.2" y="402.1" font-size="23.6" text-anchor="middle" >1.00</text><text x="1759.7" y="441.1" font-size="23.6" text-anchor="middle" >Gbp7</text><text x="1959.2" y="441.1" font-size="23.6" text-anchor="middle" >1.00</text><text x="1759.7" y="480.2" font-size="23.6" text-anchor="middle" >Prom1</text><text x="1959.2" y="480.2" font-size="23.6" text-anchor="middle" >1.00</text><text x="1759.7" y="519.2" font-size="23.6" text-anchor="middle" >Corin</text><text x="1959.2" y="519.2" font-size="23.6" text-anchor="middle" >1.00</text><text x="1759.7" y="558.2" font-size="23.6" text-anchor="middle" >Grm8</text><text x="1959.2" y="558.2" font-size="23.6" text-anchor="middle" >1.00</text><text x="1759.7" y="597.2" font-size="23.6" text-anchor="middle" >Svopl</text><text x="1959.2" y="597.2" font-size="23.6" text-anchor="middle" >1.00</text><text x="1759.7" y="636.2" font-size="23.6" text-anchor="middle" >Cdyl2</text><text x="1959.2" y="636.2" font-size="23.6" text-anchor="middle" >1.00</text><text x="1759.7" y="675.3" font-size="23.6" text-anchor="middle" >Maob</text><text x="1959.2" y="675.3" font-size="23.6" text-anchor="middle" >1.00</text><text x="1759.7" y="714.3" font-size="23.6" text-anchor="middle" >Glra4</text><text x="1959.2" y="714.3" font-size="23.6" text-anchor="middle" >1.00</text><text x="1759.7" y="753.3" font-size="23.6" text-anchor="middle" >Fbxl3</text><text x="1959.2" y="753.3" font-size="23.6" text-anchor="middle" >1.00</text><text x="1759.7" y="798.4" font-size="23.6" text-anchor="middle" >Mipol1</text><text x="1959.2" y="798.4" font-size="23.6" text-anchor="middle" >0.81</text><text x="1759.7" y="836.9" font-size="23.6" text-anchor="middle" >Exo1</text><text x="1959.2" y="836.9" font-size="23.6" text-anchor="middle" >0.75</text><text x="1759.7" y="875.9" font-size="23.6" text-anchor="middle" >Mast2</text><text x="1959.2" y="875.9" font-size="23.6" text-anchor="middle" >0.70</text><text x="1759.7" y="914" font-size="23.6" text-anchor="middle" >Pla1a</text><text x="1959.2" y="914" font-size="23.6" text-anchor="middle" >0.68</text>
</svg></body></html>
